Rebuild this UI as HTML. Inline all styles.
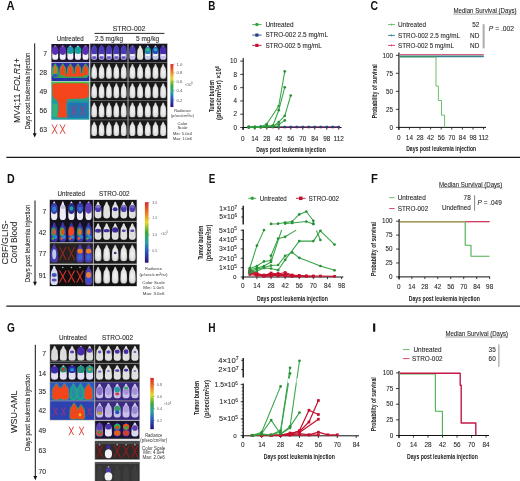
<!DOCTYPE html><html><head><meta charset="utf-8"><style>html,body{margin:0;padding:0;background:#fff;overflow:hidden}svg{display:block;will-change:transform}text{font-family:"Liberation Sans",sans-serif}</style></head><body>
<svg width="520" height="481" viewBox="0 0 520 481" font-family="Liberation Sans, sans-serif" fill="#222">
<defs>
<filter id="b1" x="-50%" y="-50%" width="200%" height="200%"><feGaussianBlur stdDeviation="0.6"/></filter>
<filter id="b2" x="-50%" y="-50%" width="200%" height="200%"><feGaussianBlur stdDeviation="1.2"/></filter>
<filter id="b05" x="-20%" y="-20%" width="140%" height="140%"><feGaussianBlur stdDeviation="0.35"/></filter>
<linearGradient id="cbar" x1="0" y1="0" x2="0" y2="1">
<stop offset="0" stop-color="#d8262a"/><stop offset="0.18" stop-color="#f07a20"/><stop offset="0.33" stop-color="#e8d828"/>
<stop offset="0.5" stop-color="#3aa83c"/><stop offset="0.66" stop-color="#2aa0a0"/><stop offset="0.8" stop-color="#2a5ac0"/>
<stop offset="1" stop-color="#2a1070"/></linearGradient>
<radialGradient id="mg" cx="0.5" cy="0.55" r="0.6"><stop offset="0" stop-color="#f4f4f4"/><stop offset="0.6" stop-color="#e2e2e2"/><stop offset="1" stop-color="#a8a8a8"/></radialGradient>
</defs>
<rect width="520" height="481" fill="#fff"/>
<line x1="6.3" y1="157.3" x2="520" y2="157.3" stroke="#1a1a1a" stroke-width="1.3"/>
<line x1="6.3" y1="306.1" x2="520" y2="306.1" stroke="#1a1a1a" stroke-width="1.3"/>
<text transform="translate(6.6 10.1) scale(0.933 1)" x="0" y="0" font-size="12.06" font-weight="bold" fill="#111">A</text>
<line x1="34.7" y1="43.4" x2="34.7" y2="134.5" stroke="#111" stroke-width="1"/>
<path d="M32.8,133.3 L36.6,133.3 L34.7,137.5Z" fill="#111"/>
<text transform="translate(16.9 90.6) rotate(-90)" x="0" y="3.31" font-size="9.2" text-anchor="middle" textLength="65" lengthAdjust="spacingAndGlyphs" stroke="#383838" stroke-width="0.08">MV4;11 <tspan font-style="italic">FOLR1+</tspan></text>
<text transform="translate(27.6 91) rotate(-90)" x="0" y="2.38" font-size="6.6" text-anchor="middle" textLength="77" lengthAdjust="spacingAndGlyphs" stroke="#383838" stroke-width="0.08">Days post leukemia injection</text>
<text x="47" y="55.75" font-size="6.8" text-anchor="end" stroke="#383838" stroke-width="0.08">7</text>
<text x="47" y="75.25" font-size="6.8" text-anchor="end" stroke="#383838" stroke-width="0.08">28</text>
<text x="47" y="93.85" font-size="6.8" text-anchor="end" stroke="#383838" stroke-width="0.08">49</text>
<text x="47" y="113.05" font-size="6.8" text-anchor="end" stroke="#383838" stroke-width="0.08">56</text>
<text x="47" y="131.85" font-size="6.8" text-anchor="end" stroke="#383838" stroke-width="0.08">63</text>
<text x="70.2" y="41" font-size="6.4" text-anchor="middle" textLength="27" lengthAdjust="spacingAndGlyphs" stroke="#383838" stroke-width="0.08">Untreated</text>
<text x="129" y="31.22" font-size="7" text-anchor="middle" textLength="32.7" lengthAdjust="spacingAndGlyphs" stroke="#383838" stroke-width="0.08">STRO-002</text>
<line x1="94.5" y1="33.4" x2="164.4" y2="33.4" stroke="#111" stroke-width="0.9"/>
<text x="109" y="40.9" font-size="6.4" text-anchor="middle" textLength="28.1" lengthAdjust="spacingAndGlyphs" stroke="#383838" stroke-width="0.08">2.5 mg/kg</text>
<text x="147.6" y="40.9" font-size="6.4" text-anchor="middle" textLength="23.3" lengthAdjust="spacingAndGlyphs" stroke="#383838" stroke-width="0.08">5 mg/kg</text>
<rect x="89.9" y="43.4" width="38.1" height="95.4" fill="#8a8a8a"/>
<rect x="128" y="43.4" width="39.6" height="95.4" fill="#8a8a8a"/>
<rect x="90.5" y="44" width="36.9" height="18" fill="#181628"/>
<path d="M94.19,45.44 L94.74,45.71 L95.11,46.52 L95.39,47.6 L95.94,48.5 L96.5,49.31 L96.77,50.39 L96.91,52.19 L97.05,54.44 L97.14,56.69 L96.96,58.31 L96.31,59.39 L95.3,59.8 L94.19,59.84 L93.08,59.8 L92.07,59.39 L91.42,58.31 L91.24,56.69 L91.33,54.44 L91.47,52.19 L91.61,50.39 L91.88,49.31 L92.44,48.5 L92.99,47.6 L93.27,46.52 L93.64,45.71Z" fill="#c0b8e8" filter="url(#b05)"/>
<ellipse cx="94.19" cy="50.62" rx="2.95" ry="4.9" fill="#4a3ab4" filter="url(#b1)"/>
<ellipse cx="94.19" cy="54.94" rx="2.48" ry="1.01" fill="#eeeefc" filter="url(#b1)"/>
<ellipse cx="94.19" cy="57.68" rx="2.07" ry="1.44" fill="#6a58c8" filter="url(#b1)"/>
<path d="M101.57,45.44 L102.12,45.71 L102.49,46.52 L102.77,47.6 L103.32,48.5 L103.88,49.31 L104.15,50.39 L104.29,52.19 L104.43,54.44 L104.52,56.69 L104.34,58.31 L103.69,59.39 L102.68,59.8 L101.57,59.84 L100.46,59.8 L99.45,59.39 L98.8,58.31 L98.62,56.69 L98.71,54.44 L98.85,52.19 L98.99,50.39 L99.26,49.31 L99.82,48.5 L100.37,47.6 L100.65,46.52 L101.02,45.71Z" fill="#c0b8e8" filter="url(#b05)"/>
<ellipse cx="101.57" cy="50.62" rx="2.95" ry="4.9" fill="#4a3ab4" filter="url(#b1)"/>
<ellipse cx="101.57" cy="54.94" rx="2.48" ry="1.01" fill="#eeeefc" filter="url(#b1)"/>
<ellipse cx="101.57" cy="57.68" rx="2.07" ry="1.44" fill="#6a58c8" filter="url(#b1)"/>
<path d="M108.95,45.44 L109.5,45.71 L109.87,46.52 L110.15,47.6 L110.7,48.5 L111.26,49.31 L111.53,50.39 L111.67,52.19 L111.81,54.44 L111.9,56.69 L111.72,58.31 L111.07,59.39 L110.06,59.8 L108.95,59.84 L107.84,59.8 L106.83,59.39 L106.18,58.31 L106,56.69 L106.09,54.44 L106.23,52.19 L106.37,50.39 L106.64,49.31 L107.2,48.5 L107.75,47.6 L108.03,46.52 L108.4,45.71Z" fill="#c0b8e8" filter="url(#b05)"/>
<ellipse cx="108.95" cy="50.62" rx="2.95" ry="4.9" fill="#4a3ab4" filter="url(#b1)"/>
<ellipse cx="108.95" cy="54.94" rx="2.48" ry="1.01" fill="#eeeefc" filter="url(#b1)"/>
<ellipse cx="108.95" cy="57.68" rx="2.07" ry="1.44" fill="#6a58c8" filter="url(#b1)"/>
<path d="M116.33,45.44 L116.88,45.71 L117.25,46.52 L117.53,47.6 L118.08,48.5 L118.64,49.31 L118.91,50.39 L119.05,52.19 L119.19,54.44 L119.28,56.69 L119.1,58.31 L118.45,59.39 L117.44,59.8 L116.33,59.84 L115.22,59.8 L114.21,59.39 L113.56,58.31 L113.38,56.69 L113.47,54.44 L113.61,52.19 L113.75,50.39 L114.02,49.31 L114.58,48.5 L115.13,47.6 L115.41,46.52 L115.78,45.71Z" fill="#c0b8e8" filter="url(#b05)"/>
<ellipse cx="116.33" cy="50.62" rx="2.95" ry="4.9" fill="#4a3ab4" filter="url(#b1)"/>
<ellipse cx="116.33" cy="54.94" rx="2.48" ry="1.01" fill="#eeeefc" filter="url(#b1)"/>
<ellipse cx="116.33" cy="57.68" rx="2.07" ry="1.44" fill="#6a58c8" filter="url(#b1)"/>
<path d="M123.71,45.44 L124.26,45.71 L124.63,46.52 L124.91,47.6 L125.46,48.5 L126.02,49.31 L126.29,50.39 L126.43,52.19 L126.57,54.44 L126.66,56.69 L126.48,58.31 L125.83,59.39 L124.82,59.8 L123.71,59.84 L122.6,59.8 L121.59,59.39 L120.94,58.31 L120.76,56.69 L120.85,54.44 L120.99,52.19 L121.13,50.39 L121.4,49.31 L121.96,48.5 L122.51,47.6 L122.79,46.52 L123.16,45.71Z" fill="#c0b8e8" filter="url(#b05)"/>
<ellipse cx="123.71" cy="50.62" rx="2.95" ry="4.9" fill="#4a3ab4" filter="url(#b1)"/>
<ellipse cx="123.71" cy="54.94" rx="2.48" ry="1.01" fill="#eeeefc" filter="url(#b1)"/>
<ellipse cx="123.71" cy="57.68" rx="2.07" ry="1.44" fill="#6a58c8" filter="url(#b1)"/>
<rect x="90.5" y="62.6" width="36.9" height="18.4" fill="#1a1a1a"/>
<path d="M94.19,64.07 L94.74,64.35 L95.11,65.18 L95.39,66.28 L95.94,67.2 L96.5,68.03 L96.77,69.13 L96.91,70.97 L97.05,73.27 L97.14,75.57 L96.96,77.23 L96.31,78.33 L95.3,78.75 L94.19,78.79 L93.08,78.75 L92.07,78.33 L91.42,77.23 L91.24,75.57 L91.33,73.27 L91.47,70.97 L91.61,69.13 L91.88,68.03 L92.44,67.2 L92.99,66.28 L93.27,65.18 L93.64,64.35Z" fill="url(#mg)" filter="url(#b05)"/>
<path d="M101.57,64.07 L102.12,64.35 L102.49,65.18 L102.77,66.28 L103.32,67.2 L103.88,68.03 L104.15,69.13 L104.29,70.97 L104.43,73.27 L104.52,75.57 L104.34,77.23 L103.69,78.33 L102.68,78.75 L101.57,78.79 L100.46,78.75 L99.45,78.33 L98.8,77.23 L98.62,75.57 L98.71,73.27 L98.85,70.97 L98.99,69.13 L99.26,68.03 L99.82,67.2 L100.37,66.28 L100.65,65.18 L101.02,64.35Z" fill="url(#mg)" filter="url(#b05)"/>
<path d="M108.95,64.07 L109.5,64.35 L109.87,65.18 L110.15,66.28 L110.7,67.2 L111.26,68.03 L111.53,69.13 L111.67,70.97 L111.81,73.27 L111.9,75.57 L111.72,77.23 L111.07,78.33 L110.06,78.75 L108.95,78.79 L107.84,78.75 L106.83,78.33 L106.18,77.23 L106,75.57 L106.09,73.27 L106.23,70.97 L106.37,69.13 L106.64,68.03 L107.2,67.2 L107.75,66.28 L108.03,65.18 L108.4,64.35Z" fill="url(#mg)" filter="url(#b05)"/>
<path d="M116.33,64.07 L116.88,64.35 L117.25,65.18 L117.53,66.28 L118.08,67.2 L118.64,68.03 L118.91,69.13 L119.05,70.97 L119.19,73.27 L119.28,75.57 L119.1,77.23 L118.45,78.33 L117.44,78.75 L116.33,78.79 L115.22,78.75 L114.21,78.33 L113.56,77.23 L113.38,75.57 L113.47,73.27 L113.61,70.97 L113.75,69.13 L114.02,68.03 L114.58,67.2 L115.13,66.28 L115.41,65.18 L115.78,64.35Z" fill="url(#mg)" filter="url(#b05)"/>
<path d="M123.71,64.07 L124.26,64.35 L124.63,65.18 L124.91,66.28 L125.46,67.2 L126.02,68.03 L126.29,69.13 L126.43,70.97 L126.57,73.27 L126.66,75.57 L126.48,77.23 L125.83,78.33 L124.82,78.75 L123.71,78.79 L122.6,78.75 L121.59,78.33 L120.94,77.23 L120.76,75.57 L120.85,73.27 L120.99,70.97 L121.13,69.13 L121.4,68.03 L121.96,67.2 L122.51,66.28 L122.79,65.18 L123.16,64.35Z" fill="url(#mg)" filter="url(#b05)"/>
<rect x="90.5" y="81.7" width="36.9" height="18.7" fill="#1a1a1a"/>
<path d="M94.19,83.2 L94.74,83.48 L95.11,84.32 L95.39,85.44 L95.94,86.38 L96.5,87.22 L96.77,88.34 L96.91,90.21 L97.05,92.55 L97.14,94.88 L96.96,96.57 L96.31,97.69 L95.3,98.11 L94.19,98.16 L93.08,98.11 L92.07,97.69 L91.42,96.57 L91.24,94.88 L91.33,92.55 L91.47,90.21 L91.61,88.34 L91.88,87.22 L92.44,86.38 L92.99,85.44 L93.27,84.32 L93.64,83.48Z" fill="url(#mg)" filter="url(#b05)"/>
<path d="M101.57,83.2 L102.12,83.48 L102.49,84.32 L102.77,85.44 L103.32,86.38 L103.88,87.22 L104.15,88.34 L104.29,90.21 L104.43,92.55 L104.52,94.88 L104.34,96.57 L103.69,97.69 L102.68,98.11 L101.57,98.16 L100.46,98.11 L99.45,97.69 L98.8,96.57 L98.62,94.88 L98.71,92.55 L98.85,90.21 L98.99,88.34 L99.26,87.22 L99.82,86.38 L100.37,85.44 L100.65,84.32 L101.02,83.48Z" fill="url(#mg)" filter="url(#b05)"/>
<path d="M108.95,83.2 L109.5,83.48 L109.87,84.32 L110.15,85.44 L110.7,86.38 L111.26,87.22 L111.53,88.34 L111.67,90.21 L111.81,92.55 L111.9,94.88 L111.72,96.57 L111.07,97.69 L110.06,98.11 L108.95,98.16 L107.84,98.11 L106.83,97.69 L106.18,96.57 L106,94.88 L106.09,92.55 L106.23,90.21 L106.37,88.34 L106.64,87.22 L107.2,86.38 L107.75,85.44 L108.03,84.32 L108.4,83.48Z" fill="url(#mg)" filter="url(#b05)"/>
<path d="M116.33,83.2 L116.88,83.48 L117.25,84.32 L117.53,85.44 L118.08,86.38 L118.64,87.22 L118.91,88.34 L119.05,90.21 L119.19,92.55 L119.28,94.88 L119.1,96.57 L118.45,97.69 L117.44,98.11 L116.33,98.16 L115.22,98.11 L114.21,97.69 L113.56,96.57 L113.38,94.88 L113.47,92.55 L113.61,90.21 L113.75,88.34 L114.02,87.22 L114.58,86.38 L115.13,85.44 L115.41,84.32 L115.78,83.48Z" fill="url(#mg)" filter="url(#b05)"/>
<path d="M123.71,83.2 L124.26,83.48 L124.63,84.32 L124.91,85.44 L125.46,86.38 L126.02,87.22 L126.29,88.34 L126.43,90.21 L126.57,92.55 L126.66,94.88 L126.48,96.57 L125.83,97.69 L124.82,98.11 L123.71,98.16 L122.6,98.11 L121.59,97.69 L120.94,96.57 L120.76,94.88 L120.85,92.55 L120.99,90.21 L121.13,88.34 L121.4,87.22 L121.96,86.38 L122.51,85.44 L122.79,84.32 L123.16,83.48Z" fill="url(#mg)" filter="url(#b05)"/>
<rect x="90.5" y="101" width="36.9" height="18.6" fill="#1a1a1a"/>
<path d="M94.19,102.49 L94.74,102.77 L95.11,103.6 L95.39,104.72 L95.94,105.65 L96.5,106.49 L96.77,107.6 L96.91,109.46 L97.05,111.79 L97.14,114.11 L96.96,115.79 L96.31,116.9 L95.3,117.32 L94.19,117.37 L93.08,117.32 L92.07,116.9 L91.42,115.79 L91.24,114.11 L91.33,111.79 L91.47,109.46 L91.61,107.6 L91.88,106.49 L92.44,105.65 L92.99,104.72 L93.27,103.6 L93.64,102.77Z" fill="url(#mg)" filter="url(#b05)"/>
<path d="M101.57,102.49 L102.12,102.77 L102.49,103.6 L102.77,104.72 L103.32,105.65 L103.88,106.49 L104.15,107.6 L104.29,109.46 L104.43,111.79 L104.52,114.11 L104.34,115.79 L103.69,116.9 L102.68,117.32 L101.57,117.37 L100.46,117.32 L99.45,116.9 L98.8,115.79 L98.62,114.11 L98.71,111.79 L98.85,109.46 L98.99,107.6 L99.26,106.49 L99.82,105.65 L100.37,104.72 L100.65,103.6 L101.02,102.77Z" fill="url(#mg)" filter="url(#b05)"/>
<path d="M108.95,102.49 L109.5,102.77 L109.87,103.6 L110.15,104.72 L110.7,105.65 L111.26,106.49 L111.53,107.6 L111.67,109.46 L111.81,111.79 L111.9,114.11 L111.72,115.79 L111.07,116.9 L110.06,117.32 L108.95,117.37 L107.84,117.32 L106.83,116.9 L106.18,115.79 L106,114.11 L106.09,111.79 L106.23,109.46 L106.37,107.6 L106.64,106.49 L107.2,105.65 L107.75,104.72 L108.03,103.6 L108.4,102.77Z" fill="url(#mg)" filter="url(#b05)"/>
<path d="M116.33,102.49 L116.88,102.77 L117.25,103.6 L117.53,104.72 L118.08,105.65 L118.64,106.49 L118.91,107.6 L119.05,109.46 L119.19,111.79 L119.28,114.11 L119.1,115.79 L118.45,116.9 L117.44,117.32 L116.33,117.37 L115.22,117.32 L114.21,116.9 L113.56,115.79 L113.38,114.11 L113.47,111.79 L113.61,109.46 L113.75,107.6 L114.02,106.49 L114.58,105.65 L115.13,104.72 L115.41,103.6 L115.78,102.77Z" fill="url(#mg)" filter="url(#b05)"/>
<path d="M123.71,102.49 L124.26,102.77 L124.63,103.6 L124.91,104.72 L125.46,105.65 L126.02,106.49 L126.29,107.6 L126.43,109.46 L126.57,111.79 L126.66,114.11 L126.48,115.79 L125.83,116.9 L124.82,117.32 L123.71,117.37 L122.6,117.32 L121.59,116.9 L120.94,115.79 L120.76,114.11 L120.85,111.79 L120.99,109.46 L121.13,107.6 L121.4,106.49 L121.96,105.65 L122.51,104.72 L122.79,103.6 L123.16,102.77Z" fill="url(#mg)" filter="url(#b05)"/>
<rect x="90.5" y="120.2" width="36.9" height="18" fill="#1a1a1a"/>
<path d="M94.19,121.64 L94.74,121.91 L95.11,122.72 L95.39,123.8 L95.94,124.7 L96.5,125.51 L96.77,126.59 L96.91,128.39 L97.05,130.64 L97.14,132.89 L96.96,134.51 L96.31,135.59 L95.3,136 L94.19,136.04 L93.08,136 L92.07,135.59 L91.42,134.51 L91.24,132.89 L91.33,130.64 L91.47,128.39 L91.61,126.59 L91.88,125.51 L92.44,124.7 L92.99,123.8 L93.27,122.72 L93.64,121.91Z" fill="url(#mg)" filter="url(#b05)"/>
<path d="M101.57,121.64 L102.12,121.91 L102.49,122.72 L102.77,123.8 L103.32,124.7 L103.88,125.51 L104.15,126.59 L104.29,128.39 L104.43,130.64 L104.52,132.89 L104.34,134.51 L103.69,135.59 L102.68,136 L101.57,136.04 L100.46,136 L99.45,135.59 L98.8,134.51 L98.62,132.89 L98.71,130.64 L98.85,128.39 L98.99,126.59 L99.26,125.51 L99.82,124.7 L100.37,123.8 L100.65,122.72 L101.02,121.91Z" fill="url(#mg)" filter="url(#b05)"/>
<path d="M108.95,121.64 L109.5,121.91 L109.87,122.72 L110.15,123.8 L110.7,124.7 L111.26,125.51 L111.53,126.59 L111.67,128.39 L111.81,130.64 L111.9,132.89 L111.72,134.51 L111.07,135.59 L110.06,136 L108.95,136.04 L107.84,136 L106.83,135.59 L106.18,134.51 L106,132.89 L106.09,130.64 L106.23,128.39 L106.37,126.59 L106.64,125.51 L107.2,124.7 L107.75,123.8 L108.03,122.72 L108.4,121.91Z" fill="url(#mg)" filter="url(#b05)"/>
<path d="M116.33,121.64 L116.88,121.91 L117.25,122.72 L117.53,123.8 L118.08,124.7 L118.64,125.51 L118.91,126.59 L119.05,128.39 L119.19,130.64 L119.28,132.89 L119.1,134.51 L118.45,135.59 L117.44,136 L116.33,136.04 L115.22,136 L114.21,135.59 L113.56,134.51 L113.38,132.89 L113.47,130.64 L113.61,128.39 L113.75,126.59 L114.02,125.51 L114.58,124.7 L115.13,123.8 L115.41,122.72 L115.78,121.91Z" fill="url(#mg)" filter="url(#b05)"/>
<path d="M123.71,121.64 L124.26,121.91 L124.63,122.72 L124.91,123.8 L125.46,124.7 L126.02,125.51 L126.29,126.59 L126.43,128.39 L126.57,130.64 L126.66,132.89 L126.48,134.51 L125.83,135.59 L124.82,136 L123.71,136.04 L122.6,136 L121.59,135.59 L120.94,134.51 L120.76,132.89 L120.85,130.64 L120.99,128.39 L121.13,126.59 L121.4,125.51 L121.96,124.7 L122.51,123.8 L122.79,122.72 L123.16,121.91Z" fill="url(#mg)" filter="url(#b05)"/>
<rect x="128.6" y="44" width="38.4" height="18" fill="#181420"/>
<path d="M132.44,45.44 L133.02,45.71 L133.4,46.52 L133.69,47.6 L134.26,48.5 L134.84,49.31 L135.13,50.39 L135.27,52.19 L135.42,54.44 L135.51,56.69 L135.32,58.31 L134.65,59.39 L133.59,59.8 L132.44,59.84 L131.29,59.8 L130.23,59.39 L129.56,58.31 L129.37,56.69 L129.46,54.44 L129.61,52.19 L129.75,50.39 L130.04,49.31 L130.62,48.5 L131.19,47.6 L131.48,46.52 L131.86,45.71Z" fill="#c8c0ec" filter="url(#b05)"/>
<ellipse cx="132.44" cy="50.62" rx="3.07" ry="4.32" fill="#4a3ab4" filter="url(#b1)"/>
<ellipse cx="132.44" cy="54.94" rx="2.58" ry="1.01" fill="#f4f4fc" filter="url(#b1)"/>
<path d="M140.12,45.44 L140.7,45.71 L141.08,46.52 L141.37,47.6 L141.94,48.5 L142.52,49.31 L142.81,50.39 L142.95,52.19 L143.1,54.44 L143.19,56.69 L143,58.31 L142.33,59.39 L141.27,59.8 L140.12,59.84 L138.97,59.8 L137.91,59.39 L137.24,58.31 L137.05,56.69 L137.14,54.44 L137.29,52.19 L137.43,50.39 L137.72,49.31 L138.3,48.5 L138.87,47.6 L139.16,46.52 L139.54,45.71Z" fill="#e4e4dc" filter="url(#b05)"/>
<ellipse cx="140.12" cy="52.64" rx="1.84" ry="2.88" fill="#e8e8d8" filter="url(#b1)"/>
<path d="M147.8,45.44 L148.38,45.71 L148.76,46.52 L149.05,47.6 L149.62,48.5 L150.2,49.31 L150.49,50.39 L150.63,52.19 L150.78,54.44 L150.87,56.69 L150.68,58.31 L150.01,59.39 L148.95,59.8 L147.8,59.84 L146.65,59.8 L145.59,59.39 L144.92,58.31 L144.73,56.69 L144.82,54.44 L144.97,52.19 L145.11,50.39 L145.4,49.31 L145.98,48.5 L146.55,47.6 L146.84,46.52 L147.22,45.71Z" fill="#c0c8ec" filter="url(#b05)"/>
<ellipse cx="147.8" cy="50.62" rx="3.07" ry="3.74" fill="#1a8ab0" filter="url(#b1)"/>
<ellipse cx="147.8" cy="49.76" rx="1.84" ry="1.44" fill="#30c070" filter="url(#b1)"/>
<ellipse cx="147.8" cy="54.94" rx="2.58" ry="1.01" fill="#f4f4fc" filter="url(#b1)"/>
<path d="M155.48,45.44 L156.06,45.71 L156.44,46.52 L156.73,47.6 L157.3,48.5 L157.88,49.31 L158.17,50.39 L158.31,52.19 L158.46,54.44 L158.55,56.69 L158.36,58.31 L157.69,59.39 L156.63,59.8 L155.48,59.84 L154.33,59.8 L153.27,59.39 L152.6,58.31 L152.41,56.69 L152.5,54.44 L152.65,52.19 L152.79,50.39 L153.08,49.31 L153.66,48.5 L154.23,47.6 L154.52,46.52 L154.9,45.71Z" fill="#c0c8ec" filter="url(#b05)"/>
<ellipse cx="155.48" cy="50.62" rx="3.07" ry="3.74" fill="#2050c0" filter="url(#b1)"/>
<ellipse cx="155.48" cy="49.76" rx="1.84" ry="1.44" fill="#20b0c0" filter="url(#b1)"/>
<ellipse cx="155.48" cy="54.94" rx="2.58" ry="1.01" fill="#f4f4fc" filter="url(#b1)"/>
<path d="M163.16,45.44 L163.74,45.71 L164.12,46.52 L164.41,47.6 L164.98,48.5 L165.56,49.31 L165.85,50.39 L165.99,52.19 L166.14,54.44 L166.23,56.69 L166.04,58.31 L165.37,59.39 L164.31,59.8 L163.16,59.84 L162.01,59.8 L160.95,59.39 L160.28,58.31 L160.09,56.69 L160.18,54.44 L160.33,52.19 L160.47,50.39 L160.76,49.31 L161.34,48.5 L161.91,47.6 L162.2,46.52 L162.58,45.71Z" fill="#c8c0ec" filter="url(#b05)"/>
<ellipse cx="163.16" cy="50.91" rx="3.07" ry="4.61" fill="#4a2ab0" filter="url(#b1)"/>
<ellipse cx="163.16" cy="54.94" rx="2.58" ry="1.01" fill="#f4f4fc" filter="url(#b1)"/>
<rect x="128.6" y="62.6" width="38.4" height="18.4" fill="#1a1a1a"/>
<path d="M132.44,64.07 L133.02,64.35 L133.4,65.18 L133.69,66.28 L134.26,67.2 L134.84,68.03 L135.13,69.13 L135.27,70.97 L135.42,73.27 L135.51,75.57 L135.32,77.23 L134.65,78.33 L133.59,78.75 L132.44,78.79 L131.29,78.75 L130.23,78.33 L129.56,77.23 L129.37,75.57 L129.46,73.27 L129.61,70.97 L129.75,69.13 L130.04,68.03 L130.62,67.2 L131.19,66.28 L131.48,65.18 L131.86,64.35Z" fill="url(#mg)" filter="url(#b05)"/>
<path d="M140.12,64.07 L140.7,64.35 L141.08,65.18 L141.37,66.28 L141.94,67.2 L142.52,68.03 L142.81,69.13 L142.95,70.97 L143.1,73.27 L143.19,75.57 L143,77.23 L142.33,78.33 L141.27,78.75 L140.12,78.79 L138.97,78.75 L137.91,78.33 L137.24,77.23 L137.05,75.57 L137.14,73.27 L137.29,70.97 L137.43,69.13 L137.72,68.03 L138.3,67.2 L138.87,66.28 L139.16,65.18 L139.54,64.35Z" fill="url(#mg)" filter="url(#b05)"/>
<path d="M147.8,64.07 L148.38,64.35 L148.76,65.18 L149.05,66.28 L149.62,67.2 L150.2,68.03 L150.49,69.13 L150.63,70.97 L150.78,73.27 L150.87,75.57 L150.68,77.23 L150.01,78.33 L148.95,78.75 L147.8,78.79 L146.65,78.75 L145.59,78.33 L144.92,77.23 L144.73,75.57 L144.82,73.27 L144.97,70.97 L145.11,69.13 L145.4,68.03 L145.98,67.2 L146.55,66.28 L146.84,65.18 L147.22,64.35Z" fill="url(#mg)" filter="url(#b05)"/>
<path d="M155.48,64.07 L156.06,64.35 L156.44,65.18 L156.73,66.28 L157.3,67.2 L157.88,68.03 L158.17,69.13 L158.31,70.97 L158.46,73.27 L158.55,75.57 L158.36,77.23 L157.69,78.33 L156.63,78.75 L155.48,78.79 L154.33,78.75 L153.27,78.33 L152.6,77.23 L152.41,75.57 L152.5,73.27 L152.65,70.97 L152.79,69.13 L153.08,68.03 L153.66,67.2 L154.23,66.28 L154.52,65.18 L154.9,64.35Z" fill="url(#mg)" filter="url(#b05)"/>
<path d="M163.16,64.07 L163.74,64.35 L164.12,65.18 L164.41,66.28 L164.98,67.2 L165.56,68.03 L165.85,69.13 L165.99,70.97 L166.14,73.27 L166.23,75.57 L166.04,77.23 L165.37,78.33 L164.31,78.75 L163.16,78.79 L162.01,78.75 L160.95,78.33 L160.28,77.23 L160.09,75.57 L160.18,73.27 L160.33,70.97 L160.47,69.13 L160.76,68.03 L161.34,67.2 L161.91,66.28 L162.2,65.18 L162.58,64.35Z" fill="url(#mg)" filter="url(#b05)"/>
<rect x="128.6" y="81.7" width="38.4" height="18.7" fill="#1a1a1a"/>
<path d="M132.44,83.2 L133.02,83.48 L133.4,84.32 L133.69,85.44 L134.26,86.38 L134.84,87.22 L135.13,88.34 L135.27,90.21 L135.42,92.55 L135.51,94.88 L135.32,96.57 L134.65,97.69 L133.59,98.11 L132.44,98.16 L131.29,98.11 L130.23,97.69 L129.56,96.57 L129.37,94.88 L129.46,92.55 L129.61,90.21 L129.75,88.34 L130.04,87.22 L130.62,86.38 L131.19,85.44 L131.48,84.32 L131.86,83.48Z" fill="url(#mg)" filter="url(#b05)"/>
<path d="M140.12,83.2 L140.7,83.48 L141.08,84.32 L141.37,85.44 L141.94,86.38 L142.52,87.22 L142.81,88.34 L142.95,90.21 L143.1,92.55 L143.19,94.88 L143,96.57 L142.33,97.69 L141.27,98.11 L140.12,98.16 L138.97,98.11 L137.91,97.69 L137.24,96.57 L137.05,94.88 L137.14,92.55 L137.29,90.21 L137.43,88.34 L137.72,87.22 L138.3,86.38 L138.87,85.44 L139.16,84.32 L139.54,83.48Z" fill="url(#mg)" filter="url(#b05)"/>
<path d="M147.8,83.2 L148.38,83.48 L148.76,84.32 L149.05,85.44 L149.62,86.38 L150.2,87.22 L150.49,88.34 L150.63,90.21 L150.78,92.55 L150.87,94.88 L150.68,96.57 L150.01,97.69 L148.95,98.11 L147.8,98.16 L146.65,98.11 L145.59,97.69 L144.92,96.57 L144.73,94.88 L144.82,92.55 L144.97,90.21 L145.11,88.34 L145.4,87.22 L145.98,86.38 L146.55,85.44 L146.84,84.32 L147.22,83.48Z" fill="url(#mg)" filter="url(#b05)"/>
<path d="M155.48,83.2 L156.06,83.48 L156.44,84.32 L156.73,85.44 L157.3,86.38 L157.88,87.22 L158.17,88.34 L158.31,90.21 L158.46,92.55 L158.55,94.88 L158.36,96.57 L157.69,97.69 L156.63,98.11 L155.48,98.16 L154.33,98.11 L153.27,97.69 L152.6,96.57 L152.41,94.88 L152.5,92.55 L152.65,90.21 L152.79,88.34 L153.08,87.22 L153.66,86.38 L154.23,85.44 L154.52,84.32 L154.9,83.48Z" fill="url(#mg)" filter="url(#b05)"/>
<path d="M163.16,83.2 L163.74,83.48 L164.12,84.32 L164.41,85.44 L164.98,86.38 L165.56,87.22 L165.85,88.34 L165.99,90.21 L166.14,92.55 L166.23,94.88 L166.04,96.57 L165.37,97.69 L164.31,98.11 L163.16,98.16 L162.01,98.11 L160.95,97.69 L160.28,96.57 L160.09,94.88 L160.18,92.55 L160.33,90.21 L160.47,88.34 L160.76,87.22 L161.34,86.38 L161.91,85.44 L162.2,84.32 L162.58,83.48Z" fill="url(#mg)" filter="url(#b05)"/>
<rect x="128.6" y="101" width="38.4" height="18.6" fill="#1a1a1a"/>
<path d="M132.44,102.49 L133.02,102.77 L133.4,103.6 L133.69,104.72 L134.26,105.65 L134.84,106.49 L135.13,107.6 L135.27,109.46 L135.42,111.79 L135.51,114.11 L135.32,115.79 L134.65,116.9 L133.59,117.32 L132.44,117.37 L131.29,117.32 L130.23,116.9 L129.56,115.79 L129.37,114.11 L129.46,111.79 L129.61,109.46 L129.75,107.6 L130.04,106.49 L130.62,105.65 L131.19,104.72 L131.48,103.6 L131.86,102.77Z" fill="url(#mg)" filter="url(#b05)"/>
<path d="M140.12,102.49 L140.7,102.77 L141.08,103.6 L141.37,104.72 L141.94,105.65 L142.52,106.49 L142.81,107.6 L142.95,109.46 L143.1,111.79 L143.19,114.11 L143,115.79 L142.33,116.9 L141.27,117.32 L140.12,117.37 L138.97,117.32 L137.91,116.9 L137.24,115.79 L137.05,114.11 L137.14,111.79 L137.29,109.46 L137.43,107.6 L137.72,106.49 L138.3,105.65 L138.87,104.72 L139.16,103.6 L139.54,102.77Z" fill="url(#mg)" filter="url(#b05)"/>
<path d="M147.8,102.49 L148.38,102.77 L148.76,103.6 L149.05,104.72 L149.62,105.65 L150.2,106.49 L150.49,107.6 L150.63,109.46 L150.78,111.79 L150.87,114.11 L150.68,115.79 L150.01,116.9 L148.95,117.32 L147.8,117.37 L146.65,117.32 L145.59,116.9 L144.92,115.79 L144.73,114.11 L144.82,111.79 L144.97,109.46 L145.11,107.6 L145.4,106.49 L145.98,105.65 L146.55,104.72 L146.84,103.6 L147.22,102.77Z" fill="url(#mg)" filter="url(#b05)"/>
<path d="M155.48,102.49 L156.06,102.77 L156.44,103.6 L156.73,104.72 L157.3,105.65 L157.88,106.49 L158.17,107.6 L158.31,109.46 L158.46,111.79 L158.55,114.11 L158.36,115.79 L157.69,116.9 L156.63,117.32 L155.48,117.37 L154.33,117.32 L153.27,116.9 L152.6,115.79 L152.41,114.11 L152.5,111.79 L152.65,109.46 L152.79,107.6 L153.08,106.49 L153.66,105.65 L154.23,104.72 L154.52,103.6 L154.9,102.77Z" fill="url(#mg)" filter="url(#b05)"/>
<path d="M163.16,102.49 L163.74,102.77 L164.12,103.6 L164.41,104.72 L164.98,105.65 L165.56,106.49 L165.85,107.6 L165.99,109.46 L166.14,111.79 L166.23,114.11 L166.04,115.79 L165.37,116.9 L164.31,117.32 L163.16,117.37 L162.01,117.32 L160.95,116.9 L160.28,115.79 L160.09,114.11 L160.18,111.79 L160.33,109.46 L160.47,107.6 L160.76,106.49 L161.34,105.65 L161.91,104.72 L162.2,103.6 L162.58,102.77Z" fill="url(#mg)" filter="url(#b05)"/>
<rect x="128.6" y="120.2" width="38.4" height="18" fill="#1a1a1a"/>
<path d="M132.44,121.64 L133.02,121.91 L133.4,122.72 L133.69,123.8 L134.26,124.7 L134.84,125.51 L135.13,126.59 L135.27,128.39 L135.42,130.64 L135.51,132.89 L135.32,134.51 L134.65,135.59 L133.59,136 L132.44,136.04 L131.29,136 L130.23,135.59 L129.56,134.51 L129.37,132.89 L129.46,130.64 L129.61,128.39 L129.75,126.59 L130.04,125.51 L130.62,124.7 L131.19,123.8 L131.48,122.72 L131.86,121.91Z" fill="url(#mg)" filter="url(#b05)"/>
<path d="M140.12,121.64 L140.7,121.91 L141.08,122.72 L141.37,123.8 L141.94,124.7 L142.52,125.51 L142.81,126.59 L142.95,128.39 L143.1,130.64 L143.19,132.89 L143,134.51 L142.33,135.59 L141.27,136 L140.12,136.04 L138.97,136 L137.91,135.59 L137.24,134.51 L137.05,132.89 L137.14,130.64 L137.29,128.39 L137.43,126.59 L137.72,125.51 L138.3,124.7 L138.87,123.8 L139.16,122.72 L139.54,121.91Z" fill="url(#mg)" filter="url(#b05)"/>
<path d="M147.8,121.64 L148.38,121.91 L148.76,122.72 L149.05,123.8 L149.62,124.7 L150.2,125.51 L150.49,126.59 L150.63,128.39 L150.78,130.64 L150.87,132.89 L150.68,134.51 L150.01,135.59 L148.95,136 L147.8,136.04 L146.65,136 L145.59,135.59 L144.92,134.51 L144.73,132.89 L144.82,130.64 L144.97,128.39 L145.11,126.59 L145.4,125.51 L145.98,124.7 L146.55,123.8 L146.84,122.72 L147.22,121.91Z" fill="url(#mg)" filter="url(#b05)"/>
<path d="M155.48,121.64 L156.06,121.91 L156.44,122.72 L156.73,123.8 L157.3,124.7 L157.88,125.51 L158.17,126.59 L158.31,128.39 L158.46,130.64 L158.55,132.89 L158.36,134.51 L157.69,135.59 L156.63,136 L155.48,136.04 L154.33,136 L153.27,135.59 L152.6,134.51 L152.41,132.89 L152.5,130.64 L152.65,128.39 L152.79,126.59 L153.08,125.51 L153.66,124.7 L154.23,123.8 L154.52,122.72 L154.9,121.91Z" fill="url(#mg)" filter="url(#b05)"/>
<path d="M163.16,121.64 L163.74,121.91 L164.12,122.72 L164.41,123.8 L164.98,124.7 L165.56,125.51 L165.85,126.59 L165.99,128.39 L166.14,130.64 L166.23,132.89 L166.04,134.51 L165.37,135.59 L164.31,136 L163.16,136.04 L162.01,136 L160.95,135.59 L160.28,134.51 L160.09,132.89 L160.18,130.64 L160.33,128.39 L160.47,126.59 L160.76,125.51 L161.34,124.7 L161.91,123.8 L162.2,122.72 L162.58,121.91Z" fill="url(#mg)" filter="url(#b05)"/>
<rect x="51.4" y="44" width="37.9" height="18" fill="#1e1630"/>
<path d="M55.19,45.44 L55.76,45.71 L56.14,46.52 L56.42,47.6 L56.99,48.5 L57.56,49.31 L57.84,50.39 L57.99,52.19 L58.13,54.44 L58.22,56.69 L58.03,58.31 L57.37,59.39 L56.33,59.8 L55.19,59.84 L54.05,59.8 L53.01,59.39 L52.35,58.31 L52.16,56.69 L52.25,54.44 L52.39,52.19 L52.54,50.39 L52.82,49.31 L53.39,48.5 L53.96,47.6 L54.24,46.52 L54.62,45.71Z" fill="#f2f0fa" filter="url(#b05)"/>
<ellipse cx="55.19" cy="50.62" rx="3.34" ry="4.32" fill="#5a2eb0" filter="url(#b1)"/>
<path d="M62.77,45.44 L63.34,45.71 L63.72,46.52 L64,47.6 L64.57,48.5 L65.14,49.31 L65.42,50.39 L65.57,52.19 L65.71,54.44 L65.8,56.69 L65.61,58.31 L64.95,59.39 L63.91,59.8 L62.77,59.84 L61.63,59.8 L60.59,59.39 L59.93,58.31 L59.74,56.69 L59.83,54.44 L59.97,52.19 L60.12,50.39 L60.4,49.31 L60.97,48.5 L61.54,47.6 L61.82,46.52 L62.2,45.71Z" fill="#f2f0fa" filter="url(#b05)"/>
<ellipse cx="62.77" cy="50.62" rx="3.34" ry="4.32" fill="#5a2eb0" filter="url(#b1)"/>
<path d="M70.35,45.44 L70.92,45.71 L71.3,46.52 L71.58,47.6 L72.15,48.5 L72.72,49.31 L73,50.39 L73.15,52.19 L73.29,54.44 L73.38,56.69 L73.19,58.31 L72.53,59.39 L71.49,59.8 L70.35,59.84 L69.21,59.8 L68.17,59.39 L67.51,58.31 L67.32,56.69 L67.41,54.44 L67.55,52.19 L67.7,50.39 L67.98,49.31 L68.55,48.5 L69.12,47.6 L69.4,46.52 L69.78,45.71Z" fill="#f2f0fa" filter="url(#b05)"/>
<ellipse cx="70.35" cy="50.34" rx="3.34" ry="3.74" fill="#14a090" filter="url(#b1)"/>
<ellipse cx="70.35" cy="49.04" rx="1.82" ry="1.73" fill="#2c8ad0" filter="url(#b1)"/>
<path d="M77.93,45.44 L78.5,45.71 L78.88,46.52 L79.16,47.6 L79.73,48.5 L80.3,49.31 L80.58,50.39 L80.73,52.19 L80.87,54.44 L80.96,56.69 L80.77,58.31 L80.11,59.39 L79.07,59.8 L77.93,59.84 L76.79,59.8 L75.75,59.39 L75.09,58.31 L74.9,56.69 L74.99,54.44 L75.13,52.19 L75.28,50.39 L75.56,49.31 L76.13,48.5 L76.7,47.6 L76.98,46.52 L77.36,45.71Z" fill="#f2f0fa" filter="url(#b05)"/>
<ellipse cx="77.93" cy="50.34" rx="3.34" ry="3.74" fill="#18a4a0" filter="url(#b1)"/>
<path d="M85.51,45.44 L86.08,45.71 L86.46,46.52 L86.74,47.6 L87.31,48.5 L87.88,49.31 L88.16,50.39 L88.31,52.19 L88.45,54.44 L88.54,56.69 L88.35,58.31 L87.69,59.39 L86.65,59.8 L85.51,59.84 L84.37,59.8 L83.33,59.39 L82.67,58.31 L82.48,56.69 L82.57,54.44 L82.71,52.19 L82.86,50.39 L83.14,49.31 L83.71,48.5 L84.28,47.6 L84.56,46.52 L84.94,45.71Z" fill="#f2f0fa" filter="url(#b05)"/>
<ellipse cx="85.51" cy="50.62" rx="3.34" ry="4.32" fill="#5a2eb0" filter="url(#b1)"/>
<rect x="51.4" y="62.6" width="37.9" height="18.4" fill="#2c30a8"/>
<g filter="url(#b1)">
<path d="M53.4,75.6 L87.3,73.6 L87.3,78.1 L53.4,78.1Z" fill="#30a058"/>
<path d="M55.19,63.4 L55.86,63.65 L56.31,64.41 L56.65,65.42 L57.33,66.27 L58,67.03 L58.34,68.04 L58.51,69.73 L58.68,71.84 L58.79,73.95 L58.56,75.47 L57.78,76.48 L56.54,76.86 L55.19,76.9 L53.84,76.86 L52.6,76.48 L51.81,75.47 L51.59,73.95 L51.7,71.84 L51.87,69.73 L52.04,68.04 L52.38,67.03 L53.05,66.27 L53.73,65.42 L54.06,64.41 L54.52,63.65Z" fill="#3aa858"/>
<path d="M55.19,64.8 L55.56,64.97 L55.81,65.47 L56,66.15 L56.38,66.71 L56.75,67.22 L56.94,67.89 L57.03,69.02 L57.13,70.42 L57.19,71.83 L57.06,72.84 L56.63,73.52 L55.94,73.77 L55.19,73.8 L54.44,73.77 L53.75,73.52 L53.31,72.84 L53.19,71.83 L53.25,70.42 L53.35,69.02 L53.44,67.89 L53.63,67.22 L54,66.71 L54.38,66.15 L54.56,65.47 L54.81,64.97Z" fill="#c87a30"/>
<path d="M62.77,63.4 L63.44,63.65 L63.89,64.41 L64.23,65.42 L64.91,66.27 L65.58,67.03 L65.92,68.04 L66.09,69.73 L66.26,71.84 L66.37,73.95 L66.14,75.47 L65.36,76.48 L64.12,76.86 L62.77,76.9 L61.42,76.86 L60.18,76.48 L59.39,75.47 L59.17,73.95 L59.28,71.84 L59.45,69.73 L59.62,68.04 L59.96,67.03 L60.63,66.27 L61.31,65.42 L61.64,64.41 L62.09,63.65Z" fill="#3aa858"/>
<path d="M62.77,64.8 L63.24,65 L63.55,65.59 L63.79,66.38 L64.25,67.03 L64.72,67.62 L64.96,68.41 L65.07,69.72 L65.19,71.36 L65.27,73 L65.11,74.18 L64.57,74.97 L63.71,75.27 L62.77,75.3 L61.83,75.27 L60.97,74.97 L60.43,74.18 L60.27,73 L60.35,71.36 L60.47,69.72 L60.58,68.41 L60.82,67.62 L61.29,67.03 L61.75,66.38 L61.99,65.59 L62.3,65Z" fill="#f2461c"/>
<path d="M70.35,63.4 L71.02,63.65 L71.47,64.41 L71.81,65.42 L72.49,66.27 L73.16,67.03 L73.5,68.04 L73.67,69.73 L73.84,71.84 L73.95,73.95 L73.72,75.47 L72.94,76.48 L71.7,76.86 L70.35,76.9 L69,76.86 L67.76,76.48 L66.97,75.47 L66.75,73.95 L66.86,71.84 L67.03,69.73 L67.2,68.04 L67.54,67.03 L68.21,66.27 L68.89,65.42 L69.22,64.41 L69.67,63.65Z" fill="#3aa858"/>
<path d="M70.35,64.8 L70.82,65 L71.13,65.59 L71.37,66.38 L71.83,67.03 L72.3,67.62 L72.54,68.41 L72.65,69.72 L72.77,71.36 L72.85,73 L72.69,74.18 L72.15,74.97 L71.29,75.27 L70.35,75.3 L69.41,75.27 L68.55,74.97 L68.01,74.18 L67.85,73 L67.93,71.36 L68.05,69.72 L68.16,68.41 L68.4,67.62 L68.87,67.03 L69.33,66.38 L69.57,65.59 L69.88,65Z" fill="#f2461c"/>
<path d="M77.93,63.4 L78.61,63.65 L79.06,64.41 L79.39,65.42 L80.07,66.27 L80.74,67.03 L81.08,68.04 L81.25,69.73 L81.42,71.84 L81.53,73.95 L81.31,75.47 L80.52,76.48 L79.28,76.86 L77.93,76.9 L76.58,76.86 L75.34,76.48 L74.56,75.47 L74.33,73.95 L74.44,71.84 L74.61,69.73 L74.78,68.04 L75.12,67.03 L75.79,66.27 L76.47,65.42 L76.81,64.41 L77.26,63.65Z" fill="#3aa858"/>
<path d="M77.93,64.8 L78.4,65 L78.71,65.59 L78.95,66.38 L79.41,67.03 L79.88,67.62 L80.12,68.41 L80.23,69.72 L80.35,71.36 L80.43,73 L80.27,74.18 L79.73,74.97 L78.87,75.27 L77.93,75.3 L76.99,75.27 L76.13,74.97 L75.59,74.18 L75.43,73 L75.51,71.36 L75.63,69.72 L75.74,68.41 L75.98,67.62 L76.45,67.03 L76.91,66.38 L77.15,65.59 L77.46,65Z" fill="#f2461c"/>
<path d="M85.51,63.4 L86.18,63.65 L86.63,64.41 L86.97,65.42 L87.65,66.27 L88.32,67.03 L88.66,68.04 L88.83,69.73 L89,71.84 L89.11,73.95 L88.88,75.47 L88.1,76.48 L86.86,76.86 L85.51,76.9 L84.16,76.86 L82.92,76.48 L82.13,75.47 L81.91,73.95 L82.02,71.84 L82.19,69.73 L82.36,68.04 L82.7,67.03 L83.37,66.27 L84.05,65.42 L84.38,64.41 L84.83,63.65Z" fill="#3aa858"/>
<path d="M85.51,64.8 L85.98,65 L86.29,65.59 L86.53,66.38 L86.99,67.03 L87.46,67.62 L87.7,68.41 L87.81,69.72 L87.93,71.36 L88.01,73 L87.85,74.18 L87.31,74.97 L86.45,75.27 L85.51,75.3 L84.57,75.27 L83.71,74.97 L83.17,74.18 L83.01,73 L83.09,71.36 L83.21,69.72 L83.32,68.41 L83.56,67.62 L84.03,67.03 L84.49,66.38 L84.73,65.59 L85.04,65Z" fill="#f2461c"/>
<path d="M63.4,74.1 L85.3,73.1 L83.3,76.6 L65.4,76.6Z" fill="#f0461e"/>
<ellipse cx="55.4" cy="75.6" rx="2.5" ry="1.5" fill="#3050c0"/>
</g>
<rect x="51.4" y="81.7" width="37.9" height="19.5" fill="#2a9c8a"/>
<g filter="url(#b1)">
<rect x="51.4" y="81.7" width="37.9" height="2.2" fill="#48c048"/>
<path d="M52.4,85.7 Q52.4,83.3 56.4,83.3 L85.3,83.3 Q88.8,83.3 88.8,86.7 L88.8,95.4 Q88.3,98.4 83.3,98.4 L67.4,98.9 L57.4,100.4 L53.4,97.4 Q51.9,94.4 52.4,85.7Z" fill="#f4441c"/>
</g>
<rect x="51.4" y="101" width="37.9" height="18.6" fill="#1c8aa8"/>
<g filter="url(#b1)">
<rect x="51.9" y="101.5" width="36.9" height="17.6" fill="#20a0a0"/>
<rect x="67.4" y="102.5" width="20.9" height="15.6" fill="#2476b0"/>
<rect x="52.4" y="104" width="5" height="12.6" fill="#38b078"/>
<path d="M58.2,101 L66.4,101 L66.2,108 L67.2,117.6 L57.6,117.6 L58.6,108Z" fill="#f2441c"/>
</g>
<rect x="57.5" y="98.5" width="9.5" height="4" fill="#f2441c" filter="url(#b05)"/>
<line x1="71.5" y1="105.5" x2="76.5" y2="115.5" stroke="#b03070" stroke-width="0.8"/>
<line x1="76.5" y1="105.5" x2="71.5" y2="115.5" stroke="#b03070" stroke-width="0.8"/>
<line x1="80" y1="105.5" x2="85" y2="115.5" stroke="#b03070" stroke-width="0.8"/>
<line x1="85" y1="105.5" x2="80" y2="115.5" stroke="#b03070" stroke-width="0.8"/>
<line x1="52" y1="124.5" x2="57.2" y2="133.9" stroke="#d8342c" stroke-width="0.9"/>
<line x1="57.2" y1="124.5" x2="52" y2="133.9" stroke="#d8342c" stroke-width="0.9"/>
<line x1="60" y1="124.5" x2="65.2" y2="133.9" stroke="#d8342c" stroke-width="0.9"/>
<line x1="65.2" y1="124.5" x2="60" y2="133.9" stroke="#d8342c" stroke-width="0.9"/>
<rect x="170.4" y="64.1" width="3" height="42.9" fill="url(#cbar)"/>
<text x="176.4" y="65.65" font-size="4.3" fill="#555">1.0</text>
<line x1="173.5" y1="64.1" x2="174.8" y2="64.1" stroke="#444" stroke-width="0.4"/>
<text x="176.4" y="74.45" font-size="4.3" fill="#555">0.8</text>
<line x1="173.5" y1="72.9" x2="174.8" y2="72.9" stroke="#444" stroke-width="0.4"/>
<text x="176.4" y="83.15" font-size="4.3" fill="#555">0.6</text>
<line x1="173.5" y1="81.6" x2="174.8" y2="81.6" stroke="#444" stroke-width="0.4"/>
<text x="176.4" y="92.25" font-size="4.3" fill="#555">0.4</text>
<line x1="173.5" y1="90.7" x2="174.8" y2="90.7" stroke="#444" stroke-width="0.4"/>
<text x="176.4" y="101.55" font-size="4.3" fill="#555">0.2</text>
<line x1="173.5" y1="100" x2="174.8" y2="100" stroke="#444" stroke-width="0.4"/>
<text x="184.8" y="85.67" font-size="3.8" fill="#555">×10<tspan dy="-1.2" font-size="2.8">6</tspan></text>
<text x="182.5" y="111.98" font-size="4.1" text-anchor="middle" textLength="16.6" lengthAdjust="spacingAndGlyphs" fill="#333">Radiance</text>
<text x="182.5" y="116.88" font-size="4.1" text-anchor="middle" textLength="22.8" lengthAdjust="spacingAndGlyphs" fill="#333">(p/sec/cm²/sr)</text>
<text x="182.5" y="124.58" font-size="4.1" text-anchor="middle" fill="#333">Color</text>
<text x="182.5" y="129.48" font-size="4.1" text-anchor="middle" fill="#333">Scale</text>
<text x="182.5" y="135.28" font-size="4.1" text-anchor="middle" textLength="19" lengthAdjust="spacingAndGlyphs" fill="#333">Min: 5.0e4</text>
<text x="182.5" y="140.08" font-size="4.1" text-anchor="middle" textLength="19" lengthAdjust="spacingAndGlyphs" fill="#333">Max: 1.0e6</text>
<text transform="translate(208.2 10.1) scale(0.827 1)" x="0" y="0" font-size="11.92" font-weight="bold" fill="#111">B</text>
<line x1="252.3" y1="24.6" x2="261.5" y2="24.6" stroke="#34a544" stroke-width="0.9"/>
<circle cx="256.9" cy="24.6" r="1.75" fill="#34a544"/>
<line x1="252.3" y1="35.1" x2="261.5" y2="35.1" stroke="#22407a" stroke-width="0.9"/>
<rect x="255.3" y="33.5" width="3.2" height="3.2" fill="#22407a"/>
<line x1="252.3" y1="45.4" x2="261.5" y2="45.4" stroke="#c4102e" stroke-width="0.9"/>
<rect x="255.3" y="43.8" width="3.2" height="3.2" fill="#c4102e"/>
<text x="265.4" y="26.9" font-size="6.4" textLength="28.2" lengthAdjust="spacingAndGlyphs" stroke="#383838" stroke-width="0.08">Untreated</text>
<text x="265.4" y="37.4" font-size="6.4" textLength="62.6" lengthAdjust="spacingAndGlyphs" stroke="#383838" stroke-width="0.08">STRO-002 2.5 mg/mL</text>
<text x="265.4" y="47.7" font-size="6.4" textLength="56.5" lengthAdjust="spacingAndGlyphs" stroke="#383838" stroke-width="0.08">STRO-002 5 mg/mL</text>
<line x1="243.2" y1="58.1" x2="243.2" y2="130" stroke="#111" stroke-width="1.1"/>
<line x1="242.7" y1="127.5" x2="341.6" y2="127.5" stroke="#111" stroke-width="1"/>
<line x1="240.2" y1="127.5" x2="243.2" y2="127.5" stroke="#111" stroke-width="0.8"/>
<text x="237" y="129.77" font-size="6.3" text-anchor="end" stroke="#383838" stroke-width="0.08">0</text>
<line x1="240.2" y1="114.22" x2="243.2" y2="114.22" stroke="#111" stroke-width="0.8"/>
<text x="237" y="116.49" font-size="6.3" text-anchor="end" stroke="#383838" stroke-width="0.08">2</text>
<line x1="240.2" y1="100.94" x2="243.2" y2="100.94" stroke="#111" stroke-width="0.8"/>
<text x="237" y="103.21" font-size="6.3" text-anchor="end" stroke="#383838" stroke-width="0.08">4</text>
<line x1="240.2" y1="87.66" x2="243.2" y2="87.66" stroke="#111" stroke-width="0.8"/>
<text x="237" y="89.93" font-size="6.3" text-anchor="end" stroke="#383838" stroke-width="0.08">6</text>
<line x1="240.2" y1="74.38" x2="243.2" y2="74.38" stroke="#111" stroke-width="0.8"/>
<text x="237" y="76.65" font-size="6.3" text-anchor="end" stroke="#383838" stroke-width="0.08">8</text>
<line x1="240.2" y1="61.1" x2="243.2" y2="61.1" stroke="#111" stroke-width="0.8"/>
<text x="237" y="63.37" font-size="6.3" text-anchor="end" stroke="#383838" stroke-width="0.08">10</text>
<line x1="242.8" y1="127.5" x2="242.8" y2="129.7" stroke="#111" stroke-width="0.8"/>
<text x="242.8" y="140.8" font-size="6.4" text-anchor="middle" stroke="#383838" stroke-width="0.08">0</text>
<line x1="254.79" y1="127.5" x2="254.79" y2="129.7" stroke="#111" stroke-width="0.8"/>
<text x="254.79" y="140.8" font-size="6.4" text-anchor="middle" stroke="#383838" stroke-width="0.08">14</text>
<line x1="266.78" y1="127.5" x2="266.78" y2="129.7" stroke="#111" stroke-width="0.8"/>
<text x="266.78" y="140.8" font-size="6.4" text-anchor="middle" stroke="#383838" stroke-width="0.08">28</text>
<line x1="278.76" y1="127.5" x2="278.76" y2="129.7" stroke="#111" stroke-width="0.8"/>
<text x="278.76" y="140.8" font-size="6.4" text-anchor="middle" stroke="#383838" stroke-width="0.08">42</text>
<line x1="290.75" y1="127.5" x2="290.75" y2="129.7" stroke="#111" stroke-width="0.8"/>
<text x="290.75" y="140.8" font-size="6.4" text-anchor="middle" stroke="#383838" stroke-width="0.08">56</text>
<line x1="302.74" y1="127.5" x2="302.74" y2="129.7" stroke="#111" stroke-width="0.8"/>
<text x="302.74" y="140.8" font-size="6.4" text-anchor="middle" stroke="#383838" stroke-width="0.08">70</text>
<line x1="314.73" y1="127.5" x2="314.73" y2="129.7" stroke="#111" stroke-width="0.8"/>
<text x="314.73" y="140.8" font-size="6.4" text-anchor="middle" stroke="#383838" stroke-width="0.08">84</text>
<line x1="326.72" y1="127.5" x2="326.72" y2="129.7" stroke="#111" stroke-width="0.8"/>
<text x="326.72" y="140.8" font-size="6.4" text-anchor="middle" stroke="#383838" stroke-width="0.08">98</text>
<line x1="338.71" y1="127.5" x2="338.71" y2="129.7" stroke="#111" stroke-width="0.8"/>
<text x="338.71" y="140.8" font-size="6.4" text-anchor="middle" stroke="#383838" stroke-width="0.08">112</text>
<text x="291" y="152.24" font-size="7.6" text-anchor="middle" textLength="69.5" lengthAdjust="spacingAndGlyphs" font-weight="bold">Days post leukemia injection</text>
<text transform="translate(211 96) rotate(-90)" x="0" y="2.59" font-size="7.2" text-anchor="middle" textLength="32" lengthAdjust="spacingAndGlyphs" font-weight="bold">Tumor burden</text>
<text transform="translate(218 93) rotate(-90)" x="0" y="2.59" font-size="7.2" text-anchor="middle" textLength="54" lengthAdjust="spacingAndGlyphs" font-weight="bold">(p/sec/cm<tspan dy="-2" font-size="4.5">2</tspan><tspan dy="2">/sr) ×10</tspan><tspan dy="-2" font-size="4.5">6</tspan></text>
<polyline points="248.79,127.2 254.79,127.2 260.78,127.2 266.78,127.2 272.77,127.2 278.76,127.2 284.76,127.2 290.75,127.2 296.75,127.2 302.74,127.2 308.74,127.2 314.73,127.2 320.72,127.2 326.72,127.2 332.71,127.2 338.71,127.2" fill="none" stroke="#c4102e" stroke-width="0.9" stroke-linejoin="round"/>
<rect x="247.69" y="126.1" width="2.2" height="2.2" fill="#c4102e"/>
<rect x="253.69" y="126.1" width="2.2" height="2.2" fill="#c4102e"/>
<rect x="259.68" y="126.1" width="2.2" height="2.2" fill="#c4102e"/>
<rect x="265.68" y="126.1" width="2.2" height="2.2" fill="#c4102e"/>
<rect x="271.67" y="126.1" width="2.2" height="2.2" fill="#c4102e"/>
<rect x="277.66" y="126.1" width="2.2" height="2.2" fill="#c4102e"/>
<rect x="283.66" y="126.1" width="2.2" height="2.2" fill="#c4102e"/>
<rect x="289.65" y="126.1" width="2.2" height="2.2" fill="#c4102e"/>
<rect x="295.65" y="126.1" width="2.2" height="2.2" fill="#c4102e"/>
<rect x="301.64" y="126.1" width="2.2" height="2.2" fill="#c4102e"/>
<rect x="307.64" y="126.1" width="2.2" height="2.2" fill="#c4102e"/>
<rect x="313.63" y="126.1" width="2.2" height="2.2" fill="#c4102e"/>
<rect x="319.62" y="126.1" width="2.2" height="2.2" fill="#c4102e"/>
<rect x="325.62" y="126.1" width="2.2" height="2.2" fill="#c4102e"/>
<rect x="331.61" y="126.1" width="2.2" height="2.2" fill="#c4102e"/>
<rect x="337.61" y="126.1" width="2.2" height="2.2" fill="#c4102e"/>
<polyline points="248.79,126.9 254.79,126.9 260.78,126.9 266.78,126.9 272.77,126.9 278.76,126.9 284.76,126.9 290.75,126.9 296.75,126.9 302.74,126.9 308.74,126.9 314.73,126.9 320.72,126.9 326.72,126.9 332.71,126.9 338.71,126.9" fill="none" stroke="#22407a" stroke-width="0.9" stroke-linejoin="round"/>
<rect x="247.69" y="125.8" width="2.2" height="2.2" fill="#22407a"/>
<rect x="253.69" y="125.8" width="2.2" height="2.2" fill="#22407a"/>
<rect x="259.68" y="125.8" width="2.2" height="2.2" fill="#22407a"/>
<rect x="265.68" y="125.8" width="2.2" height="2.2" fill="#22407a"/>
<rect x="271.67" y="125.8" width="2.2" height="2.2" fill="#22407a"/>
<rect x="277.66" y="125.8" width="2.2" height="2.2" fill="#22407a"/>
<rect x="283.66" y="125.8" width="2.2" height="2.2" fill="#22407a"/>
<rect x="289.65" y="125.8" width="2.2" height="2.2" fill="#22407a"/>
<rect x="295.65" y="125.8" width="2.2" height="2.2" fill="#22407a"/>
<rect x="301.64" y="125.8" width="2.2" height="2.2" fill="#22407a"/>
<rect x="307.64" y="125.8" width="2.2" height="2.2" fill="#22407a"/>
<rect x="313.63" y="125.8" width="2.2" height="2.2" fill="#22407a"/>
<rect x="319.62" y="125.8" width="2.2" height="2.2" fill="#22407a"/>
<rect x="325.62" y="125.8" width="2.2" height="2.2" fill="#22407a"/>
<rect x="331.61" y="125.8" width="2.2" height="2.2" fill="#22407a"/>
<rect x="337.61" y="125.8" width="2.2" height="2.2" fill="#22407a"/>
<polyline points="248.79,127.2 254.79,127.2 260.78,127 266.78,124 278.76,106 284.76,71.4" fill="none" stroke="#34a544" stroke-width="1.05" stroke-linejoin="round"/>
<circle cx="248.79" cy="127.2" r="1.35" fill="#2b8f3a"/>
<circle cx="254.79" cy="127.2" r="1.35" fill="#2b8f3a"/>
<circle cx="260.78" cy="127" r="1.35" fill="#2b8f3a"/>
<circle cx="266.78" cy="124" r="1.35" fill="#2b8f3a"/>
<circle cx="278.76" cy="106" r="1.35" fill="#2b8f3a"/>
<circle cx="284.76" cy="71.4" r="1.35" fill="#2b8f3a"/>
<polyline points="248.79,127.4 254.79,127.4 260.78,127.2 266.78,126.5 272.77,126 278.76,110.2 284.76,87.3" fill="none" stroke="#34a544" stroke-width="1.05" stroke-linejoin="round"/>
<circle cx="248.79" cy="127.4" r="1.35" fill="#2b8f3a"/>
<circle cx="254.79" cy="127.4" r="1.35" fill="#2b8f3a"/>
<circle cx="260.78" cy="127.2" r="1.35" fill="#2b8f3a"/>
<circle cx="266.78" cy="126.5" r="1.35" fill="#2b8f3a"/>
<circle cx="272.77" cy="126" r="1.35" fill="#2b8f3a"/>
<circle cx="278.76" cy="110.2" r="1.35" fill="#2b8f3a"/>
<circle cx="284.76" cy="87.3" r="1.35" fill="#2b8f3a"/>
<polyline points="248.79,127.2 254.79,127 260.78,126.8 266.78,126.8 272.77,126.8 278.76,122 284.76,115.8 290.75,95.5" fill="none" stroke="#34a544" stroke-width="1.05" stroke-linejoin="round"/>
<circle cx="248.79" cy="127.2" r="1.35" fill="#2b8f3a"/>
<circle cx="254.79" cy="127" r="1.35" fill="#2b8f3a"/>
<circle cx="260.78" cy="126.8" r="1.35" fill="#2b8f3a"/>
<circle cx="266.78" cy="126.8" r="1.35" fill="#2b8f3a"/>
<circle cx="272.77" cy="126.8" r="1.35" fill="#2b8f3a"/>
<circle cx="278.76" cy="122" r="1.35" fill="#2b8f3a"/>
<circle cx="284.76" cy="115.8" r="1.35" fill="#2b8f3a"/>
<circle cx="290.75" cy="95.5" r="1.35" fill="#2b8f3a"/>
<polyline points="248.79,127 254.79,127.2 260.78,127 266.78,126.5 272.77,125.5 278.76,124.5 284.76,120.4" fill="none" stroke="#34a544" stroke-width="1.05" stroke-linejoin="round"/>
<circle cx="248.79" cy="127" r="1.35" fill="#2b8f3a"/>
<circle cx="254.79" cy="127.2" r="1.35" fill="#2b8f3a"/>
<circle cx="260.78" cy="127" r="1.35" fill="#2b8f3a"/>
<circle cx="266.78" cy="126.5" r="1.35" fill="#2b8f3a"/>
<circle cx="272.77" cy="125.5" r="1.35" fill="#2b8f3a"/>
<circle cx="278.76" cy="124.5" r="1.35" fill="#2b8f3a"/>
<circle cx="284.76" cy="120.4" r="1.35" fill="#2b8f3a"/>
<polyline points="248.79,126.8 254.79,127 260.78,126.5 266.78,125.8 272.77,126.5 278.76,126.5" fill="none" stroke="#34a544" stroke-width="1.05" stroke-linejoin="round"/>
<circle cx="248.79" cy="126.8" r="1.35" fill="#2b8f3a"/>
<circle cx="254.79" cy="127" r="1.35" fill="#2b8f3a"/>
<circle cx="260.78" cy="126.5" r="1.35" fill="#2b8f3a"/>
<circle cx="266.78" cy="125.8" r="1.35" fill="#2b8f3a"/>
<circle cx="272.77" cy="126.5" r="1.35" fill="#2b8f3a"/>
<circle cx="278.76" cy="126.5" r="1.35" fill="#2b8f3a"/>
<text transform="translate(370.4 10.2) scale(0.863 1)" x="0" y="0" font-size="12.06" font-weight="bold" fill="#111">C</text>
<line x1="388" y1="24.6" x2="395" y2="24.6" stroke="#5cb85c" stroke-width="0.9"/>
<line x1="391.5" y1="23.6" x2="391.5" y2="25.6" stroke="#5cb85c" stroke-width="0.8"/>
<line x1="388" y1="35.4" x2="395" y2="35.4" stroke="#2a7f9a" stroke-width="0.9"/>
<line x1="391.5" y1="34.4" x2="391.5" y2="36.4" stroke="#2a7f9a" stroke-width="0.8"/>
<line x1="388" y1="45.4" x2="395" y2="45.4" stroke="#d23c5a" stroke-width="0.9"/>
<line x1="391.5" y1="44.4" x2="391.5" y2="46.4" stroke="#d23c5a" stroke-width="0.8"/>
<text x="398" y="26.9" font-size="6.4" textLength="28" lengthAdjust="spacingAndGlyphs" stroke="#383838" stroke-width="0.08">Untreated</text>
<text x="398" y="37.7" font-size="6.4" textLength="62" lengthAdjust="spacingAndGlyphs" stroke="#383838" stroke-width="0.08">STRO-002 2.5 mg/mL</text>
<text x="398" y="47.7" font-size="6.4" textLength="56" lengthAdjust="spacingAndGlyphs" stroke="#383838" stroke-width="0.08">STRO-002 5 mg/mL</text>
<text x="453.4" y="13.34" font-size="6.5" textLength="63.2" lengthAdjust="spacingAndGlyphs" stroke="#383838" stroke-width="0.08">Median Survival (Days)</text>
<line x1="453.4" y1="14.1" x2="516.6" y2="14.1" stroke="#444" stroke-width="0.5"/>
<text x="479.3" y="27.3" font-size="6.4" text-anchor="end" stroke="#383838" stroke-width="0.08">52</text>
<text x="479.3" y="37.8" font-size="6.4" text-anchor="end" stroke="#383838" stroke-width="0.08">ND</text>
<text x="479.3" y="47.6" font-size="6.4" text-anchor="end" stroke="#383838" stroke-width="0.08">ND</text>
<rect x="482.6" y="24.2" width="2.1" height="24.2" fill="#b0b0b0"/>
<text x="488.8" y="30.8" font-size="6.4" textLength="25.2" lengthAdjust="spacingAndGlyphs" stroke="#383838" stroke-width="0.08"><tspan font-style="italic">P</tspan> = .002</text>
<line x1="398.9" y1="52.5" x2="398.9" y2="129.9" stroke="#111" stroke-width="1.1"/>
<line x1="398.4" y1="127.4" x2="486" y2="127.4" stroke="#111" stroke-width="1"/>
<line x1="395.9" y1="127.4" x2="398.9" y2="127.4" stroke="#111" stroke-width="0.8"/>
<text x="393" y="129.67" font-size="6.3" text-anchor="end" stroke="#383838" stroke-width="0.08">0</text>
<line x1="395.9" y1="109.38" x2="398.9" y2="109.38" stroke="#111" stroke-width="0.8"/>
<text x="393" y="111.64" font-size="6.3" text-anchor="end" stroke="#383838" stroke-width="0.08">25</text>
<line x1="395.9" y1="91.35" x2="398.9" y2="91.35" stroke="#111" stroke-width="0.8"/>
<text x="393" y="93.62" font-size="6.3" text-anchor="end" stroke="#383838" stroke-width="0.08">50</text>
<line x1="395.9" y1="73.32" x2="398.9" y2="73.32" stroke="#111" stroke-width="0.8"/>
<text x="393" y="75.59" font-size="6.3" text-anchor="end" stroke="#383838" stroke-width="0.08">75</text>
<line x1="395.9" y1="55.3" x2="398.9" y2="55.3" stroke="#111" stroke-width="0.8"/>
<text x="393" y="57.57" font-size="6.3" text-anchor="end" stroke="#383838" stroke-width="0.08">100</text>
<line x1="398.8" y1="127.4" x2="398.8" y2="129.6" stroke="#111" stroke-width="0.8"/>
<text x="398.8" y="139.6" font-size="6.4" text-anchor="middle" stroke="#383838" stroke-width="0.08">0</text>
<line x1="409.4" y1="127.4" x2="409.4" y2="129.6" stroke="#111" stroke-width="0.8"/>
<text x="409.4" y="139.6" font-size="6.4" text-anchor="middle" stroke="#383838" stroke-width="0.08">14</text>
<line x1="420" y1="127.4" x2="420" y2="129.6" stroke="#111" stroke-width="0.8"/>
<text x="420" y="139.6" font-size="6.4" text-anchor="middle" stroke="#383838" stroke-width="0.08">28</text>
<line x1="430.59" y1="127.4" x2="430.59" y2="129.6" stroke="#111" stroke-width="0.8"/>
<text x="430.59" y="139.6" font-size="6.4" text-anchor="middle" stroke="#383838" stroke-width="0.08">42</text>
<line x1="441.19" y1="127.4" x2="441.19" y2="129.6" stroke="#111" stroke-width="0.8"/>
<text x="441.19" y="139.6" font-size="6.4" text-anchor="middle" stroke="#383838" stroke-width="0.08">56</text>
<line x1="451.79" y1="127.4" x2="451.79" y2="129.6" stroke="#111" stroke-width="0.8"/>
<text x="451.79" y="139.6" font-size="6.4" text-anchor="middle" stroke="#383838" stroke-width="0.08">70</text>
<line x1="462.39" y1="127.4" x2="462.39" y2="129.6" stroke="#111" stroke-width="0.8"/>
<text x="462.39" y="139.6" font-size="6.4" text-anchor="middle" stroke="#383838" stroke-width="0.08">84</text>
<line x1="472.99" y1="127.4" x2="472.99" y2="129.6" stroke="#111" stroke-width="0.8"/>
<text x="472.99" y="139.6" font-size="6.4" text-anchor="middle" stroke="#383838" stroke-width="0.08">98</text>
<line x1="483.58" y1="127.4" x2="483.58" y2="129.6" stroke="#111" stroke-width="0.8"/>
<text x="483.58" y="139.6" font-size="6.4" text-anchor="middle" stroke="#383838" stroke-width="0.08">112</text>
<text x="441.2" y="151.04" font-size="7.6" text-anchor="middle" textLength="70" lengthAdjust="spacingAndGlyphs" font-weight="bold">Days post leukemia injection</text>
<text transform="translate(374 91.3) rotate(-90)" x="0" y="2.66" font-size="7.4" text-anchor="middle" textLength="54" lengthAdjust="spacingAndGlyphs" font-weight="bold">Probability of survival</text>
<line x1="399.3" y1="54.7" x2="483.8" y2="54.7" stroke="#d23c5a" stroke-width="1"/>
<line x1="399.3" y1="56.4" x2="483.8" y2="56.4" stroke="#3a7f8a" stroke-width="1.6"/>
<line x1="399.3" y1="56.9" x2="436" y2="56.9" stroke="#3f9a5a" stroke-width="0.9"/>
<polyline points="436,56.9 436,86.1 438.4,86.1 438.4,100.5 441.5,100.5 441.5,115.1 444.6,115.1 444.6,127.4" fill="none" stroke="#5cb85c" stroke-width="0.9" stroke-linejoin="round"/>
<text transform="translate(7 182.7) scale(0.886 1)" x="0" y="0" font-size="12.06" font-weight="bold" fill="#111">D</text>
<line x1="35" y1="200.5" x2="35" y2="283" stroke="#111" stroke-width="1"/>
<path d="M33.1,281.8 L36.9,281.8 L35,286Z" fill="#111"/>
<text transform="translate(4.4 242.5) rotate(-90)" x="0" y="3.24" font-size="9" text-anchor="middle" textLength="44" lengthAdjust="spacingAndGlyphs" stroke="#383838" stroke-width="0.08">CBF/GLIS-</text>
<text transform="translate(14.1 242.5) rotate(-90)" x="0" y="3.24" font-size="9" text-anchor="middle" textLength="42" lengthAdjust="spacingAndGlyphs" stroke="#383838" stroke-width="0.08">Cord Blood</text>
<text transform="translate(27.2 243.5) rotate(-90)" x="0" y="2.38" font-size="6.6" text-anchor="middle" textLength="77.5" lengthAdjust="spacingAndGlyphs" stroke="#383838" stroke-width="0.08">Days post leukemia injection</text>
<text x="46.2" y="213.65" font-size="6.8" text-anchor="end" stroke="#383838" stroke-width="0.08">7</text>
<text x="46.2" y="234.75" font-size="6.8" text-anchor="end" stroke="#383838" stroke-width="0.08">42</text>
<text x="46.2" y="256.45" font-size="6.8" text-anchor="end" stroke="#383838" stroke-width="0.08">77</text>
<text x="46.2" y="278.25" font-size="6.8" text-anchor="end" stroke="#383838" stroke-width="0.08">91</text>
<text x="71.2" y="195.7" font-size="6.4" text-anchor="middle" textLength="27.3" lengthAdjust="spacingAndGlyphs" stroke="#383838" stroke-width="0.08">Untreated</text>
<text x="114.3" y="196" font-size="6.4" text-anchor="middle" textLength="30.6" lengthAdjust="spacingAndGlyphs" stroke="#383838" stroke-width="0.08">STRO-002</text>
<rect x="49.4" y="199.5" width="87.7" height="87" fill="#b8b8b8"/>
<rect x="93.8" y="200" width="42.8" height="20.9" fill="#161616"/>
<path d="M98.08,201.67 L98.72,201.99 L99.15,202.93 L99.47,204.18 L100.11,205.22 L100.75,206.17 L101.08,207.42 L101.24,209.51 L101.4,212.12 L101.5,214.73 L101.29,216.62 L100.54,217.87 L99.36,218.34 L98.08,218.39 L96.8,218.34 L95.62,217.87 L94.87,216.62 L94.66,214.73 L94.76,212.12 L94.92,209.51 L95.08,207.42 L95.41,206.17 L96.05,205.22 L96.69,204.18 L97.01,202.93 L97.44,201.99Z" fill="#e0e0e0" filter="url(#b05)"/>
<ellipse cx="98.08" cy="208.69" rx="3.08" ry="3.34" fill="#4a3ab4" filter="url(#b1)"/>
<ellipse cx="98.08" cy="206.69" rx="2.05" ry="1.67" fill="#8070c8" filter="url(#b1)"/>
<path d="M106.64,201.67 L107.28,201.99 L107.71,202.93 L108.03,204.18 L108.67,205.22 L109.31,206.17 L109.64,207.42 L109.8,209.51 L109.96,212.12 L110.06,214.73 L109.85,216.62 L109.1,217.87 L107.92,218.34 L106.64,218.39 L105.36,218.34 L104.18,217.87 L103.43,216.62 L103.22,214.73 L103.32,212.12 L103.48,209.51 L103.64,207.42 L103.97,206.17 L104.61,205.22 L105.25,204.18 L105.57,202.93 L106,201.99Z" fill="#e0e0e0" filter="url(#b05)"/>
<path d="M115.2,201.67 L115.84,201.99 L116.27,202.93 L116.59,204.18 L117.23,205.22 L117.87,206.17 L118.2,207.42 L118.36,209.51 L118.52,212.12 L118.62,214.73 L118.41,216.62 L117.66,217.87 L116.48,218.34 L115.2,218.39 L113.92,218.34 L112.74,217.87 L111.99,216.62 L111.78,214.73 L111.88,212.12 L112.04,209.51 L112.2,207.42 L112.52,206.17 L113.17,205.22 L113.81,204.18 L114.13,202.93 L114.56,201.99Z" fill="#e0e0e0" filter="url(#b05)"/>
<ellipse cx="115.2" cy="209.2" rx="2.4" ry="2.01" fill="#3a2aa0" filter="url(#b1)"/>
<path d="M123.76,201.67 L124.4,201.99 L124.83,202.93 L125.15,204.18 L125.79,205.22 L126.43,206.17 L126.76,207.42 L126.92,209.51 L127.08,212.12 L127.18,214.73 L126.97,216.62 L126.22,217.87 L125.04,218.34 L123.76,218.39 L122.48,218.34 L121.3,217.87 L120.55,216.62 L120.34,214.73 L120.44,212.12 L120.6,209.51 L120.76,207.42 L121.08,206.17 L121.73,205.22 L122.37,204.18 L122.69,202.93 L123.12,201.99Z" fill="#e0e0e0" filter="url(#b05)"/>
<ellipse cx="123.76" cy="208.69" rx="2.88" ry="3.34" fill="#4a3ab4" filter="url(#b1)"/>
<ellipse cx="123.76" cy="206.35" rx="1.71" ry="1.34" fill="#8070c8" filter="url(#b1)"/>
<path d="M132.32,201.67 L132.96,201.99 L133.39,202.93 L133.71,204.18 L134.35,205.22 L135,206.17 L135.32,207.42 L135.48,209.51 L135.64,212.12 L135.74,214.73 L135.53,216.62 L134.78,217.87 L133.6,218.34 L132.32,218.39 L131.04,218.34 L129.86,217.87 L129.11,216.62 L128.9,214.73 L129,212.12 L129.16,209.51 L129.32,207.42 L129.64,206.17 L130.29,205.22 L130.93,204.18 L131.25,202.93 L131.68,201.99Z" fill="#e0e0e0" filter="url(#b05)"/>
<ellipse cx="132.32" cy="208.69" rx="2.88" ry="3.34" fill="#4a3ab4" filter="url(#b1)"/>
<ellipse cx="132.32" cy="206.69" rx="2.05" ry="1.67" fill="#7060c0" filter="url(#b1)"/>
<rect x="93.8" y="221.7" width="42.8" height="20.5" fill="#161616"/>
<path d="M98.08,223.34 L98.72,223.65 L99.15,224.57 L99.47,225.8 L100.11,226.82 L100.75,227.75 L101.08,228.98 L101.24,231.03 L101.4,233.59 L101.5,236.15 L101.29,238 L100.54,239.23 L99.36,239.69 L98.08,239.74 L96.8,239.69 L95.62,239.23 L94.87,238 L94.66,236.15 L94.76,233.59 L94.92,231.03 L95.08,228.98 L95.41,227.75 L96.05,226.82 L96.69,225.8 L97.01,224.57 L97.44,223.65Z" fill="#e0e0e0" filter="url(#b05)"/>
<ellipse cx="98.08" cy="230.72" rx="3.08" ry="1.97" fill="#4030a0" filter="url(#b1)"/>
<path d="M106.64,223.34 L107.28,223.65 L107.71,224.57 L108.03,225.8 L108.67,226.82 L109.31,227.75 L109.64,228.98 L109.8,231.03 L109.96,233.59 L110.06,236.15 L109.85,238 L109.1,239.23 L107.92,239.69 L106.64,239.74 L105.36,239.69 L104.18,239.23 L103.43,238 L103.22,236.15 L103.32,233.59 L103.48,231.03 L103.64,228.98 L103.97,227.75 L104.61,226.82 L105.25,225.8 L105.57,224.57 L106,223.65Z" fill="#e0e0e0" filter="url(#b05)"/>
<ellipse cx="106.64" cy="230.72" rx="3.08" ry="1.64" fill="#4030a0" filter="url(#b1)"/>
<path d="M115.2,223.34 L115.84,223.65 L116.27,224.57 L116.59,225.8 L117.23,226.82 L117.87,227.75 L118.2,228.98 L118.36,231.03 L118.52,233.59 L118.62,236.15 L118.41,238 L117.66,239.23 L116.48,239.69 L115.2,239.74 L113.92,239.69 L112.74,239.23 L111.99,238 L111.78,236.15 L111.88,233.59 L112.04,231.03 L112.2,228.98 L112.52,227.75 L113.17,226.82 L113.81,225.8 L114.13,224.57 L114.56,223.65Z" fill="#e0e0e0" filter="url(#b05)"/>
<ellipse cx="115.2" cy="229.9" rx="3.08" ry="2.62" fill="#3a2a9a" filter="url(#b1)"/>
<path d="M123.76,223.34 L124.4,223.65 L124.83,224.57 L125.15,225.8 L125.79,226.82 L126.43,227.75 L126.76,228.98 L126.92,231.03 L127.08,233.59 L127.18,236.15 L126.97,238 L126.22,239.23 L125.04,239.69 L123.76,239.74 L122.48,239.69 L121.3,239.23 L120.55,238 L120.34,236.15 L120.44,233.59 L120.6,231.03 L120.76,228.98 L121.08,227.75 L121.73,226.82 L122.37,225.8 L122.69,224.57 L123.12,223.65Z" fill="#e0e0e0" filter="url(#b05)"/>
<ellipse cx="123.76" cy="230.72" rx="2.05" ry="1.31" fill="#5a40b0" filter="url(#b1)"/>
<path d="M132.32,223.34 L132.96,223.65 L133.39,224.57 L133.71,225.8 L134.35,226.82 L135,227.75 L135.32,228.98 L135.48,231.03 L135.64,233.59 L135.74,236.15 L135.53,238 L134.78,239.23 L133.6,239.69 L132.32,239.74 L131.04,239.69 L129.86,239.23 L129.11,238 L128.9,236.15 L129,233.59 L129.16,231.03 L129.32,228.98 L129.64,227.75 L130.29,226.82 L130.93,225.8 L131.25,224.57 L131.68,223.65Z" fill="#e0e0e0" filter="url(#b05)"/>
<ellipse cx="132.32" cy="230.72" rx="2.05" ry="1.31" fill="#5a40b0" filter="url(#b1)"/>
<rect x="93.8" y="243.2" width="42.8" height="20.4" fill="#1a1a1a"/>
<path d="M98.08,244.83 L98.72,245.14 L99.15,246.06 L99.47,247.28 L100.11,248.3 L100.75,249.22 L101.08,250.44 L101.24,252.48 L101.4,255.03 L101.5,257.58 L101.29,259.42 L100.54,260.64 L99.36,261.1 L98.08,261.15 L96.8,261.1 L95.62,260.64 L94.87,259.42 L94.66,257.58 L94.76,255.03 L94.92,252.48 L95.08,250.44 L95.41,249.22 L96.05,248.3 L96.69,247.28 L97.01,246.06 L97.44,245.14Z" fill="url(#mg)" filter="url(#b05)"/>
<path d="M106.64,244.83 L107.28,245.14 L107.71,246.06 L108.03,247.28 L108.67,248.3 L109.31,249.22 L109.64,250.44 L109.8,252.48 L109.96,255.03 L110.06,257.58 L109.85,259.42 L109.1,260.64 L107.92,261.1 L106.64,261.15 L105.36,261.1 L104.18,260.64 L103.43,259.42 L103.22,257.58 L103.32,255.03 L103.48,252.48 L103.64,250.44 L103.97,249.22 L104.61,248.3 L105.25,247.28 L105.57,246.06 L106,245.14Z" fill="url(#mg)" filter="url(#b05)"/>
<path d="M115.2,244.83 L115.84,245.14 L116.27,246.06 L116.59,247.28 L117.23,248.3 L117.87,249.22 L118.2,250.44 L118.36,252.48 L118.52,255.03 L118.62,257.58 L118.41,259.42 L117.66,260.64 L116.48,261.1 L115.2,261.15 L113.92,261.1 L112.74,260.64 L111.99,259.42 L111.78,257.58 L111.88,255.03 L112.04,252.48 L112.2,250.44 L112.52,249.22 L113.17,248.3 L113.81,247.28 L114.13,246.06 L114.56,245.14Z" fill="url(#mg)" filter="url(#b05)"/>
<ellipse cx="115.2" cy="252.99" rx="1.37" ry="1.31" fill="#403080" filter="url(#b1)"/>
<path d="M123.76,244.83 L124.4,245.14 L124.83,246.06 L125.15,247.28 L125.79,248.3 L126.43,249.22 L126.76,250.44 L126.92,252.48 L127.08,255.03 L127.18,257.58 L126.97,259.42 L126.22,260.64 L125.04,261.1 L123.76,261.15 L122.48,261.1 L121.3,260.64 L120.55,259.42 L120.34,257.58 L120.44,255.03 L120.6,252.48 L120.76,250.44 L121.08,249.22 L121.73,248.3 L122.37,247.28 L122.69,246.06 L123.12,245.14Z" fill="url(#mg)" filter="url(#b05)"/>
<path d="M132.32,244.83 L132.96,245.14 L133.39,246.06 L133.71,247.28 L134.35,248.3 L135,249.22 L135.32,250.44 L135.48,252.48 L135.64,255.03 L135.74,257.58 L135.53,259.42 L134.78,260.64 L133.6,261.1 L132.32,261.15 L131.04,261.1 L129.86,260.64 L129.11,259.42 L128.9,257.58 L129,255.03 L129.16,252.48 L129.32,250.44 L129.64,249.22 L130.29,248.3 L130.93,247.28 L131.25,246.06 L131.68,245.14Z" fill="url(#mg)" filter="url(#b05)"/>
<rect x="93.8" y="265" width="42.8" height="21" fill="#121212"/>
<path d="M98.08,266.68 L98.72,267 L99.15,267.94 L99.47,269.2 L100.11,270.25 L100.75,271.19 L101.08,272.45 L101.24,274.56 L101.4,277.18 L101.5,279.81 L101.29,281.69 L100.54,282.95 L99.36,283.43 L98.08,283.48 L96.8,283.43 L95.62,282.95 L94.87,281.69 L94.66,279.81 L94.76,277.18 L94.92,274.56 L95.08,272.45 L95.41,271.19 L96.05,270.25 L96.69,269.2 L97.01,267.94 L97.44,267Z" fill="url(#mg)" filter="url(#b05)"/>
<path d="M106.64,266.68 L107.28,267 L107.71,267.94 L108.03,269.2 L108.67,270.25 L109.31,271.19 L109.64,272.45 L109.8,274.56 L109.96,277.18 L110.06,279.81 L109.85,281.69 L109.1,282.95 L107.92,283.43 L106.64,283.48 L105.36,283.43 L104.18,282.95 L103.43,281.69 L103.22,279.81 L103.32,277.18 L103.48,274.56 L103.64,272.45 L103.97,271.19 L104.61,270.25 L105.25,269.2 L105.57,267.94 L106,267Z" fill="url(#mg)" filter="url(#b05)"/>
<path d="M115.2,266.68 L115.84,267 L116.27,267.94 L116.59,269.2 L117.23,270.25 L117.87,271.19 L118.2,272.45 L118.36,274.56 L118.52,277.18 L118.62,279.81 L118.41,281.69 L117.66,282.95 L116.48,283.43 L115.2,283.48 L113.92,283.43 L112.74,282.95 L111.99,281.69 L111.78,279.81 L111.88,277.18 L112.04,274.56 L112.2,272.45 L112.52,271.19 L113.17,270.25 L113.81,269.2 L114.13,267.94 L114.56,267Z" fill="url(#mg)" filter="url(#b05)"/>
<path d="M123.76,266.68 L124.4,267 L124.83,267.94 L125.15,269.2 L125.79,270.25 L126.43,271.19 L126.76,272.45 L126.92,274.56 L127.08,277.18 L127.18,279.81 L126.97,281.69 L126.22,282.95 L125.04,283.43 L123.76,283.48 L122.48,283.43 L121.3,282.95 L120.55,281.69 L120.34,279.81 L120.44,277.18 L120.6,274.56 L120.76,272.45 L121.08,271.19 L121.73,270.25 L122.37,269.2 L122.69,267.94 L123.12,267Z" fill="url(#mg)" filter="url(#b05)"/>
<path d="M132.32,266.68 L132.96,267 L133.39,267.94 L133.71,269.2 L134.35,270.25 L135,271.19 L135.32,272.45 L135.48,274.56 L135.64,277.18 L135.74,279.81 L135.53,281.69 L134.78,282.95 L133.6,283.43 L132.32,283.48 L131.04,283.43 L129.86,282.95 L129.11,281.69 L128.9,279.81 L129,277.18 L129.16,274.56 L129.32,272.45 L129.64,271.19 L130.29,270.25 L130.93,269.2 L131.25,267.94 L131.68,267Z" fill="url(#mg)" filter="url(#b05)"/>
<rect x="49.9" y="200" width="43" height="42.2" fill="#15121e"/>
<path d="M54.2,201.5 L54.79,201.85 L55.18,202.89 L55.48,204.28 L56.07,205.43 L56.66,206.47 L56.96,207.86 L57.1,210.17 L57.25,213.06 L57.35,215.95 L57.15,218.03 L56.46,219.42 L55.38,219.94 L54.2,220 L53.02,219.94 L51.94,219.42 L51.25,218.03 L51.05,215.95 L51.15,213.06 L51.3,210.17 L51.44,207.86 L51.74,206.47 L52.33,205.43 L52.92,204.28 L53.22,202.89 L53.61,201.85Z" fill="#eeeaf6" filter="url(#b05)"/>
<ellipse cx="54.2" cy="208.53" rx="3.47" ry="5.55" fill="#3a3ab0" filter="url(#b1)"/>
<ellipse cx="54.2" cy="208.9" rx="1.89" ry="2.77" fill="#2a80d0" filter="url(#b1)"/>
<path d="M62.8,201.5 L63.39,201.85 L63.78,202.89 L64.08,204.28 L64.67,205.43 L65.26,206.47 L65.56,207.86 L65.7,210.17 L65.85,213.06 L65.95,215.95 L65.75,218.03 L65.06,219.42 L63.98,219.94 L62.8,220 L61.62,219.94 L60.54,219.42 L59.85,218.03 L59.65,215.95 L59.75,213.06 L59.9,210.17 L60.04,207.86 L60.34,206.47 L60.93,205.43 L61.52,204.28 L61.82,202.89 L62.21,201.85Z" fill="#eeeaf6" filter="url(#b05)"/>
<ellipse cx="62.8" cy="207.05" rx="2.52" ry="1.85" fill="#c8c0e0" filter="url(#b1)"/>
<path d="M71.4,201.5 L71.99,201.85 L72.38,202.89 L72.68,204.28 L73.27,205.43 L73.86,206.47 L74.16,207.86 L74.3,210.17 L74.45,213.06 L74.55,215.95 L74.35,218.03 L73.66,219.42 L72.58,219.94 L71.4,220 L70.22,219.94 L69.14,219.42 L68.45,218.03 L68.25,215.95 L68.35,213.06 L68.5,210.17 L68.64,207.86 L68.94,206.47 L69.53,205.43 L70.12,204.28 L70.42,202.89 L70.81,201.85Z" fill="#eeeaf6" filter="url(#b05)"/>
<ellipse cx="71.4" cy="208.53" rx="3.47" ry="5.55" fill="#2a2a90" filter="url(#b1)"/>
<ellipse cx="71.4" cy="208.53" rx="1.89" ry="2.22" fill="#20a0a0" filter="url(#b1)"/>
<path d="M80,201.5 L80.59,201.85 L80.98,202.89 L81.28,204.28 L81.87,205.43 L82.46,206.47 L82.76,207.86 L82.9,210.17 L83.05,213.06 L83.15,215.95 L82.95,218.03 L82.26,219.42 L81.18,219.94 L80,220 L78.82,219.94 L77.74,219.42 L77.05,218.03 L76.85,215.95 L76.95,213.06 L77.1,210.17 L77.24,207.86 L77.54,206.47 L78.13,205.43 L78.72,204.28 L79.02,202.89 L79.41,201.85Z" fill="#eeeaf6" filter="url(#b05)"/>
<ellipse cx="80" cy="208.16" rx="3.47" ry="5.55" fill="#3a3ab0" filter="url(#b1)"/>
<ellipse cx="80" cy="208.9" rx="1.89" ry="2.22" fill="#2a70d0" filter="url(#b1)"/>
<path d="M88.6,201.5 L89.19,201.85 L89.58,202.89 L89.88,204.28 L90.47,205.43 L91.06,206.47 L91.36,207.86 L91.5,210.17 L91.65,213.06 L91.75,215.95 L91.55,218.03 L90.86,219.42 L89.78,219.94 L88.6,220 L87.42,219.94 L86.34,219.42 L85.65,218.03 L85.45,215.95 L85.55,213.06 L85.7,210.17 L85.84,207.86 L86.14,206.47 L86.73,205.43 L87.32,204.28 L87.62,202.89 L88.01,201.85Z" fill="#eeeaf6" filter="url(#b05)"/>
<ellipse cx="88.6" cy="208.16" rx="3.47" ry="5.55" fill="#5a3ab8" filter="url(#b1)"/>
<g filter="url(#b1)">
<path d="M54.2,222.3 L54.86,222.67 L55.29,223.76 L55.62,225.23 L56.28,226.44 L56.93,227.54 L57.26,229 L57.43,231.44 L57.59,234.49 L57.7,237.53 L57.48,239.73 L56.72,241.19 L55.51,241.74 L54.2,241.8 L52.89,241.74 L51.68,241.19 L50.92,239.73 L50.7,237.53 L50.81,234.49 L50.97,231.44 L51.14,229 L51.47,227.54 L52.12,226.44 L52.78,225.23 L53.11,223.76 L53.54,222.67Z" fill="#3a36b0"/>
<ellipse cx="53.6" cy="232" rx="2.4" ry="4.5" fill="#2a9a60"/>
<ellipse cx="55.2" cy="237" rx="2" ry="2" fill="#2a8ad0"/>
<ellipse cx="54.2" cy="232" rx="1.7" ry="2.8899999999999997" fill="#e05030"/>
<ellipse cx="53" cy="238.5" rx="1.2" ry="1.2" fill="#40b040"/>
<path d="M62.8,222.3 L63.46,222.67 L63.89,223.76 L64.22,225.23 L64.88,226.44 L65.53,227.54 L65.86,229 L66.03,231.44 L66.19,234.49 L66.3,237.53 L66.08,239.73 L65.32,241.19 L64.11,241.74 L62.8,241.8 L61.49,241.74 L60.28,241.19 L59.52,239.73 L59.3,237.53 L59.41,234.49 L59.57,231.44 L59.74,229 L60.07,227.54 L60.72,226.44 L61.38,225.23 L61.71,223.76 L62.14,222.67Z" fill="#3a36b0"/>
<ellipse cx="62.2" cy="232" rx="2.4" ry="4.5" fill="#40b040"/>
<ellipse cx="63.8" cy="237" rx="2" ry="2" fill="#2a8ad0"/>
<ellipse cx="62.8" cy="232" rx="1.7" ry="2.8899999999999997" fill="#f04a1e"/>
<ellipse cx="61.6" cy="238.5" rx="1.2" ry="1.2" fill="#f06020"/>
<path d="M71.4,222.3 L72.06,222.67 L72.49,223.76 L72.82,225.23 L73.48,226.44 L74.13,227.54 L74.46,229 L74.63,231.44 L74.79,234.49 L74.9,237.53 L74.68,239.73 L73.92,241.19 L72.71,241.74 L71.4,241.8 L70.09,241.74 L68.88,241.19 L68.12,239.73 L67.9,237.53 L68.01,234.49 L68.17,231.44 L68.34,229 L68.67,227.54 L69.32,226.44 L69.98,225.23 L70.31,223.76 L70.74,222.67Z" fill="#3236a8"/>
<ellipse cx="70.8" cy="232" rx="2.4" ry="4.5" fill="#f04a1e"/>
<ellipse cx="72.4" cy="237" rx="2" ry="2" fill="#2a8ad0"/>
<ellipse cx="71.4" cy="231" rx="2.7" ry="4.59" fill="#f0461e"/>
<ellipse cx="70.2" cy="238.5" rx="1.2" ry="1.2" fill="#f06020"/>
<path d="M80,222.3 L80.66,222.67 L81.09,223.76 L81.42,225.23 L82.08,226.44 L82.73,227.54 L83.06,229 L83.23,231.44 L83.39,234.49 L83.5,237.53 L83.28,239.73 L82.52,241.19 L81.31,241.74 L80,241.8 L78.69,241.74 L77.48,241.19 L76.72,239.73 L76.5,237.53 L76.61,234.49 L76.77,231.44 L76.94,229 L77.27,227.54 L77.92,226.44 L78.58,225.23 L78.91,223.76 L79.34,222.67Z" fill="#3a36b0"/>
<ellipse cx="79.4" cy="232" rx="2.4" ry="4.5" fill="#30a050"/>
<ellipse cx="81" cy="237" rx="2" ry="2" fill="#2a8ad0"/>
<ellipse cx="80" cy="232" rx="1.7" ry="2.8899999999999997" fill="#f06a20"/>
<ellipse cx="78.8" cy="238.5" rx="1.2" ry="1.2" fill="#f06020"/>
<path d="M88.6,222.3 L89.26,222.67 L89.69,223.76 L90.02,225.23 L90.68,226.44 L91.33,227.54 L91.66,229 L91.83,231.44 L91.99,234.49 L92.1,237.53 L91.88,239.73 L91.12,241.19 L89.91,241.74 L88.6,241.8 L87.29,241.74 L86.08,241.19 L85.32,239.73 L85.1,237.53 L85.21,234.49 L85.37,231.44 L85.54,229 L85.87,227.54 L86.52,226.44 L87.18,225.23 L87.51,223.76 L87.94,222.67Z" fill="#3a36b0"/>
<ellipse cx="88" cy="232" rx="2.4" ry="4.5" fill="#2a80c0"/>
<ellipse cx="89.6" cy="237" rx="2" ry="2" fill="#2a8ad0"/>
<ellipse cx="88.6" cy="232" rx="1.7" ry="2.8899999999999997" fill="#f07a20"/>
<ellipse cx="87.4" cy="238.5" rx="1.2" ry="1.2" fill="#40b040"/>
</g>
<rect x="49.9" y="243.2" width="43" height="20.4" fill="#262222"/>
<path d="M54.2,244.2 L54.89,244.54 L55.36,245.58 L55.7,246.96 L56.4,248.11 L57.09,249.15 L57.44,250.53 L57.61,252.83 L57.78,255.7 L57.9,258.57 L57.67,260.65 L56.86,262.03 L55.59,262.54 L54.2,262.6 L52.81,262.54 L51.54,262.03 L50.73,260.65 L50.5,258.57 L50.62,255.7 L50.79,252.83 L50.96,250.53 L51.31,249.15 L52,248.11 L52.7,246.96 L53.04,245.58 L53.51,244.54Z" fill="#4a3ab0" filter="url(#b05)"/>
<ellipse cx="54.2" cy="254.2" rx="2" ry="5" fill="#c0c8f0" filter="url(#b1)"/>
<path d="M80,244.2 L80.69,244.54 L81.16,245.58 L81.5,246.96 L82.2,248.11 L82.89,249.15 L83.24,250.53 L83.41,252.83 L83.58,255.7 L83.7,258.57 L83.47,260.65 L82.66,262.03 L81.39,262.54 L80,262.6 L78.61,262.54 L77.34,262.03 L76.53,260.65 L76.3,258.57 L76.42,255.7 L76.59,252.83 L76.76,250.53 L77.11,249.15 L77.8,248.11 L78.5,246.96 L78.84,245.58 L79.31,244.54Z" fill="#4a3ab0" filter="url(#b05)"/>
<ellipse cx="80" cy="251.2" rx="2.6" ry="2.4" fill="#f07a20" filter="url(#b1)"/>
<ellipse cx="80" cy="257.2" rx="2.4" ry="3" fill="#3a60d0" filter="url(#b1)"/>
<path d="M88.6,244.2 L89.29,244.54 L89.76,245.58 L90.1,246.96 L90.8,248.11 L91.49,249.15 L91.84,250.53 L92.01,252.83 L92.18,255.7 L92.3,258.57 L92.07,260.65 L91.26,262.03 L89.99,262.54 L88.6,262.6 L87.21,262.54 L85.94,262.03 L85.13,260.65 L84.9,258.57 L85.02,255.7 L85.19,252.83 L85.36,250.53 L85.71,249.15 L86.4,248.11 L87.1,246.96 L87.44,245.58 L87.91,244.54Z" fill="#4a3ab0" filter="url(#b05)"/>
<ellipse cx="88.6" cy="251.2" rx="2.6" ry="2.4" fill="#f07a20" filter="url(#b1)"/>
<ellipse cx="88.6" cy="257.2" rx="2.4" ry="3" fill="#3a60d0" filter="url(#b1)"/>
<line x1="59.55" y1="246.9" x2="66.05" y2="259.9" stroke="#a02a22" stroke-width="1"/>
<line x1="66.05" y1="246.9" x2="59.55" y2="259.9" stroke="#a02a22" stroke-width="1"/>
<line x1="68.15" y1="246.9" x2="74.65" y2="259.9" stroke="#a02a22" stroke-width="1"/>
<line x1="74.65" y1="246.9" x2="68.15" y2="259.9" stroke="#a02a22" stroke-width="1"/>
<rect x="49.9" y="265" width="43" height="21" fill="#101010"/>
<path d="M54.2,266 L54.89,266.36 L55.36,267.43 L55.7,268.85 L56.4,270.04 L57.09,271.11 L57.44,272.53 L57.61,274.91 L57.78,277.88 L57.9,280.84 L57.67,282.98 L56.86,284.41 L55.59,284.94 L54.2,285 L52.81,284.94 L51.54,284.41 L50.73,282.98 L50.5,280.84 L50.62,277.88 L50.79,274.91 L50.96,272.53 L51.31,271.11 L52,270.04 L52.7,268.85 L53.04,267.43 L53.51,266.36Z" fill="#d8dcf4" filter="url(#b05)"/>
<ellipse cx="54.2" cy="275" rx="2.6" ry="2" fill="#4050c0" filter="url(#b1)"/>
<ellipse cx="54.2" cy="280" rx="2.6" ry="1.6" fill="#6050b0" filter="url(#b1)"/>
<path d="M88.6,266 L89.29,266.36 L89.76,267.43 L90.1,268.85 L90.8,270.04 L91.49,271.11 L91.84,272.53 L92.01,274.91 L92.18,277.88 L92.3,280.84 L92.07,282.98 L91.26,284.41 L89.99,284.94 L88.6,285 L87.21,284.94 L85.94,284.41 L85.13,282.98 L84.9,280.84 L85.02,277.88 L85.19,274.91 L85.36,272.53 L85.71,271.11 L86.4,270.04 L87.1,268.85 L87.44,267.43 L87.91,266.36Z" fill="#5040b0" filter="url(#b05)"/>
<ellipse cx="88.6" cy="275" rx="2.6" ry="3" fill="#e08040" filter="url(#b1)"/>
<ellipse cx="88.6" cy="280" rx="2.6" ry="2" fill="#3050d0" filter="url(#b1)"/>
<line x1="59.55" y1="270.5" x2="66.05" y2="282.5" stroke="#d8302a" stroke-width="1.1"/>
<line x1="66.05" y1="270.5" x2="59.55" y2="282.5" stroke="#d8302a" stroke-width="1.1"/>
<circle cx="62.8" cy="267.5" r="0.8" fill="#bbb"/>
<line x1="68.15" y1="270.5" x2="74.65" y2="282.5" stroke="#d8302a" stroke-width="1.1"/>
<line x1="74.65" y1="270.5" x2="68.15" y2="282.5" stroke="#d8302a" stroke-width="1.1"/>
<circle cx="71.4" cy="267.5" r="0.8" fill="#bbb"/>
<line x1="76.75" y1="270.5" x2="83.25" y2="282.5" stroke="#d8302a" stroke-width="1.1"/>
<line x1="83.25" y1="270.5" x2="76.75" y2="282.5" stroke="#d8302a" stroke-width="1.1"/>
<circle cx="80" cy="267.5" r="0.8" fill="#bbb"/>
<rect x="144.9" y="202.2" width="3.6" height="60.5" fill="url(#cbar)"/>
<text x="152.3" y="203.9" font-size="3.6" fill="#666">3.0</text>
<line x1="148.6" y1="202.6" x2="149.8" y2="202.6" stroke="#555" stroke-width="0.4"/>
<text x="152.3" y="219.3" font-size="3.6" fill="#666">1.5</text>
<line x1="148.6" y1="218" x2="149.8" y2="218" stroke="#555" stroke-width="0.4"/>
<text x="152.3" y="236" font-size="3.6" fill="#666">1.0</text>
<line x1="148.6" y1="234.7" x2="149.8" y2="234.7" stroke="#555" stroke-width="0.4"/>
<text x="152.3" y="251.5" font-size="3.6" fill="#666">0.5</text>
<line x1="148.6" y1="250.2" x2="149.8" y2="250.2" stroke="#555" stroke-width="0.4"/>
<line x1="148.6" y1="205" x2="149.3" y2="205" stroke="#777" stroke-width="0.3"/>
<line x1="148.6" y1="210" x2="149.3" y2="210" stroke="#777" stroke-width="0.3"/>
<line x1="148.6" y1="215" x2="149.3" y2="215" stroke="#777" stroke-width="0.3"/>
<line x1="148.6" y1="220" x2="149.3" y2="220" stroke="#777" stroke-width="0.3"/>
<line x1="148.6" y1="225" x2="149.3" y2="225" stroke="#777" stroke-width="0.3"/>
<line x1="148.6" y1="230" x2="149.3" y2="230" stroke="#777" stroke-width="0.3"/>
<line x1="148.6" y1="235" x2="149.3" y2="235" stroke="#777" stroke-width="0.3"/>
<line x1="148.6" y1="240" x2="149.3" y2="240" stroke="#777" stroke-width="0.3"/>
<line x1="148.6" y1="245" x2="149.3" y2="245" stroke="#777" stroke-width="0.3"/>
<line x1="148.6" y1="250" x2="149.3" y2="250" stroke="#777" stroke-width="0.3"/>
<line x1="148.6" y1="255" x2="149.3" y2="255" stroke="#777" stroke-width="0.3"/>
<line x1="148.6" y1="260" x2="149.3" y2="260" stroke="#777" stroke-width="0.3"/>
<text x="160.5" y="234.5" font-size="3.6" fill="#666">×10<tspan dy="-1.2" font-size="2.6">6</tspan></text>
<text x="153.6" y="270.38" font-size="4.4" text-anchor="middle" textLength="17" lengthAdjust="spacingAndGlyphs" fill="#333">Radiance</text>
<text x="153.6" y="276.28" font-size="4.4" text-anchor="middle" textLength="28" lengthAdjust="spacingAndGlyphs" fill="#333">(p/sec/cm²/sr)</text>
<text x="153.6" y="284.38" font-size="4.4" text-anchor="middle" fill="#333">Color Scale</text>
<text x="153.6" y="289.38" font-size="4.4" text-anchor="middle" fill="#333">Min: 1.0e5</text>
<text x="153.6" y="294.88" font-size="4.4" text-anchor="middle" fill="#333">Max: 3.0e6</text>
<text transform="translate(208.7 182.7) scale(0.810 1)" x="0" y="0" font-size="12.06" font-weight="bold" fill="#111">E</text>
<line x1="248.3" y1="198.3" x2="256.2" y2="198.3" stroke="#34a544" stroke-width="0.9"/>
<circle cx="252.25" cy="198.3" r="1.75" fill="#34a544"/>
<text x="259.8" y="200.6" font-size="6.4" textLength="27" lengthAdjust="spacingAndGlyphs" stroke="#383838" stroke-width="0.08">Untreated</text>
<line x1="296" y1="198.3" x2="305.5" y2="198.3" stroke="#c4102e" stroke-width="0.9"/>
<rect x="299" y="196.55" width="3.5" height="3.5" fill="#c4102e"/>
<text x="308.6" y="200.6" font-size="6.4" textLength="30.5" lengthAdjust="spacingAndGlyphs" stroke="#383838" stroke-width="0.08">STRO-002</text>
<line x1="243.2" y1="205.8" x2="243.2" y2="224.4" stroke="#111" stroke-width="1.4"/>
<line x1="241.2" y1="208.8" x2="243.2" y2="208.8" stroke="#111" stroke-width="0.8"/>
<line x1="241.2" y1="217" x2="243.2" y2="217" stroke="#111" stroke-width="0.8"/>
<text x="237" y="211.01" font-size="6.7" text-anchor="end" textLength="17.8" lengthAdjust="spacingAndGlyphs" stroke="#383838" stroke-width="0.08">1×10<tspan dy="-2.3" font-size="4.5">7</tspan></text>
<text x="237" y="219.31" font-size="6.7" text-anchor="end" textLength="17.8" lengthAdjust="spacingAndGlyphs" stroke="#383838" stroke-width="0.08">5×10<tspan dy="-2.3" font-size="4.5">6</tspan></text>
<line x1="243.2" y1="229.5" x2="243.2" y2="279.5" stroke="#111" stroke-width="1.3"/>
<line x1="242.7" y1="277" x2="343.3" y2="277" stroke="#111" stroke-width="1"/>
<line x1="240.7" y1="277" x2="243.2" y2="277" stroke="#111" stroke-width="0.8"/>
<text x="236.4" y="279.23" font-size="6.2" text-anchor="end" stroke="#383838" stroke-width="0.08">0</text>
<line x1="240.7" y1="267.65" x2="243.2" y2="267.65" stroke="#111" stroke-width="0.8"/>
<text x="236.9" y="270.06" font-size="6.7" text-anchor="end" textLength="18" lengthAdjust="spacingAndGlyphs" stroke="#383838" stroke-width="0.08">1×10<tspan dy="-2.3" font-size="4.5">5</tspan></text>
<line x1="240.7" y1="258.3" x2="243.2" y2="258.3" stroke="#111" stroke-width="0.8"/>
<text x="236.9" y="260.71" font-size="6.7" text-anchor="end" textLength="18" lengthAdjust="spacingAndGlyphs" stroke="#383838" stroke-width="0.08">2×10<tspan dy="-2.3" font-size="4.5">5</tspan></text>
<line x1="240.7" y1="248.95" x2="243.2" y2="248.95" stroke="#111" stroke-width="0.8"/>
<text x="236.9" y="251.36" font-size="6.7" text-anchor="end" textLength="18" lengthAdjust="spacingAndGlyphs" stroke="#383838" stroke-width="0.08">3×10<tspan dy="-2.3" font-size="4.5">5</tspan></text>
<line x1="240.7" y1="239.6" x2="243.2" y2="239.6" stroke="#111" stroke-width="0.8"/>
<text x="236.9" y="242.01" font-size="6.7" text-anchor="end" textLength="18" lengthAdjust="spacingAndGlyphs" stroke="#383838" stroke-width="0.08">4×10<tspan dy="-2.3" font-size="4.5">5</tspan></text>
<line x1="240.7" y1="230.25" x2="243.2" y2="230.25" stroke="#111" stroke-width="0.8"/>
<text x="236.9" y="232.66" font-size="6.7" text-anchor="end" textLength="18" lengthAdjust="spacingAndGlyphs" stroke="#383838" stroke-width="0.08">5×10<tspan dy="-2.3" font-size="4.5">5</tspan></text>
<line x1="242.8" y1="277" x2="242.8" y2="279.2" stroke="#111" stroke-width="0.8"/>
<text x="242.8" y="288.1" font-size="6.4" text-anchor="middle" stroke="#383838" stroke-width="0.08">0</text>
<line x1="256.91" y1="277" x2="256.91" y2="279.2" stroke="#111" stroke-width="0.8"/>
<text x="256.91" y="288.1" font-size="6.4" text-anchor="middle" stroke="#383838" stroke-width="0.08">14</text>
<line x1="271.02" y1="277" x2="271.02" y2="279.2" stroke="#111" stroke-width="0.8"/>
<text x="271.02" y="288.1" font-size="6.4" text-anchor="middle" stroke="#383838" stroke-width="0.08">28</text>
<line x1="285.14" y1="277" x2="285.14" y2="279.2" stroke="#111" stroke-width="0.8"/>
<text x="285.14" y="288.1" font-size="6.4" text-anchor="middle" stroke="#383838" stroke-width="0.08">42</text>
<line x1="299.25" y1="277" x2="299.25" y2="279.2" stroke="#111" stroke-width="0.8"/>
<text x="299.25" y="288.1" font-size="6.4" text-anchor="middle" stroke="#383838" stroke-width="0.08">56</text>
<line x1="313.36" y1="277" x2="313.36" y2="279.2" stroke="#111" stroke-width="0.8"/>
<text x="313.36" y="288.1" font-size="6.4" text-anchor="middle" stroke="#383838" stroke-width="0.08">70</text>
<line x1="327.47" y1="277" x2="327.47" y2="279.2" stroke="#111" stroke-width="0.8"/>
<text x="327.47" y="288.1" font-size="6.4" text-anchor="middle" stroke="#383838" stroke-width="0.08">84</text>
<line x1="341.58" y1="277" x2="341.58" y2="279.2" stroke="#111" stroke-width="0.8"/>
<text x="341.58" y="288.1" font-size="6.4" text-anchor="middle" stroke="#383838" stroke-width="0.08">98</text>
<text x="292.4" y="300.84" font-size="7.6" text-anchor="middle" textLength="71" lengthAdjust="spacingAndGlyphs" font-weight="bold">Days post leukemia injection</text>
<text transform="translate(200.9 242.6) rotate(-90)" x="0" y="2.59" font-size="7.2" text-anchor="middle" textLength="34" lengthAdjust="spacingAndGlyphs" font-weight="bold">Tumor burden</text>
<text transform="translate(208.8 242.9) rotate(-90)" x="0" y="2.59" font-size="7.2" text-anchor="middle" textLength="36.4" lengthAdjust="spacingAndGlyphs" font-weight="bold">(p/sec/cm<tspan dy="-2" font-size="4.5">2</tspan><tspan dy="2">/sr)</tspan></text>
<polyline points="249.86,271.5 256.91,274.5 263.97,275.5 271.02,273 278.08,274 285.14,272.5 292.19,275 299.25,275.5 306.3,276 313.36,276 320.42,276 334.53,276.3" fill="none" stroke="#c4102e" stroke-width="1.2" stroke-linejoin="round"/>
<rect x="248.51" y="270.15" width="2.7" height="2.7" fill="#c4102e"/>
<rect x="255.56" y="273.15" width="2.7" height="2.7" fill="#c4102e"/>
<rect x="262.62" y="274.15" width="2.7" height="2.7" fill="#c4102e"/>
<rect x="269.67" y="271.65" width="2.7" height="2.7" fill="#c4102e"/>
<rect x="276.73" y="272.65" width="2.7" height="2.7" fill="#c4102e"/>
<rect x="283.79" y="271.15" width="2.7" height="2.7" fill="#c4102e"/>
<rect x="290.84" y="273.65" width="2.7" height="2.7" fill="#c4102e"/>
<rect x="297.9" y="274.15" width="2.7" height="2.7" fill="#c4102e"/>
<rect x="304.95" y="274.65" width="2.7" height="2.7" fill="#c4102e"/>
<rect x="312.01" y="274.65" width="2.7" height="2.7" fill="#c4102e"/>
<rect x="319.07" y="274.65" width="2.7" height="2.7" fill="#c4102e"/>
<rect x="333.18" y="274.95" width="2.7" height="2.7" fill="#c4102e"/>
<polyline points="249.86,273 256.91,275 263.97,276 271.02,275.5 278.08,273.5 285.14,275.5 292.19,276 299.25,276 306.3,276.3 313.36,276.3" fill="none" stroke="#c4102e" stroke-width="1.2" stroke-linejoin="round"/>
<rect x="248.51" y="271.65" width="2.7" height="2.7" fill="#c4102e"/>
<rect x="255.56" y="273.65" width="2.7" height="2.7" fill="#c4102e"/>
<rect x="262.62" y="274.65" width="2.7" height="2.7" fill="#c4102e"/>
<rect x="269.67" y="274.15" width="2.7" height="2.7" fill="#c4102e"/>
<rect x="276.73" y="272.15" width="2.7" height="2.7" fill="#c4102e"/>
<rect x="283.79" y="274.15" width="2.7" height="2.7" fill="#c4102e"/>
<rect x="290.84" y="274.65" width="2.7" height="2.7" fill="#c4102e"/>
<rect x="297.9" y="274.65" width="2.7" height="2.7" fill="#c4102e"/>
<rect x="304.95" y="274.95" width="2.7" height="2.7" fill="#c4102e"/>
<rect x="312.01" y="274.95" width="2.7" height="2.7" fill="#c4102e"/>
<polyline points="249.86,270 256.91,273.5 263.97,275 271.02,274 278.08,275 285.14,274 292.19,275.5 299.25,276 306.3,276" fill="none" stroke="#c4102e" stroke-width="1.2" stroke-linejoin="round"/>
<rect x="248.51" y="268.65" width="2.7" height="2.7" fill="#c4102e"/>
<rect x="255.56" y="272.15" width="2.7" height="2.7" fill="#c4102e"/>
<rect x="262.62" y="273.65" width="2.7" height="2.7" fill="#c4102e"/>
<rect x="269.67" y="272.65" width="2.7" height="2.7" fill="#c4102e"/>
<rect x="276.73" y="273.65" width="2.7" height="2.7" fill="#c4102e"/>
<rect x="283.79" y="272.65" width="2.7" height="2.7" fill="#c4102e"/>
<rect x="290.84" y="274.15" width="2.7" height="2.7" fill="#c4102e"/>
<rect x="297.9" y="274.65" width="2.7" height="2.7" fill="#c4102e"/>
<rect x="304.95" y="274.65" width="2.7" height="2.7" fill="#c4102e"/>
<polyline points="249.86,274.5 256.91,275.5 263.97,276 271.02,276 278.08,275 285.14,276 292.19,276.3 299.25,276.3" fill="none" stroke="#c4102e" stroke-width="1.2" stroke-linejoin="round"/>
<rect x="248.51" y="273.15" width="2.7" height="2.7" fill="#c4102e"/>
<rect x="255.56" y="274.15" width="2.7" height="2.7" fill="#c4102e"/>
<rect x="262.62" y="274.65" width="2.7" height="2.7" fill="#c4102e"/>
<rect x="269.67" y="274.65" width="2.7" height="2.7" fill="#c4102e"/>
<rect x="276.73" y="273.65" width="2.7" height="2.7" fill="#c4102e"/>
<rect x="283.79" y="274.65" width="2.7" height="2.7" fill="#c4102e"/>
<rect x="290.84" y="274.95" width="2.7" height="2.7" fill="#c4102e"/>
<rect x="297.9" y="274.95" width="2.7" height="2.7" fill="#c4102e"/>
<polyline points="249.86,272 256.91,274 263.97,276 271.02,275 278.08,276 285.14,275.5" fill="none" stroke="#c4102e" stroke-width="1.2" stroke-linejoin="round"/>
<rect x="248.51" y="270.65" width="2.7" height="2.7" fill="#c4102e"/>
<rect x="255.56" y="272.65" width="2.7" height="2.7" fill="#c4102e"/>
<rect x="262.62" y="274.65" width="2.7" height="2.7" fill="#c4102e"/>
<rect x="269.67" y="273.65" width="2.7" height="2.7" fill="#c4102e"/>
<rect x="276.73" y="274.65" width="2.7" height="2.7" fill="#c4102e"/>
<rect x="283.79" y="274.15" width="2.7" height="2.7" fill="#c4102e"/>
<polyline points="249.86,268 256.91,245.6 263.97,230.1" fill="none" stroke="#34a544" stroke-width="1.05" stroke-linejoin="round"/>
<circle cx="249.86" cy="268" r="1.35" fill="#2b8f3a"/>
<circle cx="256.91" cy="245.6" r="1.35" fill="#2b8f3a"/>
<circle cx="263.97" cy="230.1" r="1.35" fill="#2b8f3a"/>
<polyline points="249.86,268.5 256.91,266 263.97,261.4 271.02,260.4 271.02,255.6 278.08,238.7 285.14,236.8 296.22,230.1" fill="none" stroke="#34a544" stroke-width="1.05" stroke-linejoin="round"/>
<circle cx="249.86" cy="268.5" r="1.35" fill="#2b8f3a"/>
<circle cx="256.91" cy="266" r="1.35" fill="#2b8f3a"/>
<circle cx="263.97" cy="261.4" r="1.35" fill="#2b8f3a"/>
<circle cx="271.02" cy="260.4" r="1.35" fill="#2b8f3a"/>
<circle cx="271.02" cy="255.6" r="1.35" fill="#2b8f3a"/>
<circle cx="278.08" cy="238.7" r="1.35" fill="#2b8f3a"/>
<circle cx="285.14" cy="236.8" r="1.35" fill="#2b8f3a"/>
<polyline points="249.86,270 256.91,268 263.97,266 271.02,262 281.61,230" fill="none" stroke="#34a544" stroke-width="1.05" stroke-linejoin="round"/>
<circle cx="249.86" cy="270" r="1.35" fill="#2b8f3a"/>
<circle cx="256.91" cy="268" r="1.35" fill="#2b8f3a"/>
<circle cx="263.97" cy="266" r="1.35" fill="#2b8f3a"/>
<circle cx="271.02" cy="262" r="1.35" fill="#2b8f3a"/>
<polyline points="249.86,272 256.91,269 263.97,267.5 271.02,265.6 278.08,265 285.14,255.9 292.19,252.4 299.25,257.8 320.42,266 334.53,270.3" fill="none" stroke="#34a544" stroke-width="1.05" stroke-linejoin="round"/>
<circle cx="249.86" cy="272" r="1.35" fill="#2b8f3a"/>
<circle cx="256.91" cy="269" r="1.35" fill="#2b8f3a"/>
<circle cx="263.97" cy="267.5" r="1.35" fill="#2b8f3a"/>
<circle cx="271.02" cy="265.6" r="1.35" fill="#2b8f3a"/>
<circle cx="278.08" cy="265" r="1.35" fill="#2b8f3a"/>
<circle cx="285.14" cy="255.9" r="1.35" fill="#2b8f3a"/>
<circle cx="292.19" cy="252.4" r="1.35" fill="#2b8f3a"/>
<circle cx="299.25" cy="257.8" r="1.35" fill="#2b8f3a"/>
<circle cx="320.42" cy="266" r="1.35" fill="#2b8f3a"/>
<circle cx="334.53" cy="270.3" r="1.35" fill="#2b8f3a"/>
<polyline points="249.86,273 256.91,271 263.97,268 271.02,268.5 278.08,270.2 285.14,259.9 299.25,241.1 313.36,241.1 320.42,230.8 334.53,244.6" fill="none" stroke="#34a544" stroke-width="1.05" stroke-linejoin="round"/>
<circle cx="249.86" cy="273" r="1.35" fill="#2b8f3a"/>
<circle cx="256.91" cy="271" r="1.35" fill="#2b8f3a"/>
<circle cx="263.97" cy="268" r="1.35" fill="#2b8f3a"/>
<circle cx="271.02" cy="268.5" r="1.35" fill="#2b8f3a"/>
<circle cx="278.08" cy="270.2" r="1.35" fill="#2b8f3a"/>
<circle cx="285.14" cy="259.9" r="1.35" fill="#2b8f3a"/>
<circle cx="299.25" cy="241.1" r="1.35" fill="#2b8f3a"/>
<circle cx="313.36" cy="241.1" r="1.35" fill="#2b8f3a"/>
<circle cx="320.42" cy="230.8" r="1.35" fill="#2b8f3a"/>
<circle cx="334.53" cy="244.6" r="1.35" fill="#2b8f3a"/>
<polyline points="316.38,230.5 320.42,240" fill="none" stroke="#34a544" stroke-width="1.05" stroke-linejoin="round"/>
<circle cx="320.42" cy="240" r="1.35" fill="#2b8f3a"/>
<polyline points="271.02,223.9 278.08,223.7 285.14,222.5 292.19,221.5 299.25,214.4 306.3,211.5 313.36,220.8 313.36,223.9" fill="none" stroke="#34a544" stroke-width="1.05" stroke-linejoin="round"/>
<circle cx="271.02" cy="223.9" r="1.35" fill="#2b8f3a"/>
<circle cx="278.08" cy="223.7" r="1.35" fill="#2b8f3a"/>
<circle cx="285.14" cy="222.5" r="1.35" fill="#2b8f3a"/>
<circle cx="292.19" cy="221.5" r="1.35" fill="#2b8f3a"/>
<circle cx="299.25" cy="214.4" r="1.35" fill="#2b8f3a"/>
<circle cx="306.3" cy="211.5" r="1.35" fill="#2b8f3a"/>
<circle cx="313.36" cy="220.8" r="1.35" fill="#2b8f3a"/>
<circle cx="313.36" cy="223.9" r="1.35" fill="#2b8f3a"/>
<polyline points="285.14,223.6 292.19,223 306.3,221.5 313.36,223.9" fill="none" stroke="#34a544" stroke-width="1.05" stroke-linejoin="round"/>
<circle cx="285.14" cy="223.6" r="1.35" fill="#2b8f3a"/>
<circle cx="292.19" cy="223" r="1.35" fill="#2b8f3a"/>
<circle cx="306.3" cy="221.5" r="1.35" fill="#2b8f3a"/>
<circle cx="313.36" cy="223.9" r="1.35" fill="#2b8f3a"/>
<text transform="translate(370.9 182.7) scale(0.924 1)" x="0" y="0" font-size="12.06" font-weight="bold" fill="#111">F</text>
<line x1="389.2" y1="197.6" x2="394.6" y2="197.6" stroke="#5cb85c" stroke-width="0.9"/>
<line x1="389.2" y1="208.5" x2="394.6" y2="208.5" stroke="#d23c5a" stroke-width="0.9"/>
<text x="397.7" y="199.9" font-size="6.4" textLength="28" lengthAdjust="spacingAndGlyphs" stroke="#383838" stroke-width="0.08">Untreated</text>
<text x="397.7" y="210.8" font-size="6.4" textLength="30.5" lengthAdjust="spacingAndGlyphs" stroke="#383838" stroke-width="0.08">STRO-002</text>
<text x="439" y="186.74" font-size="6.5" textLength="63.2" lengthAdjust="spacingAndGlyphs" stroke="#383838" stroke-width="0.08">Median Survival (Days)</text>
<line x1="439" y1="187.6" x2="502.2" y2="187.6" stroke="#444" stroke-width="0.5"/>
<text x="470.7" y="199.8" font-size="6.4" text-anchor="end" stroke="#383838" stroke-width="0.08">78</text>
<text x="470.7" y="209.7" font-size="6.4" text-anchor="end" textLength="28.7" lengthAdjust="spacingAndGlyphs" stroke="#383838" stroke-width="0.08">Undefined</text>
<line x1="474.6" y1="195.3" x2="474.6" y2="210.8" stroke="#333" stroke-width="0.6"/>
<text x="477.6" y="205" font-size="6.4" textLength="24.2" lengthAdjust="spacingAndGlyphs" stroke="#383838" stroke-width="0.08"><tspan font-style="italic">P</tspan> = .049</text>
<line x1="399.1" y1="219" x2="399.1" y2="279.4" stroke="#111" stroke-width="1.1"/>
<line x1="398.6" y1="276.9" x2="490" y2="276.9" stroke="#111" stroke-width="1"/>
<line x1="396.1" y1="276.9" x2="399.1" y2="276.9" stroke="#111" stroke-width="0.8"/>
<text x="392.6" y="279.17" font-size="6.3" text-anchor="end" stroke="#383838" stroke-width="0.08">0</text>
<line x1="396.1" y1="262.97" x2="399.1" y2="262.97" stroke="#111" stroke-width="0.8"/>
<text x="392.6" y="265.24" font-size="6.3" text-anchor="end" stroke="#383838" stroke-width="0.08">25</text>
<line x1="396.1" y1="249.05" x2="399.1" y2="249.05" stroke="#111" stroke-width="0.8"/>
<text x="392.6" y="251.32" font-size="6.3" text-anchor="end" stroke="#383838" stroke-width="0.08">50</text>
<line x1="396.1" y1="235.12" x2="399.1" y2="235.12" stroke="#111" stroke-width="0.8"/>
<text x="392.6" y="237.39" font-size="6.3" text-anchor="end" stroke="#383838" stroke-width="0.08">75</text>
<line x1="396.1" y1="221.2" x2="399.1" y2="221.2" stroke="#111" stroke-width="0.8"/>
<text x="392.6" y="223.47" font-size="6.3" text-anchor="end" stroke="#383838" stroke-width="0.08">100</text>
<line x1="398.9" y1="276.9" x2="398.9" y2="279.1" stroke="#111" stroke-width="0.8"/>
<text x="398.9" y="288.8" font-size="6.4" text-anchor="middle" stroke="#383838" stroke-width="0.08">0</text>
<line x1="411.86" y1="276.9" x2="411.86" y2="279.1" stroke="#111" stroke-width="0.8"/>
<text x="411.86" y="288.8" font-size="6.4" text-anchor="middle" stroke="#383838" stroke-width="0.08">14</text>
<line x1="424.83" y1="276.9" x2="424.83" y2="279.1" stroke="#111" stroke-width="0.8"/>
<text x="424.83" y="288.8" font-size="6.4" text-anchor="middle" stroke="#383838" stroke-width="0.08">28</text>
<line x1="437.79" y1="276.9" x2="437.79" y2="279.1" stroke="#111" stroke-width="0.8"/>
<text x="437.79" y="288.8" font-size="6.4" text-anchor="middle" stroke="#383838" stroke-width="0.08">42</text>
<line x1="450.76" y1="276.9" x2="450.76" y2="279.1" stroke="#111" stroke-width="0.8"/>
<text x="450.76" y="288.8" font-size="6.4" text-anchor="middle" stroke="#383838" stroke-width="0.08">56</text>
<line x1="463.72" y1="276.9" x2="463.72" y2="279.1" stroke="#111" stroke-width="0.8"/>
<text x="463.72" y="288.8" font-size="6.4" text-anchor="middle" stroke="#383838" stroke-width="0.08">70</text>
<line x1="476.68" y1="276.9" x2="476.68" y2="279.1" stroke="#111" stroke-width="0.8"/>
<text x="476.68" y="288.8" font-size="6.4" text-anchor="middle" stroke="#383838" stroke-width="0.08">84</text>
<line x1="489.65" y1="276.9" x2="489.65" y2="279.1" stroke="#111" stroke-width="0.8"/>
<text x="489.65" y="288.8" font-size="6.4" text-anchor="middle" stroke="#383838" stroke-width="0.08">98</text>
<text x="444.3" y="300.54" font-size="7.6" text-anchor="middle" textLength="71.2" lengthAdjust="spacingAndGlyphs" font-weight="bold">Days post leukemia injection</text>
<text transform="translate(373.7 249) rotate(-90)" x="0" y="2.66" font-size="7.4" text-anchor="middle" textLength="54" lengthAdjust="spacingAndGlyphs" font-weight="bold">Probability of survival</text>
<line x1="465.5" y1="221.7" x2="489.7" y2="221.7" stroke="#cc2850" stroke-width="1.2"/>
<line x1="400" y1="221.9" x2="465.5" y2="221.9" stroke="#8a7a2a" stroke-width="1.3"/>
<polyline points="465.2,221.7 465.2,245.2 471,245.2 471,256.2 489.5,256.2" fill="none" stroke="#4cb04c" stroke-width="1.1" stroke-linejoin="round"/>
<text transform="translate(7 331.7) scale(0.840 1)" x="0" y="0" font-size="12.06" font-weight="bold" fill="#111">G</text>
<line x1="35.3" y1="344.8" x2="35.3" y2="477.2" stroke="#111" stroke-width="1"/>
<path d="M33.4,476 L37.2,476 L35.3,480.2Z" fill="#111"/>
<text transform="translate(13.8 411.8) rotate(-90)" x="0" y="3.24" font-size="9" text-anchor="middle" textLength="42.4" lengthAdjust="spacingAndGlyphs" stroke="#383838" stroke-width="0.08">WSU-AML</text>
<text transform="translate(27.4 412.5) rotate(-90)" x="0" y="2.38" font-size="6.6" text-anchor="middle" textLength="77" lengthAdjust="spacingAndGlyphs" stroke="#383838" stroke-width="0.08">Days post leukemia injection</text>
<text x="46" y="356.45" font-size="6.8" text-anchor="end" stroke="#383838" stroke-width="0.08">7</text>
<text x="46" y="375.85" font-size="6.8" text-anchor="end" stroke="#383838" stroke-width="0.08">14</text>
<text x="46" y="394.25" font-size="6.8" text-anchor="end" stroke="#383838" stroke-width="0.08">35</text>
<text x="46" y="412.95" font-size="6.8" text-anchor="end" stroke="#383838" stroke-width="0.08">42</text>
<text x="46" y="432.75" font-size="6.8" text-anchor="end" stroke="#383838" stroke-width="0.08">49</text>
<text x="46" y="452.85" font-size="6.8" text-anchor="end" stroke="#383838" stroke-width="0.08">63</text>
<text x="46" y="473.85" font-size="6.8" text-anchor="end" stroke="#383838" stroke-width="0.08">70</text>
<text x="72.9" y="339.9" font-size="6.4" text-anchor="middle" textLength="28" lengthAdjust="spacingAndGlyphs" stroke="#383838" stroke-width="0.08">Untreated</text>
<text x="117.5" y="339.9" font-size="6.4" text-anchor="middle" textLength="31" lengthAdjust="spacingAndGlyphs" stroke="#383838" stroke-width="0.08">STRO-002</text>
<rect x="49.7" y="344.1" width="90.1" height="76.2" fill="#9c9c9c"/>
<rect x="94.7" y="420.3" width="44.9" height="19" fill="#9c9c9c"/>
<rect x="50.2" y="344.6" width="43.8" height="18.3" fill="#1c1c1c"/>
<path d="M54.58,346.06 L55.24,346.34 L55.68,347.16 L56,348.26 L56.66,349.18 L57.32,350 L57.65,351.1 L57.81,352.93 L57.97,355.21 L58.08,357.5 L57.87,359.15 L57.1,360.25 L55.89,360.66 L54.58,360.7 L53.27,360.66 L52.06,360.25 L51.3,359.15 L51.08,357.5 L51.19,355.21 L51.35,352.93 L51.51,351.1 L51.84,350 L52.5,349.18 L53.16,348.26 L53.49,347.16 L53.92,346.34Z" fill="#dcdcdc" filter="url(#b05)"/>
<path d="M63.34,346.06 L64,346.34 L64.44,347.16 L64.76,348.26 L65.42,349.18 L66.08,350 L66.41,351.1 L66.57,352.93 L66.73,355.21 L66.84,357.5 L66.62,359.15 L65.86,360.25 L64.65,360.66 L63.34,360.7 L62.03,360.66 L60.82,360.25 L60.06,359.15 L59.84,357.5 L59.95,355.21 L60.11,352.93 L60.27,351.1 L60.6,350 L61.26,349.18 L61.92,348.26 L62.25,347.16 L62.68,346.34Z" fill="#dcdcdc" filter="url(#b05)"/>
<path d="M72.1,346.06 L72.76,346.34 L73.19,347.16 L73.52,348.26 L74.18,349.18 L74.84,350 L75.17,351.1 L75.33,352.93 L75.49,355.21 L75.6,357.5 L75.38,359.15 L74.62,360.25 L73.41,360.66 L72.1,360.7 L70.79,360.66 L69.58,360.25 L68.81,359.15 L68.6,357.5 L68.71,355.21 L68.87,352.93 L69.03,351.1 L69.36,350 L70.02,349.18 L70.68,348.26 L71,347.16 L71.44,346.34Z" fill="#dcdcdc" filter="url(#b05)"/>
<ellipse cx="72.1" cy="351.92" rx="2.1" ry="1.46" fill="#5a40b0" filter="url(#b1)"/>
<path d="M80.86,346.06 L81.52,346.34 L81.95,347.16 L82.28,348.26 L82.94,349.18 L83.6,350 L83.93,351.1 L84.09,352.93 L84.25,355.21 L84.36,357.5 L84.14,359.15 L83.38,360.25 L82.17,360.66 L80.86,360.7 L79.55,360.66 L78.34,360.25 L77.58,359.15 L77.36,357.5 L77.47,355.21 L77.63,352.93 L77.79,351.1 L78.12,350 L78.78,349.18 L79.44,348.26 L79.77,347.16 L80.2,346.34Z" fill="#dcdcdc" filter="url(#b05)"/>
<ellipse cx="80.86" cy="351.19" rx="3.85" ry="4.39" fill="#4a2aa8" filter="url(#b1)"/>
<path d="M89.62,346.06 L90.28,346.34 L90.72,347.16 L91.04,348.26 L91.7,349.18 L92.36,350 L92.69,351.1 L92.85,352.93 L93.01,355.21 L93.12,357.5 L92.91,359.15 L92.14,360.25 L90.93,360.66 L89.62,360.7 L88.31,360.66 L87.1,360.25 L86.34,359.15 L86.12,357.5 L86.23,355.21 L86.39,352.93 L86.55,351.1 L86.88,350 L87.54,349.18 L88.2,348.26 L88.53,347.16 L88.96,346.34Z" fill="#dcdcdc" filter="url(#b05)"/>
<ellipse cx="89.62" cy="350.46" rx="2.8" ry="2.2" fill="#5a3ab0" filter="url(#b1)"/>
<rect x="50.2" y="360.6" width="43.8" height="1.4" fill="#555"/>
<rect x="50.2" y="363.7" width="43.8" height="18.1" fill="#161420"/>
<path d="M54.58,365.15 L55.24,365.42 L55.68,366.23 L56,367.32 L56.66,368.22 L57.32,369.04 L57.65,370.13 L57.81,371.94 L57.97,374.2 L58.08,376.46 L57.87,378.09 L57.1,379.18 L55.89,379.58 L54.58,379.63 L53.27,379.58 L52.06,379.18 L51.3,378.09 L51.08,376.46 L51.19,374.2 L51.35,371.94 L51.51,370.13 L51.84,369.04 L52.5,368.22 L53.16,367.32 L53.49,366.23 L53.92,365.42Z" fill="#e4e0f4" filter="url(#b05)"/>
<ellipse cx="54.58" cy="369.78" rx="3.85" ry="3.62" fill="#3a2aa8" filter="url(#b1)"/>
<path d="M63.34,365.15 L64,365.42 L64.44,366.23 L64.76,367.32 L65.42,368.22 L66.08,369.04 L66.41,370.13 L66.57,371.94 L66.73,374.2 L66.84,376.46 L66.62,378.09 L65.86,379.18 L64.65,379.58 L63.34,379.63 L62.03,379.58 L60.82,379.18 L60.06,378.09 L59.84,376.46 L59.95,374.2 L60.11,371.94 L60.27,370.13 L60.6,369.04 L61.26,368.22 L61.92,367.32 L62.25,366.23 L62.68,365.42Z" fill="#e4e0f4" filter="url(#b05)"/>
<ellipse cx="63.34" cy="369.49" rx="3.5" ry="2.9" fill="#208a70" filter="url(#b1)"/>
<ellipse cx="63.34" cy="369.49" rx="1.4" ry="1.45" fill="#d03020" filter="url(#b1)"/>
<path d="M72.1,365.15 L72.76,365.42 L73.19,366.23 L73.52,367.32 L74.18,368.22 L74.84,369.04 L75.17,370.13 L75.33,371.94 L75.49,374.2 L75.6,376.46 L75.38,378.09 L74.62,379.18 L73.41,379.58 L72.1,379.63 L70.79,379.58 L69.58,379.18 L68.81,378.09 L68.6,376.46 L68.71,374.2 L68.87,371.94 L69.03,370.13 L69.36,369.04 L70.02,368.22 L70.68,367.32 L71,366.23 L71.44,365.42Z" fill="#e4e0f4" filter="url(#b05)"/>
<ellipse cx="72.1" cy="369.49" rx="3.85" ry="3.62" fill="#2a2ab0" filter="url(#b1)"/>
<ellipse cx="72.1" cy="369.78" rx="2.1" ry="1.74" fill="#2090c0" filter="url(#b1)"/>
<path d="M80.86,365.15 L81.52,365.42 L81.95,366.23 L82.28,367.32 L82.94,368.22 L83.6,369.04 L83.93,370.13 L84.09,371.94 L84.25,374.2 L84.36,376.46 L84.14,378.09 L83.38,379.18 L82.17,379.58 L80.86,379.63 L79.55,379.58 L78.34,379.18 L77.58,378.09 L77.36,376.46 L77.47,374.2 L77.63,371.94 L77.79,370.13 L78.12,369.04 L78.78,368.22 L79.44,367.32 L79.77,366.23 L80.2,365.42Z" fill="#e4e0f4" filter="url(#b05)"/>
<ellipse cx="80.86" cy="369.49" rx="3.85" ry="3.62" fill="#209080" filter="url(#b1)"/>
<path d="M89.62,365.15 L90.28,365.42 L90.72,366.23 L91.04,367.32 L91.7,368.22 L92.36,369.04 L92.69,370.13 L92.85,371.94 L93.01,374.2 L93.12,376.46 L92.91,378.09 L92.14,379.18 L90.93,379.58 L89.62,379.63 L88.31,379.58 L87.1,379.18 L86.34,378.09 L86.12,376.46 L86.23,374.2 L86.39,371.94 L86.55,370.13 L86.88,369.04 L87.54,368.22 L88.2,367.32 L88.53,366.23 L88.96,365.42Z" fill="#e4e0f4" filter="url(#b05)"/>
<ellipse cx="89.62" cy="369.49" rx="3.85" ry="3.62" fill="#2aa090" filter="url(#b1)"/>
<ellipse cx="89.62" cy="369.49" rx="1.4" ry="1.16" fill="#d0a020" filter="url(#b1)"/>
<rect x="50.2" y="382.3" width="43.8" height="18.2" fill="#2a56c2"/>
<g filter="url(#b1)">
<path d="M56.5,383.1 L57.44,383.42 L58.06,384.39 L58.53,385.68 L59.47,386.75 L60.41,387.72 L60.88,389.01 L61.11,391.16 L61.34,393.85 L61.5,396.54 L61.19,398.47 L60.09,399.76 L58.38,400.25 L56.5,400.3 L54.62,400.25 L52.91,399.76 L51.81,398.47 L51.5,396.54 L51.66,393.85 L51.89,391.16 L52.12,389.01 L52.59,387.72 L53.53,386.75 L54.47,385.68 L54.94,384.39 L55.56,383.42Z" fill="#2a9a90"/>
<path d="M64.5,383.1 L65.44,383.42 L66.06,384.39 L66.53,385.68 L67.47,386.75 L68.41,387.72 L68.88,389.01 L69.11,391.16 L69.34,393.85 L69.5,396.54 L69.19,398.47 L68.09,399.76 L66.38,400.25 L64.5,400.3 L62.62,400.25 L60.91,399.76 L59.81,398.47 L59.5,396.54 L59.66,393.85 L59.89,391.16 L60.12,389.01 L60.59,387.72 L61.53,386.75 L62.47,385.68 L62.94,384.39 L63.56,383.42Z" fill="#2a9a90"/>
<path d="M73.5,383.1 L74.25,383.42 L74.75,384.39 L75.12,385.68 L75.88,386.75 L76.62,387.72 L77,389.01 L77.19,391.16 L77.38,393.85 L77.5,396.54 L77.25,398.47 L76.38,399.76 L75,400.25 L73.5,400.3 L72,400.25 L70.62,399.76 L69.75,398.47 L69.5,396.54 L69.62,393.85 L69.81,391.16 L70,389.01 L70.38,387.72 L71.12,386.75 L71.88,385.68 L72.25,384.39 L72.75,383.42Z" fill="#22a088"/>
<path d="M80.5,383.1 L81.25,383.42 L81.75,384.39 L82.12,385.68 L82.88,386.75 L83.62,387.72 L84,389.01 L84.19,391.16 L84.38,393.85 L84.5,396.54 L84.25,398.47 L83.38,399.76 L82,400.25 L80.5,400.3 L79,400.25 L77.62,399.76 L76.75,398.47 L76.5,396.54 L76.62,393.85 L76.81,391.16 L77,389.01 L77.38,387.72 L78.12,386.75 L78.88,385.68 L79.25,384.39 L79.75,383.42Z" fill="#22a088"/>
<path d="M88.5,383.1 L89.39,383.42 L89.98,384.39 L90.43,385.68 L91.32,386.75 L92.21,387.72 L92.66,389.01 L92.88,391.16 L93.1,393.85 L93.25,396.54 L92.95,398.47 L91.91,399.76 L90.28,400.25 L88.5,400.3 L86.72,400.25 L85.09,399.76 L84.05,398.47 L83.75,396.54 L83.9,393.85 L84.12,391.16 L84.34,389.01 L84.79,387.72 L85.68,386.75 L86.57,385.68 L87.02,384.39 L87.61,383.42Z" fill="#2a9a90"/>
<path d="M56.5,384.3 L57.31,384.59 L57.84,385.44 L58.25,386.58 L59.05,387.53 L59.86,388.38 L60.26,389.53 L60.46,391.43 L60.67,393.8 L60.8,396.18 L60.53,397.88 L59.59,399.03 L58.11,399.45 L56.5,399.5 L54.89,399.45 L53.41,399.03 L52.47,397.88 L52.2,396.18 L52.33,393.8 L52.54,391.43 L52.74,389.53 L53.14,388.38 L53.95,387.53 L54.75,386.58 L55.16,385.44 L55.69,384.59Z" fill="#f2441c"/>
<path d="M64.5,384.3 L65.31,384.59 L65.84,385.44 L66.25,386.58 L67.05,387.53 L67.86,388.38 L68.26,389.53 L68.46,391.43 L68.67,393.8 L68.8,396.18 L68.53,397.88 L67.59,399.03 L66.11,399.45 L64.5,399.5 L62.89,399.45 L61.41,399.03 L60.47,397.88 L60.2,396.18 L60.33,393.8 L60.54,391.43 L60.74,389.53 L61.14,388.38 L61.95,387.53 L62.75,386.58 L63.16,385.44 L63.69,384.59Z" fill="#f2441c"/>
<path d="M88.5,384.3 L89.25,384.59 L89.75,385.44 L90.12,386.58 L90.88,387.53 L91.62,388.38 L92,389.53 L92.19,391.43 L92.38,393.8 L92.5,396.18 L92.25,397.88 L91.38,399.03 L90,399.45 L88.5,399.5 L87,399.45 L85.62,399.03 L84.75,397.88 L84.5,396.18 L84.62,393.8 L84.81,391.43 L85,389.53 L85.38,388.38 L86.12,387.53 L86.88,386.58 L87.25,385.44 L87.75,384.59Z" fill="#f2441c"/>
<ellipse cx="60.5" cy="393.3" rx="6" ry="5" fill="#f2441c"/>
<path d="M73.5,386.3 L73.83,386.53 L74.05,387.2 L74.21,388.1 L74.54,388.85 L74.87,389.53 L75.03,390.43 L75.11,391.93 L75.2,393.8 L75.25,395.68 L75.14,397.03 L74.76,397.93 L74.16,398.26 L73.5,398.3 L72.84,398.26 L72.24,397.93 L71.86,397.03 L71.75,395.68 L71.8,393.8 L71.89,391.93 L71.97,390.43 L72.13,389.53 L72.46,388.85 L72.79,388.1 L72.95,387.2 L73.17,386.53Z" fill="#2a88b0" filter="url(#b1)"/>
<path d="M80.5,386.3 L80.83,386.53 L81.05,387.2 L81.21,388.1 L81.54,388.85 L81.87,389.53 L82.03,390.43 L82.11,391.93 L82.2,393.8 L82.25,395.68 L82.14,397.03 L81.76,397.93 L81.16,398.26 L80.5,398.3 L79.84,398.26 L79.24,397.93 L78.86,397.03 L78.75,395.68 L78.8,393.8 L78.89,391.93 L78.97,390.43 L79.13,389.53 L79.46,388.85 L79.79,388.1 L79.95,387.2 L80.17,386.53Z" fill="#2a88b0" filter="url(#b1)"/>
</g>
<rect x="50.2" y="401.3" width="43.8" height="18.5" fill="#2b42b0"/>
<g filter="url(#b1)">
<path d="M74,402.8 L74.89,403.12 L75.48,404.07 L75.93,405.35 L76.82,406.41 L77.71,407.37 L78.16,408.64 L78.38,410.77 L78.6,413.43 L78.75,416.08 L78.45,417.99 L77.41,419.27 L75.78,419.75 L74,419.8 L72.22,419.75 L70.59,419.27 L69.55,417.99 L69.25,416.08 L69.4,413.43 L69.62,410.77 L69.84,408.64 L70.29,407.37 L71.18,406.41 L72.07,405.35 L72.52,404.07 L73.11,403.12Z" fill="#2aa070"/>
<path d="M81,404.3 L81.8,404.59 L82.33,405.46 L82.73,406.62 L83.52,407.59 L84.32,408.47 L84.72,409.63 L84.92,411.57 L85.12,413.99 L85.25,416.41 L84.98,418.15 L84.05,419.32 L82.59,419.75 L81,419.8 L79.41,419.75 L77.95,419.32 L77.02,418.15 L76.75,416.41 L76.88,413.99 L77.08,411.57 L77.28,409.63 L77.68,408.47 L78.48,407.59 L79.27,406.62 L79.67,405.46 L80.2,404.59Z" fill="#2aa070"/>
<path d="M74,403.8 L74.75,404.09 L75.25,404.96 L75.62,406.12 L76.38,407.09 L77.12,407.97 L77.5,409.13 L77.69,411.07 L77.88,413.49 L78,415.91 L77.75,417.65 L76.88,418.82 L75.5,419.25 L74,419.3 L72.5,419.25 L71.12,418.82 L70.25,417.65 L70,415.91 L70.12,413.49 L70.31,411.07 L70.5,409.13 L70.88,407.97 L71.62,407.09 L72.38,406.12 L72.75,404.96 L73.25,404.09Z" fill="#f2441c"/>
<path d="M81,405.8 L81.66,406.05 L82.09,406.81 L82.42,407.82 L83.08,408.67 L83.73,409.43 L84.06,410.44 L84.23,412.13 L84.39,414.24 L84.5,416.35 L84.28,417.87 L83.52,418.88 L82.31,419.26 L81,419.3 L79.69,419.26 L78.48,418.88 L77.72,417.87 L77.5,416.35 L77.61,414.24 L77.77,412.13 L77.94,410.44 L78.27,409.43 L78.92,408.67 L79.58,407.82 L79.91,406.81 L80.34,406.05Z" fill="#f2441c"/>
<ellipse cx="80" cy="414.8" rx="1.4" ry="1.6" fill="#e8c020"/>
</g>
<line x1="53.5" y1="407.55" x2="57.5" y2="415.55" stroke="#a83078" stroke-width="0.9"/>
<line x1="57.5" y1="407.55" x2="53.5" y2="415.55" stroke="#a83078" stroke-width="0.9"/>
<line x1="61.5" y1="407.55" x2="65.5" y2="415.55" stroke="#a83078" stroke-width="0.9"/>
<line x1="65.5" y1="407.55" x2="61.5" y2="415.55" stroke="#a83078" stroke-width="0.9"/>
<line x1="87.5" y1="407.55" x2="91.5" y2="415.55" stroke="#a83078" stroke-width="0.9"/>
<line x1="91.5" y1="407.55" x2="87.5" y2="415.55" stroke="#a83078" stroke-width="0.9"/>
<line x1="69" y1="426.65" x2="73.6" y2="435.15" stroke="#d8342c" stroke-width="0.9"/>
<line x1="73.6" y1="426.65" x2="69" y2="435.15" stroke="#d8342c" stroke-width="0.9"/>
<line x1="79.2" y1="426.65" x2="83.8" y2="435.15" stroke="#d8342c" stroke-width="0.9"/>
<line x1="83.8" y1="426.65" x2="79.2" y2="435.15" stroke="#d8342c" stroke-width="0.9"/>
<rect x="95.2" y="344.6" width="44.1" height="18.3" fill="#1c1c1c"/>
<path d="M99.61,346.06 L100.27,346.34 L100.71,347.16 L101.04,348.26 L101.7,349.18 L102.37,350 L102.7,351.1 L102.86,352.93 L103.03,355.21 L103.14,357.5 L102.92,359.15 L102.15,360.25 L100.93,360.66 L99.61,360.7 L98.29,360.66 L97.07,360.25 L96.3,359.15 L96.08,357.5 L96.19,355.21 L96.36,352.93 L96.52,351.1 L96.85,350 L97.52,349.18 L98.18,348.26 L98.51,347.16 L98.95,346.34Z" fill="#e0e0e0" filter="url(#b05)"/>
<ellipse cx="99.61" cy="351.92" rx="1.76" ry="1.46" fill="#6a50b8" filter="url(#b1)"/>
<path d="M108.43,346.06 L109.09,346.34 L109.53,347.16 L109.86,348.26 L110.52,349.18 L111.19,350 L111.52,351.1 L111.68,352.93 L111.85,355.21 L111.96,357.5 L111.74,359.15 L110.97,360.25 L109.75,360.66 L108.43,360.7 L107.11,360.66 L105.89,360.25 L105.12,359.15 L104.9,357.5 L105.01,355.21 L105.18,352.93 L105.34,351.1 L105.67,350 L106.34,349.18 L107,348.26 L107.33,347.16 L107.77,346.34Z" fill="#e0e0e0" filter="url(#b05)"/>
<ellipse cx="108.43" cy="351.92" rx="2.12" ry="1.76" fill="#5a40b0" filter="url(#b1)"/>
<path d="M117.25,346.06 L117.91,346.34 L118.35,347.16 L118.68,348.26 L119.34,349.18 L120.01,350 L120.34,351.1 L120.5,352.93 L120.67,355.21 L120.78,357.5 L120.56,359.15 L119.79,360.25 L118.57,360.66 L117.25,360.7 L115.93,360.66 L114.71,360.25 L113.94,359.15 L113.72,357.5 L113.83,355.21 L114,352.93 L114.16,351.1 L114.49,350 L115.16,349.18 L115.82,348.26 L116.15,347.16 L116.59,346.34Z" fill="#e0e0e0" filter="url(#b05)"/>
<ellipse cx="117.25" cy="351.63" rx="2.47" ry="2.05" fill="#4a30a8" filter="url(#b1)"/>
<path d="M126.07,346.06 L126.73,346.34 L127.17,347.16 L127.5,348.26 L128.16,349.18 L128.83,350 L129.16,351.1 L129.32,352.93 L129.49,355.21 L129.6,357.5 L129.38,359.15 L128.61,360.25 L127.39,360.66 L126.07,360.7 L124.75,360.66 L123.53,360.25 L122.76,359.15 L122.54,357.5 L122.65,355.21 L122.82,352.93 L122.98,351.1 L123.31,350 L123.98,349.18 L124.64,348.26 L124.97,347.16 L125.41,346.34Z" fill="#e0e0e0" filter="url(#b05)"/>
<ellipse cx="126.07" cy="351.63" rx="2.47" ry="2.34" fill="#4a2aa8" filter="url(#b1)"/>
<path d="M134.89,346.06 L135.55,346.34 L135.99,347.16 L136.32,348.26 L136.98,349.18 L137.65,350 L137.98,351.1 L138.14,352.93 L138.31,355.21 L138.42,357.5 L138.2,359.15 L137.43,360.25 L136.21,360.66 L134.89,360.7 L133.57,360.66 L132.35,360.25 L131.58,359.15 L131.36,357.5 L131.47,355.21 L131.64,352.93 L131.8,351.1 L132.13,350 L132.8,349.18 L133.46,348.26 L133.79,347.16 L134.23,346.34Z" fill="#e0e0e0" filter="url(#b05)"/>
<ellipse cx="134.89" cy="351.92" rx="1.41" ry="1.17" fill="#7a60c0" filter="url(#b1)"/>
<rect x="95.2" y="363.7" width="44.1" height="18.1" fill="#1c1c1c"/>
<path d="M99.61,365.15 L100.27,365.42 L100.71,366.23 L101.04,367.32 L101.7,368.22 L102.37,369.04 L102.7,370.13 L102.86,371.94 L103.03,374.2 L103.14,376.46 L102.92,378.09 L102.15,379.18 L100.93,379.58 L99.61,379.63 L98.29,379.58 L97.07,379.18 L96.3,378.09 L96.08,376.46 L96.19,374.2 L96.36,371.94 L96.52,370.13 L96.85,369.04 L97.52,368.22 L98.18,367.32 L98.51,366.23 L98.95,365.42Z" fill="#e0e0e0" filter="url(#b05)"/>
<ellipse cx="99.61" cy="371.66" rx="1.76" ry="1.16" fill="#7a60c0" filter="url(#b1)"/>
<path d="M108.43,365.15 L109.09,365.42 L109.53,366.23 L109.86,367.32 L110.52,368.22 L111.19,369.04 L111.52,370.13 L111.68,371.94 L111.85,374.2 L111.96,376.46 L111.74,378.09 L110.97,379.18 L109.75,379.58 L108.43,379.63 L107.11,379.58 L105.89,379.18 L105.12,378.09 L104.9,376.46 L105.01,374.2 L105.18,371.94 L105.34,370.13 L105.67,369.04 L106.34,368.22 L107,367.32 L107.33,366.23 L107.77,365.42Z" fill="#e0e0e0" filter="url(#b05)"/>
<ellipse cx="108.43" cy="370.94" rx="1.41" ry="1.01" fill="#8a70c8" filter="url(#b1)"/>
<path d="M117.25,365.15 L117.91,365.42 L118.35,366.23 L118.68,367.32 L119.34,368.22 L120.01,369.04 L120.34,370.13 L120.5,371.94 L120.67,374.2 L120.78,376.46 L120.56,378.09 L119.79,379.18 L118.57,379.58 L117.25,379.63 L115.93,379.58 L114.71,379.18 L113.94,378.09 L113.72,376.46 L113.83,374.2 L114,371.94 L114.16,370.13 L114.49,369.04 L115.16,368.22 L115.82,367.32 L116.15,366.23 L116.59,365.42Z" fill="#e0e0e0" filter="url(#b05)"/>
<ellipse cx="117.25" cy="370.65" rx="2.12" ry="1.45" fill="#5a40b0" filter="url(#b1)"/>
<path d="M126.07,365.15 L126.73,365.42 L127.17,366.23 L127.5,367.32 L128.16,368.22 L128.83,369.04 L129.16,370.13 L129.32,371.94 L129.49,374.2 L129.6,376.46 L129.38,378.09 L128.61,379.18 L127.39,379.58 L126.07,379.63 L124.75,379.58 L123.53,379.18 L122.76,378.09 L122.54,376.46 L122.65,374.2 L122.82,371.94 L122.98,370.13 L123.31,369.04 L123.98,368.22 L124.64,367.32 L124.97,366.23 L125.41,365.42Z" fill="#e0e0e0" filter="url(#b05)"/>
<ellipse cx="126.07" cy="370.22" rx="2.12" ry="1.45" fill="#4a30a8" filter="url(#b1)"/>
<path d="M134.89,365.15 L135.55,365.42 L135.99,366.23 L136.32,367.32 L136.98,368.22 L137.65,369.04 L137.98,370.13 L138.14,371.94 L138.31,374.2 L138.42,376.46 L138.2,378.09 L137.43,379.18 L136.21,379.58 L134.89,379.63 L133.57,379.58 L132.35,379.18 L131.58,378.09 L131.36,376.46 L131.47,374.2 L131.64,371.94 L131.8,370.13 L132.13,369.04 L132.8,368.22 L133.46,367.32 L133.79,366.23 L134.23,365.42Z" fill="#e0e0e0" filter="url(#b05)"/>
<ellipse cx="134.89" cy="370.94" rx="1.41" ry="1.01" fill="#8a70c8" filter="url(#b1)"/>
<rect x="95.2" y="382.3" width="44.1" height="18.2" fill="#3a2a80"/>
<path d="M99.61,383.76 L100.27,384.03 L100.71,384.85 L101.04,385.94 L101.7,386.85 L102.37,387.67 L102.7,388.76 L102.86,390.58 L103.03,392.86 L103.14,395.13 L102.92,396.77 L102.15,397.86 L100.93,398.27 L99.61,398.32 L98.29,398.27 L97.07,397.86 L96.3,396.77 L96.08,395.13 L96.19,392.86 L96.36,390.58 L96.52,388.76 L96.85,387.67 L97.52,386.85 L98.18,385.94 L98.51,384.85 L98.95,384.03Z" fill="#c8c0e8" filter="url(#b05)"/>
<ellipse cx="99.61" cy="391.04" rx="2.82" ry="4.37" fill="#8a70c8" filter="url(#b1)"/>
<path d="M108.43,383.76 L109.09,384.03 L109.53,384.85 L109.86,385.94 L110.52,386.85 L111.19,387.67 L111.52,388.76 L111.68,390.58 L111.85,392.86 L111.96,395.13 L111.74,396.77 L110.97,397.86 L109.75,398.27 L108.43,398.32 L107.11,398.27 L105.89,397.86 L105.12,396.77 L104.9,395.13 L105.01,392.86 L105.18,390.58 L105.34,388.76 L105.67,387.67 L106.34,386.85 L107,385.94 L107.33,384.85 L107.77,384.03Z" fill="#c8c0e8" filter="url(#b05)"/>
<ellipse cx="108.43" cy="391.04" rx="2.82" ry="4.37" fill="#b0a0dc" filter="url(#b1)"/>
<path d="M117.25,383.76 L117.91,384.03 L118.35,384.85 L118.68,385.94 L119.34,386.85 L120.01,387.67 L120.34,388.76 L120.5,390.58 L120.67,392.86 L120.78,395.13 L120.56,396.77 L119.79,397.86 L118.57,398.27 L117.25,398.32 L115.93,398.27 L114.71,397.86 L113.94,396.77 L113.72,395.13 L113.83,392.86 L114,390.58 L114.16,388.76 L114.49,387.67 L115.16,386.85 L115.82,385.94 L116.15,384.85 L116.59,384.03Z" fill="#c8c0e8" filter="url(#b05)"/>
<ellipse cx="117.25" cy="389.58" rx="2.82" ry="2.91" fill="#20a0a0" filter="url(#b1)"/>
<ellipse cx="117.25" cy="393.95" rx="2.12" ry="1.46" fill="#d04040" filter="url(#b1)"/>
<path d="M126.07,383.76 L126.73,384.03 L127.17,384.85 L127.5,385.94 L128.16,386.85 L128.83,387.67 L129.16,388.76 L129.32,390.58 L129.49,392.86 L129.6,395.13 L129.38,396.77 L128.61,397.86 L127.39,398.27 L126.07,398.32 L124.75,398.27 L123.53,397.86 L122.76,396.77 L122.54,395.13 L122.65,392.86 L122.82,390.58 L122.98,388.76 L123.31,387.67 L123.98,386.85 L124.64,385.94 L124.97,384.85 L125.41,384.03Z" fill="#c8c0e8" filter="url(#b05)"/>
<ellipse cx="126.07" cy="391.04" rx="2.82" ry="3.64" fill="#a890d8" filter="url(#b1)"/>
<ellipse cx="126.07" cy="388.12" rx="2.12" ry="1.46" fill="#30b060" filter="url(#b1)"/>
<path d="M134.89,383.76 L135.55,384.03 L135.99,384.85 L136.32,385.94 L136.98,386.85 L137.65,387.67 L137.98,388.76 L138.14,390.58 L138.31,392.86 L138.42,395.13 L138.2,396.77 L137.43,397.86 L136.21,398.27 L134.89,398.32 L133.57,398.27 L132.35,397.86 L131.58,396.77 L131.36,395.13 L131.47,392.86 L131.64,390.58 L131.8,388.76 L132.13,387.67 L132.8,386.85 L133.46,385.94 L133.79,384.85 L134.23,384.03Z" fill="#c8c0e8" filter="url(#b05)"/>
<ellipse cx="134.89" cy="391.04" rx="2.82" ry="3.64" fill="#a890d8" filter="url(#b1)"/>
<rect x="95.2" y="401.3" width="44.1" height="18.5" fill="#3a2a80"/>
<path d="M99.61,402.78 L100.27,403.06 L100.71,403.89 L101.04,405 L101.7,405.93 L102.37,406.76 L102.7,407.87 L102.86,409.72 L103.03,412.03 L103.14,414.34 L102.92,416.01 L102.15,417.12 L100.93,417.53 L99.61,417.58 L98.29,417.53 L97.07,417.12 L96.3,416.01 L96.08,414.34 L96.19,412.03 L96.36,409.72 L96.52,407.87 L96.85,406.76 L97.52,405.93 L98.18,405 L98.51,403.89 L98.95,403.06Z" fill="#c8c0e8" filter="url(#b05)"/>
<ellipse cx="99.61" cy="410.18" rx="2.82" ry="4.44" fill="#8a70c8" filter="url(#b1)"/>
<ellipse cx="99.61" cy="413.14" rx="2.12" ry="1.48" fill="#c0a030" filter="url(#b1)"/>
<path d="M108.43,402.78 L109.09,403.06 L109.53,403.89 L109.86,405 L110.52,405.93 L111.19,406.76 L111.52,407.87 L111.68,409.72 L111.85,412.03 L111.96,414.34 L111.74,416.01 L110.97,417.12 L109.75,417.53 L108.43,417.58 L107.11,417.53 L105.89,417.12 L105.12,416.01 L104.9,414.34 L105.01,412.03 L105.18,409.72 L105.34,407.87 L105.67,406.76 L106.34,405.93 L107,405 L107.33,403.89 L107.77,403.06Z" fill="#c8c0e8" filter="url(#b05)"/>
<ellipse cx="108.43" cy="410.18" rx="2.82" ry="4.44" fill="#c0b4e4" filter="url(#b1)"/>
<path d="M117.25,402.78 L117.91,403.06 L118.35,403.89 L118.68,405 L119.34,405.93 L120.01,406.76 L120.34,407.87 L120.5,409.72 L120.67,412.03 L120.78,414.34 L120.56,416.01 L119.79,417.12 L118.57,417.53 L117.25,417.58 L115.93,417.53 L114.71,417.12 L113.94,416.01 L113.72,414.34 L113.83,412.03 L114,409.72 L114.16,407.87 L114.49,406.76 L115.16,405.93 L115.82,405 L116.15,403.89 L116.59,403.06Z" fill="#c8c0e8" filter="url(#b05)"/>
<ellipse cx="117.25" cy="408.7" rx="2.82" ry="2.96" fill="#30a060" filter="url(#b1)"/>
<ellipse cx="117.25" cy="412.4" rx="2.12" ry="1.78" fill="#2050c0" filter="url(#b1)"/>
<path d="M126.07,402.78 L126.73,403.06 L127.17,403.89 L127.5,405 L128.16,405.93 L128.83,406.76 L129.16,407.87 L129.32,409.72 L129.49,412.03 L129.6,414.34 L129.38,416.01 L128.61,417.12 L127.39,417.53 L126.07,417.58 L124.75,417.53 L123.53,417.12 L122.76,416.01 L122.54,414.34 L122.65,412.03 L122.82,409.72 L122.98,407.87 L123.31,406.76 L123.98,405.93 L124.64,405 L124.97,403.89 L125.41,403.06Z" fill="#c8c0e8" filter="url(#b05)"/>
<ellipse cx="126.07" cy="408.7" rx="2.82" ry="3.7" fill="#b0a0dc" filter="url(#b1)"/>
<path d="M134.89,402.78 L135.55,403.06 L135.99,403.89 L136.32,405 L136.98,405.93 L137.65,406.76 L137.98,407.87 L138.14,409.72 L138.31,412.03 L138.42,414.34 L138.2,416.01 L137.43,417.12 L136.21,417.53 L134.89,417.58 L133.57,417.53 L132.35,417.12 L131.58,416.01 L131.36,414.34 L131.47,412.03 L131.64,409.72 L131.8,407.87 L132.13,406.76 L132.8,405.93 L133.46,405 L133.79,403.89 L134.23,403.06Z" fill="#c8c0e8" filter="url(#b05)"/>
<ellipse cx="134.89" cy="410.18" rx="2.82" ry="3.7" fill="#9a88d4" filter="url(#b1)"/>
<rect x="95.2" y="421" width="44.1" height="17.6" fill="#181430"/>
<path d="M99.61,422.41 L100.27,422.67 L100.71,423.46 L101.04,424.52 L101.7,425.4 L102.37,426.19 L102.7,427.25 L102.86,429.01 L103.03,431.21 L103.14,433.41 L102.92,434.99 L102.15,436.05 L100.93,436.44 L99.61,436.49 L98.29,436.44 L97.07,436.05 L96.3,434.99 L96.08,433.41 L96.19,431.21 L96.36,429.01 L96.52,427.25 L96.85,426.19 L97.52,425.4 L98.18,424.52 L98.51,423.46 L98.95,422.67Z" fill="#8a78d0" filter="url(#b05)"/>
<ellipse cx="99.61" cy="426.63" rx="3.18" ry="3.52" fill="#5a40b0" filter="url(#b1)"/>
<ellipse cx="99.61" cy="432.97" rx="3.18" ry="2.82" fill="#d05030" filter="url(#b1)"/>
<ellipse cx="99.61" cy="432.26" rx="1.41" ry="1.41" fill="#2aa060" filter="url(#b1)"/>
<path d="M108.43,422.41 L109.09,422.67 L109.53,423.46 L109.86,424.52 L110.52,425.4 L111.19,426.19 L111.52,427.25 L111.68,429.01 L111.85,431.21 L111.96,433.41 L111.74,434.99 L110.97,436.05 L109.75,436.44 L108.43,436.49 L107.11,436.44 L105.89,436.05 L105.12,434.99 L104.9,433.41 L105.01,431.21 L105.18,429.01 L105.34,427.25 L105.67,426.19 L106.34,425.4 L107,424.52 L107.33,423.46 L107.77,422.67Z" fill="#e8e4f4" filter="url(#b05)"/>
<ellipse cx="108.43" cy="426.63" rx="3.18" ry="2.82" fill="#4a30b0" filter="url(#b1)"/>
<path d="M117.25,422.41 L117.91,422.67 L118.35,423.46 L118.68,424.52 L119.34,425.4 L120.01,426.19 L120.34,427.25 L120.5,429.01 L120.67,431.21 L120.78,433.41 L120.56,434.99 L119.79,436.05 L118.57,436.44 L117.25,436.49 L115.93,436.44 L114.71,436.05 L113.94,434.99 L113.72,433.41 L113.83,431.21 L114,429.01 L114.16,427.25 L114.49,426.19 L115.16,425.4 L115.82,424.52 L116.15,423.46 L116.59,422.67Z" fill="#3a2ab0" filter="url(#b05)"/>
<ellipse cx="117.25" cy="426.63" rx="3.18" ry="2.82" fill="#2ab060" filter="url(#b1)"/>
<ellipse cx="117.25" cy="427.34" rx="1.76" ry="1.69" fill="#e04020" filter="url(#b1)"/>
<ellipse cx="117.25" cy="432.97" rx="3.18" ry="2.82" fill="#e06020" filter="url(#b1)"/>
<path d="M126.07,422.41 L126.73,422.67 L127.17,423.46 L127.5,424.52 L128.16,425.4 L128.83,426.19 L129.16,427.25 L129.32,429.01 L129.49,431.21 L129.6,433.41 L129.38,434.99 L128.61,436.05 L127.39,436.44 L126.07,436.49 L124.75,436.44 L123.53,436.05 L122.76,434.99 L122.54,433.41 L122.65,431.21 L122.82,429.01 L122.98,427.25 L123.31,426.19 L123.98,425.4 L124.64,424.52 L124.97,423.46 L125.41,422.67Z" fill="#3a2ab0" filter="url(#b05)"/>
<ellipse cx="126.07" cy="426.63" rx="3.18" ry="2.82" fill="#f05020" filter="url(#b1)"/>
<ellipse cx="126.07" cy="428.04" rx="1.76" ry="2.11" fill="#30b050" filter="url(#b1)"/>
<ellipse cx="126.07" cy="432.97" rx="3.18" ry="2.82" fill="#d04030" filter="url(#b1)"/>
<path d="M134.89,422.41 L135.55,422.67 L135.99,423.46 L136.32,424.52 L136.98,425.4 L137.65,426.19 L137.98,427.25 L138.14,429.01 L138.31,431.21 L138.42,433.41 L138.2,434.99 L137.43,436.05 L136.21,436.44 L134.89,436.49 L133.57,436.44 L132.35,436.05 L131.58,434.99 L131.36,433.41 L131.47,431.21 L131.64,429.01 L131.8,427.25 L132.13,426.19 L132.8,425.4 L133.46,424.52 L133.79,423.46 L134.23,422.67Z" fill="#dcd8f0" filter="url(#b05)"/>
<ellipse cx="134.89" cy="428.04" rx="2.82" ry="2.82" fill="#5a40b0" filter="url(#b1)"/>
<rect x="94.7" y="440.7" width="45.1" height="19" fill="#888"/>
<rect x="95.2" y="441.2" width="44.1" height="18" fill="#2e2a2a"/>
<rect x="95.2" y="441.2" width="44.1" height="3" fill="#4a4a4a"/>
<line x1="96.61" y1="445.2" x2="102.61" y2="457.2" stroke="#8e1c1c" stroke-width="1.1"/>
<line x1="102.61" y1="445.2" x2="96.61" y2="457.2" stroke="#8e1c1c" stroke-width="1.1"/>
<circle cx="99.61" cy="444.7" r="0.9" fill="#999"/>
<line x1="114.25" y1="445.2" x2="120.25" y2="457.2" stroke="#8e1c1c" stroke-width="1.1"/>
<line x1="120.25" y1="445.2" x2="114.25" y2="457.2" stroke="#8e1c1c" stroke-width="1.1"/>
<circle cx="117.25" cy="444.7" r="0.9" fill="#999"/>
<line x1="123.07" y1="445.2" x2="129.07" y2="457.2" stroke="#8e1c1c" stroke-width="1.1"/>
<line x1="129.07" y1="445.2" x2="123.07" y2="457.2" stroke="#8e1c1c" stroke-width="1.1"/>
<circle cx="126.07" cy="444.7" r="0.9" fill="#999"/>
<line x1="131.89" y1="445.2" x2="137.89" y2="457.2" stroke="#8e1c1c" stroke-width="1.1"/>
<line x1="137.89" y1="445.2" x2="131.89" y2="457.2" stroke="#8e1c1c" stroke-width="1.1"/>
<circle cx="134.89" cy="444.7" r="0.9" fill="#999"/>
<ellipse cx="108.43" cy="447.2" rx="2.4" ry="2.4" fill="#3a2a90" filter="url(#b05)"/>
<ellipse cx="108.43" cy="453.7" rx="3.6" ry="4.5" fill="#f4f4f8" filter="url(#b05)"/>
<rect x="94.7" y="461.9" width="45.1" height="19.6" fill="#888"/>
<rect x="95.2" y="462.4" width="44.1" height="18.6" fill="#353535"/>
<rect x="95.2" y="462.4" width="44.1" height="1.5" fill="#555"/>
<circle cx="99.61" cy="466.9" r="0.9" fill="#aaa"/>
<path d="M99.61,465.4 L100.22,465.7 L100.63,466.6 L100.93,467.8 L101.54,468.8 L102.15,469.7 L102.45,470.9 L102.61,472.9 L102.76,475.4 L102.86,477.9 L102.66,479.7 L101.95,480.9 L100.83,481.35 L99.61,481.4 L98.39,481.35 L97.27,480.9 L96.56,479.7 L96.36,477.9 L96.46,475.4 L96.61,472.9 L96.77,470.9 L97.07,469.7 L97.68,468.8 L98.29,467.8 L98.59,466.6 L99,465.7Z" fill="#3d3d3d"/>
<circle cx="108.43" cy="466.9" r="0.9" fill="#aaa"/>
<circle cx="117.25" cy="466.9" r="0.9" fill="#aaa"/>
<path d="M117.25,465.4 L117.86,465.7 L118.27,466.6 L118.57,467.8 L119.18,468.8 L119.79,469.7 L120.09,470.9 L120.25,472.9 L120.4,475.4 L120.5,477.9 L120.3,479.7 L119.59,480.9 L118.47,481.35 L117.25,481.4 L116.03,481.35 L114.91,480.9 L114.2,479.7 L114,477.9 L114.1,475.4 L114.25,472.9 L114.41,470.9 L114.71,469.7 L115.32,468.8 L115.93,467.8 L116.23,466.6 L116.64,465.7Z" fill="#3d3d3d"/>
<circle cx="126.07" cy="466.9" r="0.9" fill="#aaa"/>
<path d="M126.07,465.4 L126.68,465.7 L127.09,466.6 L127.39,467.8 L128,468.8 L128.61,469.7 L128.91,470.9 L129.07,472.9 L129.22,475.4 L129.32,477.9 L129.12,479.7 L128.41,480.9 L127.29,481.35 L126.07,481.4 L124.85,481.35 L123.73,480.9 L123.02,479.7 L122.82,477.9 L122.92,475.4 L123.07,472.9 L123.23,470.9 L123.53,469.7 L124.14,468.8 L124.75,467.8 L125.05,466.6 L125.46,465.7Z" fill="#3d3d3d"/>
<circle cx="134.89" cy="466.9" r="0.9" fill="#aaa"/>
<path d="M134.89,465.4 L135.5,465.7 L135.91,466.6 L136.21,467.8 L136.82,468.8 L137.43,469.7 L137.73,470.9 L137.89,472.9 L138.04,475.4 L138.14,477.9 L137.94,479.7 L137.23,480.9 L136.11,481.35 L134.89,481.4 L133.67,481.35 L132.55,480.9 L131.84,479.7 L131.64,477.9 L131.74,475.4 L131.89,472.9 L132.05,470.9 L132.35,469.7 L132.96,468.8 L133.57,467.8 L133.87,466.6 L134.28,465.7Z" fill="#3d3d3d"/>
<ellipse cx="108.43" cy="470.4" rx="2.6" ry="3" fill="#4a3aa0" filter="url(#b05)"/>
<ellipse cx="108.43" cy="476.4" rx="3.8" ry="4.2" fill="#f4f4f8" filter="url(#b05)"/>
<rect x="150.3" y="377.9" width="3.5" height="51.3" fill="url(#cbar)"/>
<text x="156.8" y="385.57" font-size="3.8" fill="#666">0.8</text>
<line x1="153.7" y1="384.2" x2="155" y2="384.2" stroke="#555" stroke-width="0.4"/>
<text x="156.8" y="397.57" font-size="3.8" fill="#666">0.6</text>
<line x1="153.7" y1="396.2" x2="155" y2="396.2" stroke="#555" stroke-width="0.4"/>
<text x="156.8" y="409.87" font-size="3.8" fill="#666">0.4</text>
<line x1="153.7" y1="408.5" x2="155" y2="408.5" stroke="#555" stroke-width="0.4"/>
<text x="156.8" y="421.67" font-size="3.8" fill="#666">0.2</text>
<line x1="153.7" y1="420.3" x2="155" y2="420.3" stroke="#555" stroke-width="0.4"/>
<text x="163.7" y="405.3" font-size="3.6" fill="#666">×10<tspan dy="-1.2" font-size="2.6">6</tspan></text>
<text x="153.7" y="437.12" font-size="4.5" text-anchor="middle" textLength="17" lengthAdjust="spacingAndGlyphs" fill="#333">Radiance</text>
<text x="153.7" y="441.82" font-size="4.5" text-anchor="middle" textLength="27" lengthAdjust="spacingAndGlyphs" fill="#333">(p/sec/cm²/sr)</text>
<text x="153.7" y="449.62" font-size="4.5" text-anchor="middle" fill="#333">Color Scale</text>
<text x="153.7" y="454.42" font-size="4.5" text-anchor="middle" fill="#333">Min: 4.0e4</text>
<text x="153.7" y="459.42" font-size="4.5" text-anchor="middle" fill="#333">Max: 2.0e6</text>
<text transform="translate(208.2 331.7) scale(0.840 1)" x="0" y="0" font-size="12.06" font-weight="bold" fill="#111">H</text>
<line x1="243.2" y1="357.9" x2="243.2" y2="377.4" stroke="#111" stroke-width="1.4"/>
<line x1="241.2" y1="360.3" x2="243.2" y2="360.3" stroke="#111" stroke-width="0.8"/>
<line x1="241.2" y1="369.6" x2="243.2" y2="369.6" stroke="#111" stroke-width="0.8"/>
<text x="238.6" y="362.71" font-size="6.7" text-anchor="end" textLength="20.3" lengthAdjust="spacingAndGlyphs" stroke="#383838" stroke-width="0.08">4×10<tspan dy="-2.3" font-size="4.5">7</tspan></text>
<text x="238.6" y="372.11" font-size="6.7" text-anchor="end" textLength="20.3" lengthAdjust="spacingAndGlyphs" stroke="#383838" stroke-width="0.08">2×10<tspan dy="-2.3" font-size="4.5">7</tspan></text>
<line x1="243.2" y1="383.6" x2="243.2" y2="438.3" stroke="#111" stroke-width="1.3"/>
<line x1="242.7" y1="435.8" x2="359" y2="435.8" stroke="#111" stroke-width="1"/>
<line x1="240.7" y1="384.4" x2="243.2" y2="384.4" stroke="#111" stroke-width="0.8"/>
<text x="237.9" y="386.81" font-size="6.7" text-anchor="end" textLength="23.4" lengthAdjust="spacingAndGlyphs" stroke="#383838" stroke-width="0.08">1.5×10<tspan dy="-2.3" font-size="4.5">6</tspan></text>
<line x1="240.7" y1="401.8" x2="243.2" y2="401.8" stroke="#111" stroke-width="0.8"/>
<text x="237.9" y="404.21" font-size="6.7" text-anchor="end" textLength="18.7" lengthAdjust="spacingAndGlyphs" stroke="#383838" stroke-width="0.08">1×10<tspan dy="-2.3" font-size="4.5">6</tspan></text>
<line x1="240.7" y1="419" x2="243.2" y2="419" stroke="#111" stroke-width="0.8"/>
<text x="237.9" y="421.41" font-size="6.7" text-anchor="end" textLength="18.9" lengthAdjust="spacingAndGlyphs" stroke="#383838" stroke-width="0.08">5×10<tspan dy="-2.3" font-size="4.5">5</tspan></text>
<line x1="240.7" y1="435.6" x2="243.2" y2="435.6" stroke="#111" stroke-width="0.8"/>
<text x="236.6" y="437.83" font-size="6.2" text-anchor="end" stroke="#383838" stroke-width="0.08">0</text>
<line x1="241.6" y1="432.37" x2="243.2" y2="432.37" stroke="#111" stroke-width="0.5"/>
<line x1="241.6" y1="428.93" x2="243.2" y2="428.93" stroke="#111" stroke-width="0.5"/>
<line x1="241.6" y1="425.5" x2="243.2" y2="425.5" stroke="#111" stroke-width="0.5"/>
<line x1="241.6" y1="422.07" x2="243.2" y2="422.07" stroke="#111" stroke-width="0.5"/>
<line x1="241.6" y1="418.63" x2="243.2" y2="418.63" stroke="#111" stroke-width="0.5"/>
<line x1="241.6" y1="415.2" x2="243.2" y2="415.2" stroke="#111" stroke-width="0.5"/>
<line x1="241.6" y1="411.77" x2="243.2" y2="411.77" stroke="#111" stroke-width="0.5"/>
<line x1="241.6" y1="408.33" x2="243.2" y2="408.33" stroke="#111" stroke-width="0.5"/>
<line x1="241.6" y1="404.9" x2="243.2" y2="404.9" stroke="#111" stroke-width="0.5"/>
<line x1="241.6" y1="401.47" x2="243.2" y2="401.47" stroke="#111" stroke-width="0.5"/>
<line x1="241.6" y1="398.03" x2="243.2" y2="398.03" stroke="#111" stroke-width="0.5"/>
<line x1="241.6" y1="394.6" x2="243.2" y2="394.6" stroke="#111" stroke-width="0.5"/>
<line x1="241.6" y1="391.17" x2="243.2" y2="391.17" stroke="#111" stroke-width="0.5"/>
<line x1="241.6" y1="387.73" x2="243.2" y2="387.73" stroke="#111" stroke-width="0.5"/>
<line x1="242.8" y1="435.8" x2="242.8" y2="438" stroke="#111" stroke-width="0.8"/>
<text x="242.8" y="447.3" font-size="6.4" text-anchor="middle" stroke="#383838" stroke-width="0.08">0</text>
<line x1="261.7" y1="435.8" x2="261.7" y2="438" stroke="#111" stroke-width="0.8"/>
<text x="261.7" y="447.3" font-size="6.4" text-anchor="middle" stroke="#383838" stroke-width="0.08">14</text>
<line x1="280.6" y1="435.8" x2="280.6" y2="438" stroke="#111" stroke-width="0.8"/>
<text x="280.6" y="447.3" font-size="6.4" text-anchor="middle" stroke="#383838" stroke-width="0.08">28</text>
<line x1="299.5" y1="435.8" x2="299.5" y2="438" stroke="#111" stroke-width="0.8"/>
<text x="299.5" y="447.3" font-size="6.4" text-anchor="middle" stroke="#383838" stroke-width="0.08">42</text>
<line x1="318.4" y1="435.8" x2="318.4" y2="438" stroke="#111" stroke-width="0.8"/>
<text x="318.4" y="447.3" font-size="6.4" text-anchor="middle" stroke="#383838" stroke-width="0.08">56</text>
<line x1="337.3" y1="435.8" x2="337.3" y2="438" stroke="#111" stroke-width="0.8"/>
<text x="337.3" y="447.3" font-size="6.4" text-anchor="middle" stroke="#383838" stroke-width="0.08">70</text>
<line x1="356.2" y1="435.8" x2="356.2" y2="438" stroke="#111" stroke-width="0.8"/>
<text x="356.2" y="447.3" font-size="6.4" text-anchor="middle" stroke="#383838" stroke-width="0.08">84</text>
<text x="299.3" y="459.04" font-size="7.6" text-anchor="middle" textLength="71.2" lengthAdjust="spacingAndGlyphs" font-weight="bold">Days post leukemia injection</text>
<text transform="translate(196.8 398) rotate(-90)" x="0" y="2.59" font-size="7.2" text-anchor="middle" textLength="34.2" lengthAdjust="spacingAndGlyphs" font-weight="bold">Tumor burden</text>
<text transform="translate(206 399) rotate(-90)" x="0" y="2.59" font-size="7.2" text-anchor="middle" textLength="37.8" lengthAdjust="spacingAndGlyphs" font-weight="bold">(p/sec/cm<tspan dy="-2" font-size="4.5">2</tspan><tspan dy="2">/sr)</tspan></text>
<polyline points="252.25,435.3 261.7,435.5 271.15,435.3 280.6,435.3 290.05,434.5 299.5,430.5 308.95,410.2 318.4,414.5" fill="none" stroke="#c4102e" stroke-width="1.2" stroke-linejoin="round"/>
<rect x="250.9" y="433.95" width="2.7" height="2.7" fill="#c4102e"/>
<rect x="260.35" y="434.15" width="2.7" height="2.7" fill="#c4102e"/>
<rect x="269.8" y="433.95" width="2.7" height="2.7" fill="#c4102e"/>
<rect x="279.25" y="433.95" width="2.7" height="2.7" fill="#c4102e"/>
<rect x="288.7" y="433.15" width="2.7" height="2.7" fill="#c4102e"/>
<rect x="298.15" y="429.15" width="2.7" height="2.7" fill="#c4102e"/>
<rect x="307.6" y="408.85" width="2.7" height="2.7" fill="#c4102e"/>
<rect x="317.05" y="413.15" width="2.7" height="2.7" fill="#c4102e"/>
<polyline points="252.25,435.5 261.7,435.3 271.15,435.5 280.6,435 290.05,433 299.5,431.5 308.95,422 318.4,400.5" fill="none" stroke="#c4102e" stroke-width="1.2" stroke-linejoin="round"/>
<rect x="250.9" y="434.15" width="2.7" height="2.7" fill="#c4102e"/>
<rect x="260.35" y="433.95" width="2.7" height="2.7" fill="#c4102e"/>
<rect x="269.8" y="434.15" width="2.7" height="2.7" fill="#c4102e"/>
<rect x="279.25" y="433.65" width="2.7" height="2.7" fill="#c4102e"/>
<rect x="288.7" y="431.65" width="2.7" height="2.7" fill="#c4102e"/>
<rect x="298.15" y="430.15" width="2.7" height="2.7" fill="#c4102e"/>
<rect x="307.6" y="420.65" width="2.7" height="2.7" fill="#c4102e"/>
<rect x="317.05" y="399.15" width="2.7" height="2.7" fill="#c4102e"/>
<polyline points="252.25,435.5 261.7,435.5 271.15,435 280.6,435.3 290.05,434 299.5,432.5 318.4,419.2" fill="none" stroke="#c4102e" stroke-width="1.2" stroke-linejoin="round"/>
<rect x="250.9" y="434.15" width="2.7" height="2.7" fill="#c4102e"/>
<rect x="260.35" y="434.15" width="2.7" height="2.7" fill="#c4102e"/>
<rect x="269.8" y="433.65" width="2.7" height="2.7" fill="#c4102e"/>
<rect x="279.25" y="433.95" width="2.7" height="2.7" fill="#c4102e"/>
<rect x="288.7" y="432.65" width="2.7" height="2.7" fill="#c4102e"/>
<rect x="298.15" y="431.15" width="2.7" height="2.7" fill="#c4102e"/>
<rect x="317.05" y="417.85" width="2.7" height="2.7" fill="#c4102e"/>
<polyline points="252.25,435.3 261.7,435.5 271.15,435.5 280.6,435 290.05,435 299.5,433.5 308.95,434.8 318.4,432.2 327.85,434.8 337.3,434.8" fill="none" stroke="#c4102e" stroke-width="1.2" stroke-linejoin="round"/>
<rect x="250.9" y="433.95" width="2.7" height="2.7" fill="#c4102e"/>
<rect x="260.35" y="434.15" width="2.7" height="2.7" fill="#c4102e"/>
<rect x="269.8" y="434.15" width="2.7" height="2.7" fill="#c4102e"/>
<rect x="279.25" y="433.65" width="2.7" height="2.7" fill="#c4102e"/>
<rect x="288.7" y="433.65" width="2.7" height="2.7" fill="#c4102e"/>
<rect x="298.15" y="432.15" width="2.7" height="2.7" fill="#c4102e"/>
<rect x="307.6" y="433.45" width="2.7" height="2.7" fill="#c4102e"/>
<rect x="317.05" y="430.85" width="2.7" height="2.7" fill="#c4102e"/>
<rect x="326.5" y="433.45" width="2.7" height="2.7" fill="#c4102e"/>
<rect x="335.95" y="433.45" width="2.7" height="2.7" fill="#c4102e"/>
<polyline points="252.25,435.5 261.7,435.5 271.15,435.5 280.6,435.5 290.05,435 299.5,434.8 308.95,435 318.4,434.8" fill="none" stroke="#c4102e" stroke-width="1.2" stroke-linejoin="round"/>
<rect x="250.9" y="434.15" width="2.7" height="2.7" fill="#c4102e"/>
<rect x="260.35" y="434.15" width="2.7" height="2.7" fill="#c4102e"/>
<rect x="269.8" y="434.15" width="2.7" height="2.7" fill="#c4102e"/>
<rect x="279.25" y="434.15" width="2.7" height="2.7" fill="#c4102e"/>
<rect x="288.7" y="433.65" width="2.7" height="2.7" fill="#c4102e"/>
<rect x="298.15" y="433.45" width="2.7" height="2.7" fill="#c4102e"/>
<rect x="307.6" y="433.65" width="2.7" height="2.7" fill="#c4102e"/>
<rect x="317.05" y="433.45" width="2.7" height="2.7" fill="#c4102e"/>
<polyline points="252.25,435.3 261.7,432.2 280.6,386.4" fill="none" stroke="#34a544" stroke-width="1.05" stroke-linejoin="round"/>
<circle cx="252.25" cy="435.3" r="1.35" fill="#2b8f3a"/>
<circle cx="261.7" cy="432.2" r="1.35" fill="#2b8f3a"/>
<circle cx="280.6" cy="386.4" r="1.35" fill="#2b8f3a"/>
<polyline points="252.25,435.3 261.7,433.5 271.15,420.1 280.6,434 290.05,428" fill="none" stroke="#34a544" stroke-width="1.05" stroke-linejoin="round"/>
<circle cx="252.25" cy="435.3" r="1.35" fill="#2b8f3a"/>
<circle cx="261.7" cy="433.5" r="1.35" fill="#2b8f3a"/>
<circle cx="271.15" cy="420.1" r="1.35" fill="#2b8f3a"/>
<circle cx="280.6" cy="434" r="1.35" fill="#2b8f3a"/>
<circle cx="290.05" cy="428" r="1.35" fill="#2b8f3a"/>
<polyline points="252.25,435.5 261.7,434 271.15,434.8 280.6,430.4 290.05,367.8" fill="none" stroke="#34a544" stroke-width="1.05" stroke-linejoin="round"/>
<circle cx="252.25" cy="435.5" r="1.35" fill="#2b8f3a"/>
<circle cx="261.7" cy="434" r="1.35" fill="#2b8f3a"/>
<circle cx="271.15" cy="434.8" r="1.35" fill="#2b8f3a"/>
<circle cx="280.6" cy="430.4" r="1.35" fill="#2b8f3a"/>
<circle cx="290.05" cy="367.8" r="1.35" fill="#2b8f3a"/>
<polyline points="252.25,435.3 261.7,434.5 271.15,435 280.6,432 290.05,373.4" fill="none" stroke="#34a544" stroke-width="1.05" stroke-linejoin="round"/>
<circle cx="252.25" cy="435.3" r="1.35" fill="#2b8f3a"/>
<circle cx="261.7" cy="434.5" r="1.35" fill="#2b8f3a"/>
<circle cx="271.15" cy="435" r="1.35" fill="#2b8f3a"/>
<circle cx="280.6" cy="432" r="1.35" fill="#2b8f3a"/>
<circle cx="290.05" cy="373.4" r="1.35" fill="#2b8f3a"/>
<polyline points="280.6,434 290.05,426.6 299.5,412.6" fill="none" stroke="#34a544" stroke-width="1.05" stroke-linejoin="round"/>
<circle cx="280.6" cy="434" r="1.35" fill="#2b8f3a"/>
<circle cx="290.05" cy="426.6" r="1.35" fill="#2b8f3a"/>
<circle cx="299.5" cy="412.6" r="1.35" fill="#2b8f3a"/>
<polyline points="290.05,426.6 299.5,360.8" fill="none" stroke="#34a544" stroke-width="1.05" stroke-linejoin="round"/>
<circle cx="290.05" cy="426.6" r="1.35" fill="#2b8f3a"/>
<circle cx="299.5" cy="360.8" r="1.35" fill="#2b8f3a"/>
<rect x="287.5" y="378.6" width="6" height="4.6" fill="#fff"/>
<rect x="296.5" y="378.6" width="5" height="4.6" fill="#fff"/>
<rect x="373.1" y="323.4" width="2.15" height="8.3" fill="#111"/>
<line x1="402.9" y1="349.6" x2="409.6" y2="349.6" stroke="#5cb85c" stroke-width="0.9"/>
<line x1="402.9" y1="358.6" x2="409.6" y2="358.6" stroke="#d23c5a" stroke-width="0.9"/>
<text x="413.5" y="351.9" font-size="6.4" textLength="28" lengthAdjust="spacingAndGlyphs" stroke="#383838" stroke-width="0.08">Untreated</text>
<text x="412" y="360.9" font-size="6.4" textLength="30.5" lengthAdjust="spacingAndGlyphs" stroke="#383838" stroke-width="0.08">STRO-002</text>
<text x="445.4" y="336.34" font-size="6.5" textLength="62.6" lengthAdjust="spacingAndGlyphs" stroke="#383838" stroke-width="0.08">Median Survival (Days)</text>
<line x1="445.4" y1="337" x2="508" y2="337" stroke="#444" stroke-width="0.5"/>
<text x="495.7" y="351.9" font-size="6.4" text-anchor="end" stroke="#383838" stroke-width="0.08">35</text>
<text x="495.7" y="360.9" font-size="6.4" text-anchor="end" stroke="#383838" stroke-width="0.08">60</text>
<line x1="498.9" y1="344.4" x2="498.9" y2="366.9" stroke="#444" stroke-width="0.6"/>
<line x1="399" y1="371" x2="399" y2="438" stroke="#111" stroke-width="1.1"/>
<line x1="398.5" y1="435.5" x2="489" y2="435.5" stroke="#111" stroke-width="1"/>
<line x1="396" y1="435.5" x2="399" y2="435.5" stroke="#111" stroke-width="0.8"/>
<text x="393.2" y="437.77" font-size="6.3" text-anchor="end" stroke="#383838" stroke-width="0.08">0</text>
<line x1="396" y1="419.85" x2="399" y2="419.85" stroke="#111" stroke-width="0.8"/>
<text x="393.2" y="422.12" font-size="6.3" text-anchor="end" stroke="#383838" stroke-width="0.08">25</text>
<line x1="396" y1="404.2" x2="399" y2="404.2" stroke="#111" stroke-width="0.8"/>
<text x="393.2" y="406.47" font-size="6.3" text-anchor="end" stroke="#383838" stroke-width="0.08">50</text>
<line x1="396" y1="388.55" x2="399" y2="388.55" stroke="#111" stroke-width="0.8"/>
<text x="393.2" y="390.82" font-size="6.3" text-anchor="end" stroke="#383838" stroke-width="0.08">75</text>
<line x1="396" y1="372.9" x2="399" y2="372.9" stroke="#111" stroke-width="0.8"/>
<text x="393.2" y="375.17" font-size="6.3" text-anchor="end" stroke="#383838" stroke-width="0.08">100</text>
<line x1="398.9" y1="435.5" x2="398.9" y2="437.7" stroke="#111" stroke-width="0.8"/>
<text x="398.9" y="446.9" font-size="6.4" text-anchor="middle" stroke="#383838" stroke-width="0.08">0</text>
<line x1="413.43" y1="435.5" x2="413.43" y2="437.7" stroke="#111" stroke-width="0.8"/>
<text x="413.43" y="446.9" font-size="6.4" text-anchor="middle" stroke="#383838" stroke-width="0.08">14</text>
<line x1="427.96" y1="435.5" x2="427.96" y2="437.7" stroke="#111" stroke-width="0.8"/>
<text x="427.96" y="446.9" font-size="6.4" text-anchor="middle" stroke="#383838" stroke-width="0.08">28</text>
<line x1="442.5" y1="435.5" x2="442.5" y2="437.7" stroke="#111" stroke-width="0.8"/>
<text x="442.5" y="446.9" font-size="6.4" text-anchor="middle" stroke="#383838" stroke-width="0.08">42</text>
<line x1="457.03" y1="435.5" x2="457.03" y2="437.7" stroke="#111" stroke-width="0.8"/>
<text x="457.03" y="446.9" font-size="6.4" text-anchor="middle" stroke="#383838" stroke-width="0.08">56</text>
<line x1="471.56" y1="435.5" x2="471.56" y2="437.7" stroke="#111" stroke-width="0.8"/>
<text x="471.56" y="446.9" font-size="6.4" text-anchor="middle" stroke="#383838" stroke-width="0.08">70</text>
<line x1="486.09" y1="435.5" x2="486.09" y2="437.7" stroke="#111" stroke-width="0.8"/>
<text x="486.09" y="446.9" font-size="6.4" text-anchor="middle" stroke="#383838" stroke-width="0.08">84</text>
<text x="442.4" y="459.04" font-size="7.6" text-anchor="middle" textLength="71" lengthAdjust="spacingAndGlyphs" font-weight="bold">Days post leukemia injection</text>
<text transform="translate(373.6 404.2) rotate(-90)" x="0" y="2.66" font-size="7.4" text-anchor="middle" textLength="54" lengthAdjust="spacingAndGlyphs" font-weight="bold">Probability of survival</text>
<polyline points="400,374 435.4,374 435.4,411.2 442.4,411.2 442.4,435.2" fill="none" stroke="#4cb04c" stroke-width="1.1" stroke-linejoin="round"/>
<polyline points="400,373.3 460.2,373.3 460.2,385.3 461.2,385.3 461.2,423 475.8,423 475.8,435.2" fill="none" stroke="#c41848" stroke-width="1.4" stroke-linejoin="round"/>
</svg></body></html>
